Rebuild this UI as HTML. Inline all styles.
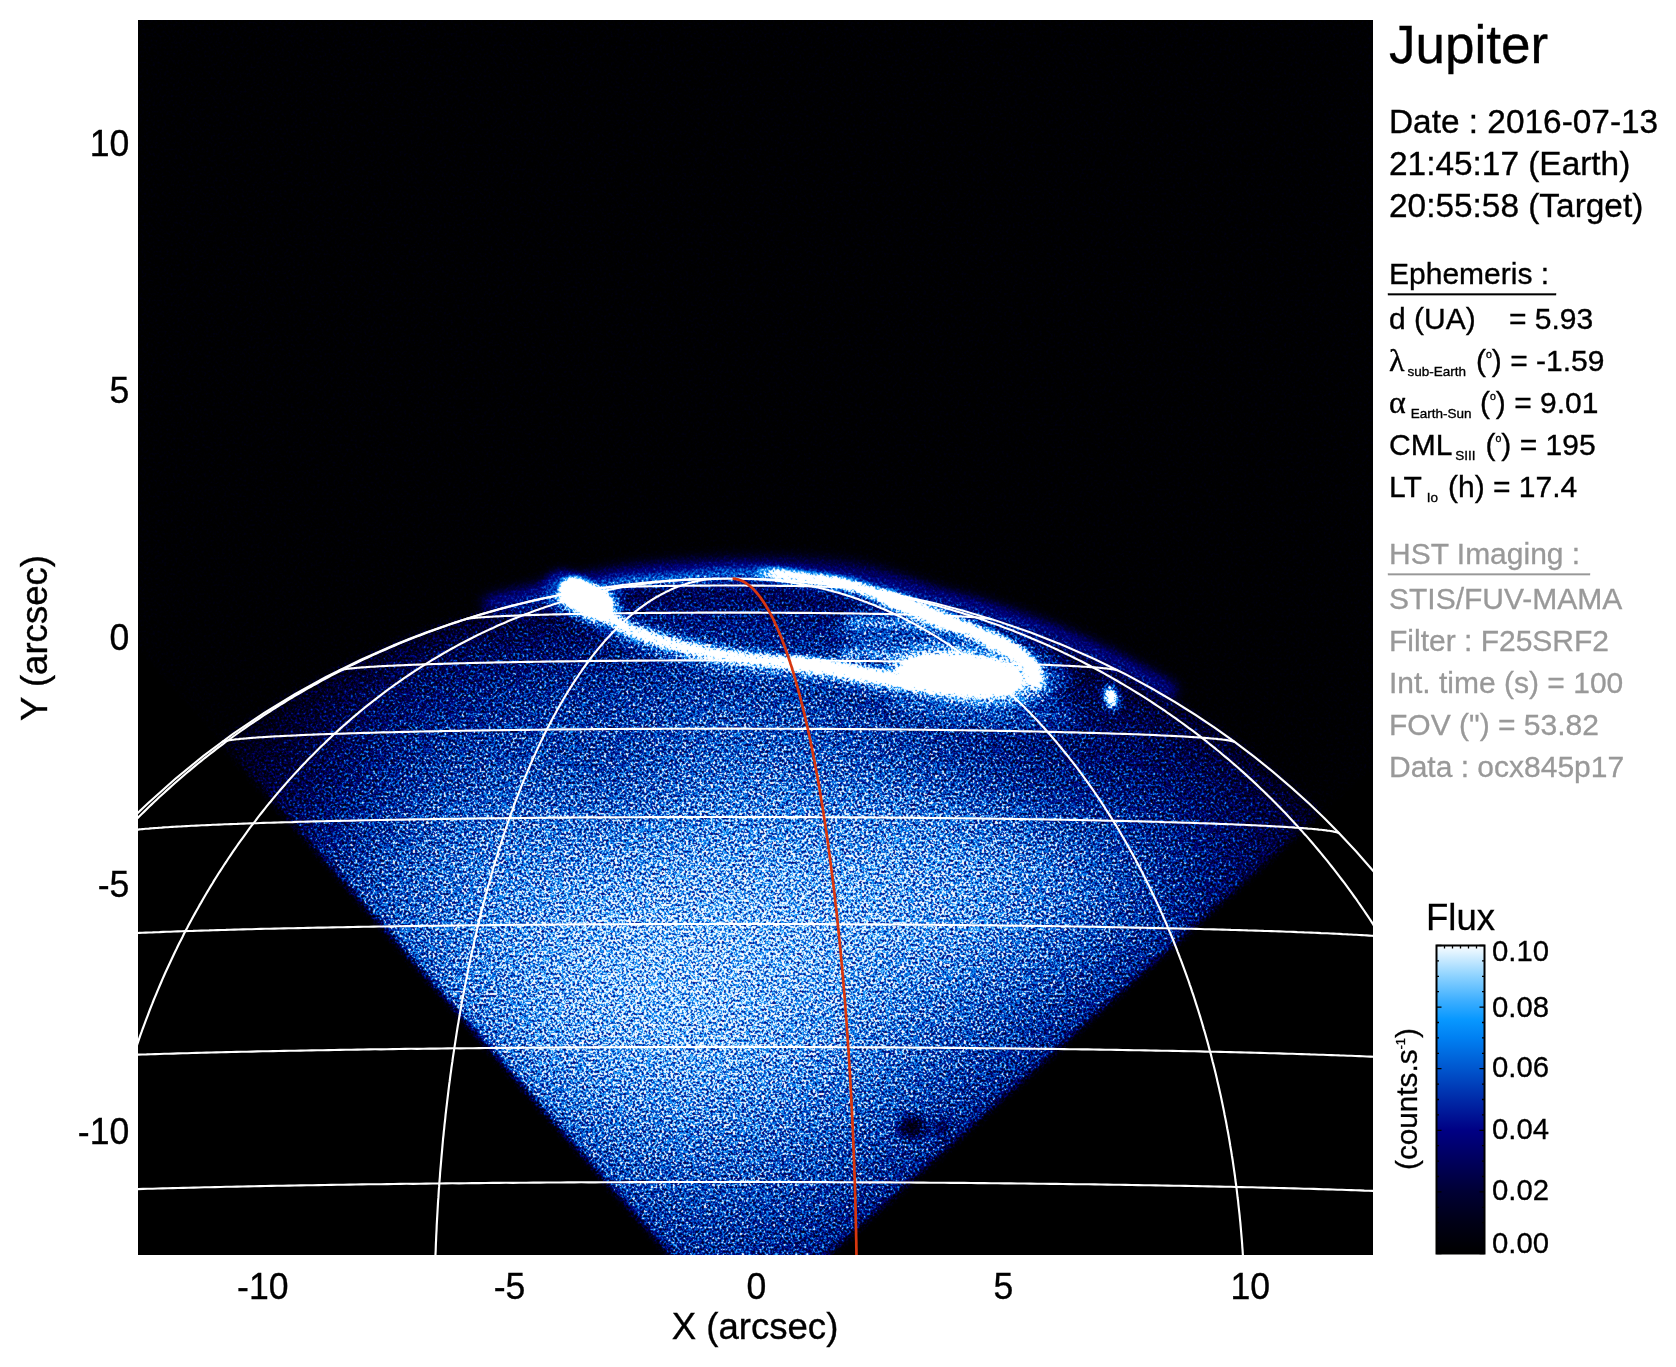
<!DOCTYPE html>
<html><head><meta charset="utf-8"><title>Jupiter HST STIS</title>
<style>
html,body{margin:0;padding:0;background:#fff;}
body{width:1676px;height:1367px;overflow:hidden;font-family:"Liberation Sans",sans-serif;}
svg{display:block;position:absolute;left:0;top:0;will-change:transform;}
text{font-family:"Liberation Sans",sans-serif;}
</style></head><body>
<svg width="1676" height="1367" viewBox="0 0 1676 1367">
<defs>
<clipPath id="plotclip"><rect x="138" y="20" width="1235" height="1235"/></clipPath>
</defs>
<rect x="0" y="0" width="1676" height="1367" fill="#fff"/>
<rect x="138" y="20" width="1235" height="1235" fill="#000"/>

<defs>
<filter id="nz" filterUnits="userSpaceOnUse" x="138" y="20" width="1235" height="1235" color-interpolation-filters="sRGB">
<feTurbulence type="fractalNoise" baseFrequency="0.45" numOctaves="2" seed="7" result="t"/>
<feColorMatrix in="t" type="matrix" values="1.700 0 0 0 -0.350  1.700 0 0 0 -0.350  1.700 0 0 0 -0.350  0 0 0 0 1" result="n"/>
<feComponentTransfer in="n" result="ng"><feFuncR type="gamma" exponent="1.5" amplitude="1" offset="0"/><feFuncG type="gamma" exponent="1.5" amplitude="1" offset="0"/><feFuncB type="gamma" exponent="1.5" amplitude="1" offset="0"/></feComponentTransfer>
<feColorMatrix in="SourceGraphic" type="matrix" values="1 0 0 0 0  1 0 0 0 0  1 0 0 0 0  0 0 0 0 1" result="sr"/>
<feColorMatrix in="SourceGraphic" type="matrix" values="0 1 0 0 0  0 1 0 0 0  0 1 0 0 0  0 0 0 0 1" result="sg"/>
<feComponentTransfer in="sr" result="sq"><feFuncR type="gamma" exponent="0.5" amplitude="1" offset="0"/><feFuncG type="gamma" exponent="0.5" amplitude="1" offset="0"/><feFuncB type="gamma" exponent="0.5" amplitude="1" offset="0"/></feComponentTransfer>
<feComposite in="sr" in2="sq" operator="arithmetic" k1="0" k2="0.5" k3="-0.2909" k4="0.25" result="q"/>
<feComposite in="sq" in2="ng" operator="arithmetic" k1="1" k2="0" k3="0" k4="0" result="p"/>
<feComposite in="q" in2="p" operator="arithmetic" k1="0" k2="2" k3="1.5600" k4="-0.5" result="m1"/>
<feComposite in="sg" in2="n" operator="arithmetic" k1="2" k2="2" k3="0" k4="0" result="m2"/>
<feComposite in="m1" in2="m2" operator="arithmetic" k1="0" k2="1" k3="1" k4="0" result="m"/>
<feComponentTransfer in="m">
<feFuncR type="table" tableValues="0.000 0.000 0.000 0.000 0.000 0.000 0.000 0.000 0.000 0.000 0.000 0.000 0.000 0.000 0.000 0.000 0.000 0.000 0.000 0.000 0.000 0.000 0.000 0.000 0.000 0.000 0.000 0.000 0.000 0.000 0.000 0.000 0.000 0.000 0.000 0.000 0.010 0.021 0.031 0.099 0.167 0.235 0.314 0.392 0.471 0.549 0.639 0.729 0.820 0.910 1.000"/>
<feFuncG type="table" tableValues="0.000 0.000 0.000 0.000 0.000 0.000 0.000 0.000 0.000 0.000 0.000 0.000 0.000 0.000 0.000 0.000 0.000 0.000 0.000 0.000 0.000 0.033 0.066 0.099 0.132 0.165 0.199 0.234 0.268 0.303 0.337 0.370 0.403 0.436 0.469 0.502 0.533 0.565 0.596 0.625 0.654 0.682 0.718 0.753 0.788 0.824 0.859 0.894 0.929 0.965 1.000"/>
<feFuncB type="table" tableValues="0.000 0.017 0.035 0.052 0.069 0.086 0.110 0.133 0.157 0.180 0.204 0.235 0.267 0.298 0.329 0.361 0.392 0.424 0.455 0.486 0.518 0.546 0.574 0.602 0.631 0.659 0.689 0.718 0.748 0.778 0.808 0.836 0.864 0.893 0.921 0.949 0.966 0.983 1.000 1.000 1.000 1.000 1.000 1.000 1.000 1.000 1.000 1.000 1.000 1.000 1.000"/>
</feComponentTransfer>
<feConvolveMatrix order="3" kernelMatrix="0.02 0.06 0.02 0.06 0.68 0.06 0.02 0.06 0.02" preserveAlpha="true" edgeMode="duplicate"/>
</filter>
<filter id="bt" color-interpolation-filters="sRGB" filterUnits="userSpaceOnUse" x="78" y="20" width="1355" height="1295"><feGaussianBlur stdDeviation="11"/></filter>
<filter id="b2" color-interpolation-filters="sRGB" filterUnits="userSpaceOnUse" x="138" y="20" width="1235" height="1235"><feGaussianBlur stdDeviation="2.2"/></filter>
<filter id="be" color-interpolation-filters="sRGB" filterUnits="userSpaceOnUse" x="138" y="20" width="1235" height="1235"><feGaussianBlur stdDeviation="3"/></filter>
<filter id="b3" color-interpolation-filters="sRGB" filterUnits="userSpaceOnUse" x="138" y="20" width="1235" height="1235"><feGaussianBlur stdDeviation="3.5"/></filter>
<filter id="b5" color-interpolation-filters="sRGB" filterUnits="userSpaceOnUse" x="138" y="20" width="1235" height="1235"><feGaussianBlur stdDeviation="5"/></filter>
<filter id="b8" color-interpolation-filters="sRGB" filterUnits="userSpaceOnUse" x="138" y="20" width="1235" height="1235"><feGaussianBlur stdDeviation="9"/></filter>
<clipPath id="diam"><path d="M739.6 1333.9 L-248.3 205.1 L868.3 -796.4 L1856.2 332.3Z"/></clipPath>
<clipPath id="limb"><ellipse cx="728.4" cy="1346.6" rx="823.2" ry="769.95"/></clipPath>
<radialGradient id="ld" gradientUnits="userSpaceOnUse" cx="0" cy="0" r="1" gradientTransform="translate(728.4 1346.6) scale(823.2 769.95)">
<stop offset="0.000" stop-color="rgb(242,0,0)"/>
<stop offset="0.300" stop-color="rgb(234,0,0)"/>
<stop offset="0.500" stop-color="rgb(218,0,0)"/>
<stop offset="0.650" stop-color="rgb(198,0,0)"/>
<stop offset="0.750" stop-color="rgb(179,0,0)"/>
<stop offset="0.820" stop-color="rgb(162,0,0)"/>
<stop offset="0.880" stop-color="rgb(143,0,0)"/>
<stop offset="0.920" stop-color="rgb(126,0,0)"/>
<stop offset="0.950" stop-color="rgb(110,0,0)"/>
<stop offset="0.975" stop-color="rgb(91,0,0)"/>
<stop offset="0.990" stop-color="rgb(74,0,0)"/>
<stop offset="1.000" stop-color="rgb(39,0,0)"/>
</radialGradient>
<radialGradient id="dk" gradientUnits="userSpaceOnUse" cx="0" cy="0" r="1" gradientTransform="translate(680 1010) scale(640 520)">
<stop offset="0" stop-color="#000" stop-opacity="0"/>
<stop offset="0.3" stop-color="#000" stop-opacity="0.03"/>
<stop offset="0.6" stop-color="#000" stop-opacity="0.25"/>
<stop offset="1" stop-color="#000" stop-opacity="0.5"/>
</radialGradient>
</defs>
<g clip-path="url(#plotclip)">
<g filter="url(#nz)">
<rect x="138" y="20" width="1235" height="1235" fill="#000"/>
<g filter="url(#be)">
<g clip-path="url(#diam)">
<rect x="138" y="20" width="1235" height="1235" fill="rgb(2,0,0)"/>
<g clip-path="url(#limb)">
<rect x="138" y="20" width="1235" height="1235" fill="rgb(102,0,0)"/>
<g filter="url(#bt)">
<path d="M114 548h25v25h-25z" fill="rgb(19,0,0)"/>
<path d="M138 548h25v25h-25z" fill="rgb(20,0,0)"/>
<path d="M162 548h25v25h-25z" fill="rgb(20,0,0)"/>
<path d="M186 548h25v25h-25z" fill="rgb(20,0,0)"/>
<path d="M210 548h25v25h-25z" fill="rgb(20,0,0)"/>
<path d="M234 548h25v25h-25z" fill="rgb(20,0,0)"/>
<path d="M258 548h25v25h-25z" fill="rgb(20,0,0)"/>
<path d="M282 548h25v25h-25z" fill="rgb(20,0,0)"/>
<path d="M306 548h25v25h-25z" fill="rgb(20,0,0)"/>
<path d="M330 548h25v25h-25z" fill="rgb(20,0,0)"/>
<path d="M354 548h25v25h-25z" fill="rgb(21,0,0)"/>
<path d="M378 548h25v25h-25z" fill="rgb(21,0,0)"/>
<path d="M402 548h25v25h-25z" fill="rgb(21,0,0)"/>
<path d="M426 548h25v25h-25z" fill="rgb(21,0,0)"/>
<path d="M450 548h25v25h-25z" fill="rgb(21,0,0)"/>
<path d="M474 548h25v25h-25z" fill="rgb(21,0,0)"/>
<path d="M498 548h25v25h-25z" fill="rgb(21,0,0)"/>
<path d="M522 548h25v25h-25z" fill="rgb(21,0,0)"/>
<path d="M546 548h25v25h-25z" fill="rgb(21,0,0)"/>
<path d="M570 548h25v25h-25z" fill="rgb(21,0,0)"/>
<path d="M594 548h25v25h-25z" fill="rgb(21,0,0)"/>
<path d="M618 548h25v25h-25z" fill="rgb(21,0,0)"/>
<path d="M642 548h25v25h-25z" fill="rgb(21,0,0)"/>
<path d="M666 548h25v25h-25z" fill="rgb(21,0,0)"/>
<path d="M690 548h25v25h-25z" fill="rgb(21,0,0)"/>
<path d="M714 548h25v25h-25z" fill="rgb(21,0,0)"/>
<path d="M738 548h25v25h-25z" fill="rgb(21,0,0)"/>
<path d="M762 548h25v25h-25z" fill="rgb(21,0,0)"/>
<path d="M786 548h25v25h-25z" fill="rgb(21,0,0)"/>
<path d="M810 548h25v25h-25z" fill="rgb(21,0,0)"/>
<path d="M834 548h25v25h-25z" fill="rgb(21,0,0)"/>
<path d="M858 548h25v25h-25z" fill="rgb(21,0,0)"/>
<path d="M882 548h25v25h-25z" fill="rgb(21,0,0)"/>
<path d="M906 548h25v25h-25z" fill="rgb(21,0,0)"/>
<path d="M930 548h25v25h-25z" fill="rgb(21,0,0)"/>
<path d="M954 548h25v25h-25z" fill="rgb(21,0,0)"/>
<path d="M978 548h25v25h-25z" fill="rgb(21,0,0)"/>
<path d="M1002 548h25v25h-25z" fill="rgb(21,0,0)"/>
<path d="M1026 548h25v25h-25z" fill="rgb(21,0,0)"/>
<path d="M1050 548h25v25h-25z" fill="rgb(20,0,0)"/>
<path d="M1074 548h25v25h-25z" fill="rgb(20,0,0)"/>
<path d="M1098 548h25v25h-25z" fill="rgb(20,0,0)"/>
<path d="M1122 548h25v25h-25z" fill="rgb(20,0,0)"/>
<path d="M1146 548h25v25h-25z" fill="rgb(20,0,0)"/>
<path d="M1170 548h25v25h-25z" fill="rgb(20,0,0)"/>
<path d="M1194 548h25v25h-25z" fill="rgb(20,0,0)"/>
<path d="M1218 548h25v25h-25z" fill="rgb(20,0,0)"/>
<path d="M1242 548h25v25h-25z" fill="rgb(20,0,0)"/>
<path d="M1266 548h25v25h-25z" fill="rgb(20,0,0)"/>
<path d="M1290 548h25v25h-25z" fill="rgb(20,0,0)"/>
<path d="M1314 548h25v25h-25z" fill="rgb(20,0,0)"/>
<path d="M1338 548h25v25h-25z" fill="rgb(20,0,0)"/>
<path d="M1362 548h25v25h-25z" fill="rgb(20,0,0)"/>
<path d="M1386 548h25v25h-25z" fill="rgb(20,0,0)"/>
<path d="M114 572h25v25h-25z" fill="rgb(19,0,0)"/>
<path d="M138 572h25v25h-25z" fill="rgb(19,0,0)"/>
<path d="M162 572h25v25h-25z" fill="rgb(19,0,0)"/>
<path d="M186 572h25v25h-25z" fill="rgb(19,0,0)"/>
<path d="M210 572h25v25h-25z" fill="rgb(20,0,0)"/>
<path d="M234 572h25v25h-25z" fill="rgb(20,0,0)"/>
<path d="M258 572h25v25h-25z" fill="rgb(20,0,0)"/>
<path d="M282 572h25v25h-25z" fill="rgb(20,0,0)"/>
<path d="M306 572h25v25h-25z" fill="rgb(20,0,0)"/>
<path d="M330 572h25v25h-25z" fill="rgb(20,0,0)"/>
<path d="M354 572h25v25h-25z" fill="rgb(21,0,0)"/>
<path d="M378 572h25v25h-25z" fill="rgb(21,0,0)"/>
<path d="M402 572h25v25h-25z" fill="rgb(21,0,0)"/>
<path d="M426 572h25v25h-25z" fill="rgb(21,0,0)"/>
<path d="M450 572h25v25h-25z" fill="rgb(21,0,0)"/>
<path d="M474 572h25v25h-25z" fill="rgb(21,0,0)"/>
<path d="M498 572h25v25h-25z" fill="rgb(21,0,0)"/>
<path d="M522 572h25v25h-25z" fill="rgb(21,0,0)"/>
<path d="M546 572h25v25h-25z" fill="rgb(21,0,0)"/>
<path d="M570 572h25v25h-25z" fill="rgb(21,0,0)"/>
<path d="M594 572h25v25h-25z" fill="rgb(21,0,0)"/>
<path d="M618 572h25v25h-25z" fill="rgb(21,0,0)"/>
<path d="M642 572h25v25h-25z" fill="rgb(34,0,0)"/>
<path d="M666 572h25v25h-25z" fill="rgb(38,0,0)"/>
<path d="M690 572h25v25h-25z" fill="rgb(40,0,0)"/>
<path d="M714 572h25v25h-25z" fill="rgb(41,0,0)"/>
<path d="M738 572h25v25h-25z" fill="rgb(40,0,0)"/>
<path d="M762 572h25v25h-25z" fill="rgb(38,0,0)"/>
<path d="M786 572h25v25h-25z" fill="rgb(35,0,0)"/>
<path d="M810 572h25v25h-25z" fill="rgb(26,0,0)"/>
<path d="M834 572h25v25h-25z" fill="rgb(21,0,0)"/>
<path d="M858 572h25v25h-25z" fill="rgb(21,0,0)"/>
<path d="M882 572h25v25h-25z" fill="rgb(21,0,0)"/>
<path d="M906 572h25v25h-25z" fill="rgb(21,0,0)"/>
<path d="M930 572h25v25h-25z" fill="rgb(21,0,0)"/>
<path d="M954 572h25v25h-25z" fill="rgb(21,0,0)"/>
<path d="M978 572h25v25h-25z" fill="rgb(21,0,0)"/>
<path d="M1002 572h25v25h-25z" fill="rgb(21,0,0)"/>
<path d="M1026 572h25v25h-25z" fill="rgb(21,0,0)"/>
<path d="M1050 572h25v25h-25z" fill="rgb(21,0,0)"/>
<path d="M1074 572h25v25h-25z" fill="rgb(20,0,0)"/>
<path d="M1098 572h25v25h-25z" fill="rgb(20,0,0)"/>
<path d="M1122 572h25v25h-25z" fill="rgb(20,0,0)"/>
<path d="M1146 572h25v25h-25z" fill="rgb(20,0,0)"/>
<path d="M1170 572h25v25h-25z" fill="rgb(20,0,0)"/>
<path d="M1194 572h25v25h-25z" fill="rgb(20,0,0)"/>
<path d="M1218 572h25v25h-25z" fill="rgb(20,0,0)"/>
<path d="M1242 572h25v25h-25z" fill="rgb(20,0,0)"/>
<path d="M1266 572h25v25h-25z" fill="rgb(20,0,0)"/>
<path d="M1290 572h25v25h-25z" fill="rgb(20,0,0)"/>
<path d="M1314 572h25v25h-25z" fill="rgb(20,0,0)"/>
<path d="M1338 572h25v25h-25z" fill="rgb(20,0,0)"/>
<path d="M1362 572h25v25h-25z" fill="rgb(20,0,0)"/>
<path d="M1386 572h25v25h-25z" fill="rgb(19,0,0)"/>
<path d="M114 596h25v25h-25z" fill="rgb(18,0,0)"/>
<path d="M138 596h25v25h-25z" fill="rgb(18,0,0)"/>
<path d="M162 596h25v25h-25z" fill="rgb(19,0,0)"/>
<path d="M186 596h25v25h-25z" fill="rgb(19,0,0)"/>
<path d="M210 596h25v25h-25z" fill="rgb(19,0,0)"/>
<path d="M234 596h25v25h-25z" fill="rgb(19,0,0)"/>
<path d="M258 596h25v25h-25z" fill="rgb(19,0,0)"/>
<path d="M282 596h25v25h-25z" fill="rgb(20,0,0)"/>
<path d="M306 596h25v25h-25z" fill="rgb(20,0,0)"/>
<path d="M330 596h25v25h-25z" fill="rgb(20,0,0)"/>
<path d="M354 596h25v25h-25z" fill="rgb(20,0,0)"/>
<path d="M378 596h25v25h-25z" fill="rgb(21,0,0)"/>
<path d="M402 596h25v25h-25z" fill="rgb(21,0,0)"/>
<path d="M426 596h25v25h-25z" fill="rgb(21,0,0)"/>
<path d="M450 596h25v25h-25z" fill="rgb(21,0,0)"/>
<path d="M474 596h25v25h-25z" fill="rgb(21,0,0)"/>
<path d="M498 596h25v25h-25z" fill="rgb(32,0,0)"/>
<path d="M522 596h25v25h-25z" fill="rgb(45,0,0)"/>
<path d="M546 596h25v25h-25z" fill="rgb(52,0,0)"/>
<path d="M570 596h25v25h-25z" fill="rgb(57,0,0)"/>
<path d="M594 596h25v25h-25z" fill="rgb(60,0,0)"/>
<path d="M618 596h25v25h-25z" fill="rgb(63,0,0)"/>
<path d="M642 596h25v25h-25z" fill="rgb(65,0,0)"/>
<path d="M666 596h25v25h-25z" fill="rgb(67,0,0)"/>
<path d="M690 596h25v25h-25z" fill="rgb(68,0,0)"/>
<path d="M714 596h25v25h-25z" fill="rgb(68,0,0)"/>
<path d="M738 596h25v25h-25z" fill="rgb(68,0,0)"/>
<path d="M762 596h25v25h-25z" fill="rgb(67,0,0)"/>
<path d="M786 596h25v25h-25z" fill="rgb(65,0,0)"/>
<path d="M810 596h25v25h-25z" fill="rgb(63,0,0)"/>
<path d="M834 596h25v25h-25z" fill="rgb(60,0,0)"/>
<path d="M858 596h25v25h-25z" fill="rgb(56,0,0)"/>
<path d="M882 596h25v25h-25z" fill="rgb(51,0,0)"/>
<path d="M906 596h25v25h-25z" fill="rgb(45,0,0)"/>
<path d="M930 596h25v25h-25z" fill="rgb(35,0,0)"/>
<path d="M954 596h25v25h-25z" fill="rgb(21,0,0)"/>
<path d="M978 596h25v25h-25z" fill="rgb(21,0,0)"/>
<path d="M1002 596h25v25h-25z" fill="rgb(21,0,0)"/>
<path d="M1026 596h25v25h-25z" fill="rgb(21,0,0)"/>
<path d="M1050 596h25v25h-25z" fill="rgb(21,0,0)"/>
<path d="M1074 596h25v25h-25z" fill="rgb(21,0,0)"/>
<path d="M1098 596h25v25h-25z" fill="rgb(20,0,0)"/>
<path d="M1122 596h25v25h-25z" fill="rgb(20,0,0)"/>
<path d="M1146 596h25v25h-25z" fill="rgb(20,0,0)"/>
<path d="M1170 596h25v25h-25z" fill="rgb(20,0,0)"/>
<path d="M1194 596h25v25h-25z" fill="rgb(20,0,0)"/>
<path d="M1218 596h25v25h-25z" fill="rgb(20,0,0)"/>
<path d="M1242 596h25v25h-25z" fill="rgb(20,0,0)"/>
<path d="M1266 596h25v25h-25z" fill="rgb(20,0,0)"/>
<path d="M1290 596h25v25h-25z" fill="rgb(20,0,0)"/>
<path d="M1314 596h25v25h-25z" fill="rgb(20,0,0)"/>
<path d="M1338 596h25v25h-25z" fill="rgb(20,0,0)"/>
<path d="M1362 596h25v25h-25z" fill="rgb(19,0,0)"/>
<path d="M1386 596h25v25h-25z" fill="rgb(19,0,0)"/>
<path d="M114 620h25v25h-25z" fill="rgb(17,0,0)"/>
<path d="M138 620h25v25h-25z" fill="rgb(17,0,0)"/>
<path d="M162 620h25v25h-25z" fill="rgb(17,0,0)"/>
<path d="M186 620h25v25h-25z" fill="rgb(18,0,0)"/>
<path d="M210 620h25v25h-25z" fill="rgb(18,0,0)"/>
<path d="M234 620h25v25h-25z" fill="rgb(18,0,0)"/>
<path d="M258 620h25v25h-25z" fill="rgb(18,0,0)"/>
<path d="M282 620h25v25h-25z" fill="rgb(19,0,0)"/>
<path d="M306 620h25v25h-25z" fill="rgb(19,0,0)"/>
<path d="M330 620h25v25h-25z" fill="rgb(20,0,0)"/>
<path d="M354 620h25v25h-25z" fill="rgb(20,0,0)"/>
<path d="M378 620h25v25h-25z" fill="rgb(21,0,0)"/>
<path d="M402 620h25v25h-25z" fill="rgb(21,0,0)"/>
<path d="M426 620h25v25h-25z" fill="rgb(37,0,0)"/>
<path d="M450 620h25v25h-25z" fill="rgb(50,0,0)"/>
<path d="M474 620h25v25h-25z" fill="rgb(58,0,0)"/>
<path d="M498 620h25v25h-25z" fill="rgb(65,0,0)"/>
<path d="M522 620h25v25h-25z" fill="rgb(70,0,0)"/>
<path d="M546 620h25v25h-25z" fill="rgb(74,0,0)"/>
<path d="M570 620h25v25h-25z" fill="rgb(77,0,0)"/>
<path d="M594 620h25v25h-25z" fill="rgb(80,0,0)"/>
<path d="M618 620h25v25h-25z" fill="rgb(82,0,0)"/>
<path d="M642 620h25v25h-25z" fill="rgb(84,0,0)"/>
<path d="M666 620h25v25h-25z" fill="rgb(85,0,0)"/>
<path d="M690 620h25v25h-25z" fill="rgb(86,0,0)"/>
<path d="M714 620h25v25h-25z" fill="rgb(86,0,0)"/>
<path d="M738 620h25v25h-25z" fill="rgb(86,0,0)"/>
<path d="M762 620h25v25h-25z" fill="rgb(85,0,0)"/>
<path d="M786 620h25v25h-25z" fill="rgb(83,0,0)"/>
<path d="M810 620h25v25h-25z" fill="rgb(81,0,0)"/>
<path d="M834 620h25v25h-25z" fill="rgb(79,0,0)"/>
<path d="M858 620h25v25h-25z" fill="rgb(76,0,0)"/>
<path d="M882 620h25v25h-25z" fill="rgb(72,0,0)"/>
<path d="M906 620h25v25h-25z" fill="rgb(68,0,0)"/>
<path d="M930 620h25v25h-25z" fill="rgb(64,0,0)"/>
<path d="M954 620h25v25h-25z" fill="rgb(58,0,0)"/>
<path d="M978 620h25v25h-25z" fill="rgb(50,0,0)"/>
<path d="M1002 620h25v25h-25z" fill="rgb(39,0,0)"/>
<path d="M1026 620h25v25h-25z" fill="rgb(21,0,0)"/>
<path d="M1050 620h25v25h-25z" fill="rgb(21,0,0)"/>
<path d="M1074 620h25v25h-25z" fill="rgb(21,0,0)"/>
<path d="M1098 620h25v25h-25z" fill="rgb(20,0,0)"/>
<path d="M1122 620h25v25h-25z" fill="rgb(20,0,0)"/>
<path d="M1146 620h25v25h-25z" fill="rgb(20,0,0)"/>
<path d="M1170 620h25v25h-25z" fill="rgb(20,0,0)"/>
<path d="M1194 620h25v25h-25z" fill="rgb(20,0,0)"/>
<path d="M1218 620h25v25h-25z" fill="rgb(20,0,0)"/>
<path d="M1242 620h25v25h-25z" fill="rgb(20,0,0)"/>
<path d="M1266 620h25v25h-25z" fill="rgb(20,0,0)"/>
<path d="M1290 620h25v25h-25z" fill="rgb(20,0,0)"/>
<path d="M1314 620h25v25h-25z" fill="rgb(20,0,0)"/>
<path d="M1338 620h25v25h-25z" fill="rgb(19,0,0)"/>
<path d="M1362 620h25v25h-25z" fill="rgb(19,0,0)"/>
<path d="M1386 620h25v25h-25z" fill="rgb(19,0,0)"/>
<path d="M114 644h25v25h-25z" fill="rgb(16,0,0)"/>
<path d="M138 644h25v25h-25z" fill="rgb(16,0,0)"/>
<path d="M162 644h25v25h-25z" fill="rgb(16,0,0)"/>
<path d="M186 644h25v25h-25z" fill="rgb(16,0,0)"/>
<path d="M210 644h25v25h-25z" fill="rgb(16,0,0)"/>
<path d="M234 644h25v25h-25z" fill="rgb(16,0,0)"/>
<path d="M258 644h25v25h-25z" fill="rgb(17,0,0)"/>
<path d="M282 644h25v25h-25z" fill="rgb(18,0,0)"/>
<path d="M306 644h25v25h-25z" fill="rgb(19,0,0)"/>
<path d="M330 644h25v25h-25z" fill="rgb(19,0,0)"/>
<path d="M354 644h25v25h-25z" fill="rgb(20,0,0)"/>
<path d="M378 644h25v25h-25z" fill="rgb(44,0,0)"/>
<path d="M402 644h25v25h-25z" fill="rgb(56,0,0)"/>
<path d="M426 644h25v25h-25z" fill="rgb(65,0,0)"/>
<path d="M450 644h25v25h-25z" fill="rgb(72,0,0)"/>
<path d="M474 644h25v25h-25z" fill="rgb(78,0,0)"/>
<path d="M498 644h25v25h-25z" fill="rgb(83,0,0)"/>
<path d="M522 644h25v25h-25z" fill="rgb(88,0,0)"/>
<path d="M546 644h25v25h-25z" fill="rgb(92,0,0)"/>
<path d="M570 644h25v25h-25z" fill="rgb(95,0,0)"/>
<path d="M594 644h25v25h-25z" fill="rgb(98,0,0)"/>
<path d="M618 644h25v25h-25z" fill="rgb(100,0,0)"/>
<path d="M642 644h25v25h-25z" fill="rgb(102,0,0)"/>
<path d="M666 644h25v25h-25z" fill="rgb(104,0,0)"/>
<path d="M690 644h25v25h-25z" fill="rgb(105,0,0)"/>
<path d="M714 644h25v25h-25z" fill="rgb(105,0,0)"/>
<path d="M738 644h25v25h-25z" fill="rgb(104,0,0)"/>
<path d="M762 644h25v25h-25z" fill="rgb(103,0,0)"/>
<path d="M786 644h25v25h-25z" fill="rgb(101,0,0)"/>
<path d="M810 644h25v25h-25z" fill="rgb(99,0,0)"/>
<path d="M834 644h25v25h-25z" fill="rgb(96,0,0)"/>
<path d="M858 644h25v25h-25z" fill="rgb(93,0,0)"/>
<path d="M882 644h25v25h-25z" fill="rgb(89,0,0)"/>
<path d="M906 644h25v25h-25z" fill="rgb(85,0,0)"/>
<path d="M930 644h25v25h-25z" fill="rgb(81,0,0)"/>
<path d="M954 644h25v25h-25z" fill="rgb(76,0,0)"/>
<path d="M978 644h25v25h-25z" fill="rgb(71,0,0)"/>
<path d="M1002 644h25v25h-25z" fill="rgb(64,0,0)"/>
<path d="M1026 644h25v25h-25z" fill="rgb(57,0,0)"/>
<path d="M1050 644h25v25h-25z" fill="rgb(47,0,0)"/>
<path d="M1074 644h25v25h-25z" fill="rgb(27,0,0)"/>
<path d="M1098 644h25v25h-25z" fill="rgb(21,0,0)"/>
<path d="M1122 644h25v25h-25z" fill="rgb(20,0,0)"/>
<path d="M1146 644h25v25h-25z" fill="rgb(20,0,0)"/>
<path d="M1170 644h25v25h-25z" fill="rgb(20,0,0)"/>
<path d="M1194 644h25v25h-25z" fill="rgb(20,0,0)"/>
<path d="M1218 644h25v25h-25z" fill="rgb(20,0,0)"/>
<path d="M1242 644h25v25h-25z" fill="rgb(20,0,0)"/>
<path d="M1266 644h25v25h-25z" fill="rgb(20,0,0)"/>
<path d="M1290 644h25v25h-25z" fill="rgb(20,0,0)"/>
<path d="M1314 644h25v25h-25z" fill="rgb(19,0,0)"/>
<path d="M1338 644h25v25h-25z" fill="rgb(19,0,0)"/>
<path d="M1362 644h25v25h-25z" fill="rgb(19,0,0)"/>
<path d="M1386 644h25v25h-25z" fill="rgb(18,0,0)"/>
<path d="M114 668h25v25h-25z" fill="rgb(15,0,0)"/>
<path d="M138 668h25v25h-25z" fill="rgb(15,0,0)"/>
<path d="M162 668h25v25h-25z" fill="rgb(14,0,0)"/>
<path d="M186 668h25v25h-25z" fill="rgb(14,0,0)"/>
<path d="M210 668h25v25h-25z" fill="rgb(14,0,0)"/>
<path d="M234 668h25v25h-25z" fill="rgb(15,0,0)"/>
<path d="M258 668h25v25h-25z" fill="rgb(15,0,0)"/>
<path d="M282 668h25v25h-25z" fill="rgb(16,0,0)"/>
<path d="M306 668h25v25h-25z" fill="rgb(18,0,0)"/>
<path d="M330 668h25v25h-25z" fill="rgb(42,0,0)"/>
<path d="M354 668h25v25h-25z" fill="rgb(55,0,0)"/>
<path d="M378 668h25v25h-25z" fill="rgb(66,0,0)"/>
<path d="M402 668h25v25h-25z" fill="rgb(75,0,0)"/>
<path d="M426 668h25v25h-25z" fill="rgb(82,0,0)"/>
<path d="M450 668h25v25h-25z" fill="rgb(89,0,0)"/>
<path d="M474 668h25v25h-25z" fill="rgb(95,0,0)"/>
<path d="M498 668h25v25h-25z" fill="rgb(100,0,0)"/>
<path d="M522 668h25v25h-25z" fill="rgb(105,0,0)"/>
<path d="M546 668h25v25h-25z" fill="rgb(108,0,0)"/>
<path d="M570 668h25v25h-25z" fill="rgb(112,0,0)"/>
<path d="M594 668h25v25h-25z" fill="rgb(115,0,0)"/>
<path d="M618 668h25v25h-25z" fill="rgb(119,0,0)"/>
<path d="M642 668h25v25h-25z" fill="rgb(122,0,0)"/>
<path d="M666 668h25v25h-25z" fill="rgb(124,0,0)"/>
<path d="M690 668h25v25h-25z" fill="rgb(126,0,0)"/>
<path d="M714 668h25v25h-25z" fill="rgb(126,0,0)"/>
<path d="M738 668h25v25h-25z" fill="rgb(126,0,0)"/>
<path d="M762 668h25v25h-25z" fill="rgb(124,0,0)"/>
<path d="M786 668h25v25h-25z" fill="rgb(121,0,0)"/>
<path d="M810 668h25v25h-25z" fill="rgb(118,0,0)"/>
<path d="M834 668h25v25h-25z" fill="rgb(114,0,0)"/>
<path d="M858 668h25v25h-25z" fill="rgb(110,0,0)"/>
<path d="M882 668h25v25h-25z" fill="rgb(106,0,0)"/>
<path d="M906 668h25v25h-25z" fill="rgb(101,0,0)"/>
<path d="M930 668h25v25h-25z" fill="rgb(96,0,0)"/>
<path d="M954 668h25v25h-25z" fill="rgb(91,0,0)"/>
<path d="M978 668h25v25h-25z" fill="rgb(85,0,0)"/>
<path d="M1002 668h25v25h-25z" fill="rgb(80,0,0)"/>
<path d="M1026 668h25v25h-25z" fill="rgb(74,0,0)"/>
<path d="M1050 668h25v25h-25z" fill="rgb(67,0,0)"/>
<path d="M1074 668h25v25h-25z" fill="rgb(59,0,0)"/>
<path d="M1098 668h25v25h-25z" fill="rgb(48,0,0)"/>
<path d="M1122 668h25v25h-25z" fill="rgb(28,0,0)"/>
<path d="M1146 668h25v25h-25z" fill="rgb(20,0,0)"/>
<path d="M1170 668h25v25h-25z" fill="rgb(20,0,0)"/>
<path d="M1194 668h25v25h-25z" fill="rgb(20,0,0)"/>
<path d="M1218 668h25v25h-25z" fill="rgb(20,0,0)"/>
<path d="M1242 668h25v25h-25z" fill="rgb(20,0,0)"/>
<path d="M1266 668h25v25h-25z" fill="rgb(20,0,0)"/>
<path d="M1290 668h25v25h-25z" fill="rgb(19,0,0)"/>
<path d="M1314 668h25v25h-25z" fill="rgb(19,0,0)"/>
<path d="M1338 668h25v25h-25z" fill="rgb(19,0,0)"/>
<path d="M1362 668h25v25h-25z" fill="rgb(18,0,0)"/>
<path d="M1386 668h25v25h-25z" fill="rgb(17,0,0)"/>
<path d="M114 692h25v25h-25z" fill="rgb(15,0,0)"/>
<path d="M138 692h25v25h-25z" fill="rgb(14,0,0)"/>
<path d="M162 692h25v25h-25z" fill="rgb(13,0,0)"/>
<path d="M186 692h25v25h-25z" fill="rgb(12,0,0)"/>
<path d="M210 692h25v25h-25z" fill="rgb(12,0,0)"/>
<path d="M234 692h25v25h-25z" fill="rgb(13,0,0)"/>
<path d="M258 692h25v25h-25z" fill="rgb(14,0,0)"/>
<path d="M282 692h25v25h-25z" fill="rgb(31,0,0)"/>
<path d="M306 692h25v25h-25z" fill="rgb(45,0,0)"/>
<path d="M330 692h25v25h-25z" fill="rgb(57,0,0)"/>
<path d="M354 692h25v25h-25z" fill="rgb(69,0,0)"/>
<path d="M378 692h25v25h-25z" fill="rgb(79,0,0)"/>
<path d="M402 692h25v25h-25z" fill="rgb(88,0,0)"/>
<path d="M426 692h25v25h-25z" fill="rgb(96,0,0)"/>
<path d="M450 692h25v25h-25z" fill="rgb(103,0,0)"/>
<path d="M474 692h25v25h-25z" fill="rgb(109,0,0)"/>
<path d="M498 692h25v25h-25z" fill="rgb(114,0,0)"/>
<path d="M522 692h25v25h-25z" fill="rgb(118,0,0)"/>
<path d="M546 692h25v25h-25z" fill="rgb(122,0,0)"/>
<path d="M570 692h25v25h-25z" fill="rgb(125,0,0)"/>
<path d="M594 692h25v25h-25z" fill="rgb(129,0,0)"/>
<path d="M618 692h25v25h-25z" fill="rgb(133,0,0)"/>
<path d="M642 692h25v25h-25z" fill="rgb(137,0,0)"/>
<path d="M666 692h25v25h-25z" fill="rgb(141,0,0)"/>
<path d="M690 692h25v25h-25z" fill="rgb(144,0,0)"/>
<path d="M714 692h25v25h-25z" fill="rgb(145,0,0)"/>
<path d="M738 692h25v25h-25z" fill="rgb(145,0,0)"/>
<path d="M762 692h25v25h-25z" fill="rgb(143,0,0)"/>
<path d="M786 692h25v25h-25z" fill="rgb(139,0,0)"/>
<path d="M810 692h25v25h-25z" fill="rgb(135,0,0)"/>
<path d="M834 692h25v25h-25z" fill="rgb(131,0,0)"/>
<path d="M858 692h25v25h-25z" fill="rgb(126,0,0)"/>
<path d="M882 692h25v25h-25z" fill="rgb(120,0,0)"/>
<path d="M906 692h25v25h-25z" fill="rgb(115,0,0)"/>
<path d="M930 692h25v25h-25z" fill="rgb(109,0,0)"/>
<path d="M954 692h25v25h-25z" fill="rgb(103,0,0)"/>
<path d="M978 692h25v25h-25z" fill="rgb(97,0,0)"/>
<path d="M1002 692h25v25h-25z" fill="rgb(90,0,0)"/>
<path d="M1026 692h25v25h-25z" fill="rgb(85,0,0)"/>
<path d="M1050 692h25v25h-25z" fill="rgb(79,0,0)"/>
<path d="M1074 692h25v25h-25z" fill="rgb(72,0,0)"/>
<path d="M1098 692h25v25h-25z" fill="rgb(65,0,0)"/>
<path d="M1122 692h25v25h-25z" fill="rgb(57,0,0)"/>
<path d="M1146 692h25v25h-25z" fill="rgb(45,0,0)"/>
<path d="M1170 692h25v25h-25z" fill="rgb(20,0,0)"/>
<path d="M1194 692h25v25h-25z" fill="rgb(20,0,0)"/>
<path d="M1218 692h25v25h-25z" fill="rgb(20,0,0)"/>
<path d="M1242 692h25v25h-25z" fill="rgb(20,0,0)"/>
<path d="M1266 692h25v25h-25z" fill="rgb(19,0,0)"/>
<path d="M1290 692h25v25h-25z" fill="rgb(19,0,0)"/>
<path d="M1314 692h25v25h-25z" fill="rgb(19,0,0)"/>
<path d="M1338 692h25v25h-25z" fill="rgb(18,0,0)"/>
<path d="M1362 692h25v25h-25z" fill="rgb(17,0,0)"/>
<path d="M1386 692h25v25h-25z" fill="rgb(17,0,0)"/>
<path d="M114 716h25v25h-25z" fill="rgb(14,0,0)"/>
<path d="M138 716h25v25h-25z" fill="rgb(13,0,0)"/>
<path d="M162 716h25v25h-25z" fill="rgb(12,0,0)"/>
<path d="M186 716h25v25h-25z" fill="rgb(11,0,0)"/>
<path d="M210 716h25v25h-25z" fill="rgb(11,0,0)"/>
<path d="M234 716h25v25h-25z" fill="rgb(18,0,0)"/>
<path d="M258 716h25v25h-25z" fill="rgb(32,0,0)"/>
<path d="M282 716h25v25h-25z" fill="rgb(43,0,0)"/>
<path d="M306 716h25v25h-25z" fill="rgb(55,0,0)"/>
<path d="M330 716h25v25h-25z" fill="rgb(67,0,0)"/>
<path d="M354 716h25v25h-25z" fill="rgb(79,0,0)"/>
<path d="M378 716h25v25h-25z" fill="rgb(90,0,0)"/>
<path d="M402 716h25v25h-25z" fill="rgb(100,0,0)"/>
<path d="M426 716h25v25h-25z" fill="rgb(108,0,0)"/>
<path d="M450 716h25v25h-25z" fill="rgb(115,0,0)"/>
<path d="M474 716h25v25h-25z" fill="rgb(121,0,0)"/>
<path d="M498 716h25v25h-25z" fill="rgb(125,0,0)"/>
<path d="M522 716h25v25h-25z" fill="rgb(128,0,0)"/>
<path d="M546 716h25v25h-25z" fill="rgb(129,0,0)"/>
<path d="M570 716h25v25h-25z" fill="rgb(131,0,0)"/>
<path d="M594 716h25v25h-25z" fill="rgb(134,0,0)"/>
<path d="M618 716h25v25h-25z" fill="rgb(138,0,0)"/>
<path d="M642 716h25v25h-25z" fill="rgb(143,0,0)"/>
<path d="M666 716h25v25h-25z" fill="rgb(148,0,0)"/>
<path d="M690 716h25v25h-25z" fill="rgb(152,0,0)"/>
<path d="M714 716h25v25h-25z" fill="rgb(154,0,0)"/>
<path d="M738 716h25v25h-25z" fill="rgb(154,0,0)"/>
<path d="M762 716h25v25h-25z" fill="rgb(153,0,0)"/>
<path d="M786 716h25v25h-25z" fill="rgb(150,0,0)"/>
<path d="M810 716h25v25h-25z" fill="rgb(146,0,0)"/>
<path d="M834 716h25v25h-25z" fill="rgb(142,0,0)"/>
<path d="M858 716h25v25h-25z" fill="rgb(137,0,0)"/>
<path d="M882 716h25v25h-25z" fill="rgb(131,0,0)"/>
<path d="M906 716h25v25h-25z" fill="rgb(125,0,0)"/>
<path d="M930 716h25v25h-25z" fill="rgb(118,0,0)"/>
<path d="M954 716h25v25h-25z" fill="rgb(111,0,0)"/>
<path d="M978 716h25v25h-25z" fill="rgb(104,0,0)"/>
<path d="M1002 716h25v25h-25z" fill="rgb(97,0,0)"/>
<path d="M1026 716h25v25h-25z" fill="rgb(91,0,0)"/>
<path d="M1050 716h25v25h-25z" fill="rgb(85,0,0)"/>
<path d="M1074 716h25v25h-25z" fill="rgb(80,0,0)"/>
<path d="M1098 716h25v25h-25z" fill="rgb(75,0,0)"/>
<path d="M1122 716h25v25h-25z" fill="rgb(69,0,0)"/>
<path d="M1146 716h25v25h-25z" fill="rgb(62,0,0)"/>
<path d="M1170 716h25v25h-25z" fill="rgb(53,0,0)"/>
<path d="M1194 716h25v25h-25z" fill="rgb(37,0,0)"/>
<path d="M1218 716h25v25h-25z" fill="rgb(20,0,0)"/>
<path d="M1242 716h25v25h-25z" fill="rgb(19,0,0)"/>
<path d="M1266 716h25v25h-25z" fill="rgb(19,0,0)"/>
<path d="M1290 716h25v25h-25z" fill="rgb(19,0,0)"/>
<path d="M1314 716h25v25h-25z" fill="rgb(18,0,0)"/>
<path d="M1338 716h25v25h-25z" fill="rgb(17,0,0)"/>
<path d="M1362 716h25v25h-25z" fill="rgb(16,0,0)"/>
<path d="M1386 716h25v25h-25z" fill="rgb(15,0,0)"/>
<path d="M114 740h25v25h-25z" fill="rgb(14,0,0)"/>
<path d="M138 740h25v25h-25z" fill="rgb(13,0,0)"/>
<path d="M162 740h25v25h-25z" fill="rgb(12,0,0)"/>
<path d="M186 740h25v25h-25z" fill="rgb(11,0,0)"/>
<path d="M210 740h25v25h-25z" fill="rgb(21,0,0)"/>
<path d="M234 740h25v25h-25z" fill="rgb(30,0,0)"/>
<path d="M258 740h25v25h-25z" fill="rgb(39,0,0)"/>
<path d="M282 740h25v25h-25z" fill="rgb(50,0,0)"/>
<path d="M306 740h25v25h-25z" fill="rgb(62,0,0)"/>
<path d="M330 740h25v25h-25z" fill="rgb(75,0,0)"/>
<path d="M354 740h25v25h-25z" fill="rgb(88,0,0)"/>
<path d="M378 740h25v25h-25z" fill="rgb(100,0,0)"/>
<path d="M402 740h25v25h-25z" fill="rgb(110,0,0)"/>
<path d="M426 740h25v25h-25z" fill="rgb(119,0,0)"/>
<path d="M450 740h25v25h-25z" fill="rgb(126,0,0)"/>
<path d="M474 740h25v25h-25z" fill="rgb(131,0,0)"/>
<path d="M498 740h25v25h-25z" fill="rgb(135,0,0)"/>
<path d="M522 740h25v25h-25z" fill="rgb(136,0,0)"/>
<path d="M546 740h25v25h-25z" fill="rgb(135,0,0)"/>
<path d="M570 740h25v25h-25z" fill="rgb(135,0,0)"/>
<path d="M594 740h25v25h-25z" fill="rgb(136,0,0)"/>
<path d="M618 740h25v25h-25z" fill="rgb(140,0,0)"/>
<path d="M642 740h25v25h-25z" fill="rgb(146,0,0)"/>
<path d="M666 740h25v25h-25z" fill="rgb(152,0,0)"/>
<path d="M690 740h25v25h-25z" fill="rgb(158,0,0)"/>
<path d="M714 740h25v25h-25z" fill="rgb(161,0,0)"/>
<path d="M738 740h25v25h-25z" fill="rgb(161,0,0)"/>
<path d="M762 740h25v25h-25z" fill="rgb(160,0,0)"/>
<path d="M786 740h25v25h-25z" fill="rgb(158,0,0)"/>
<path d="M810 740h25v25h-25z" fill="rgb(155,0,0)"/>
<path d="M834 740h25v25h-25z" fill="rgb(151,0,0)"/>
<path d="M858 740h25v25h-25z" fill="rgb(147,0,0)"/>
<path d="M882 740h25v25h-25z" fill="rgb(142,0,0)"/>
<path d="M906 740h25v25h-25z" fill="rgb(135,0,0)"/>
<path d="M930 740h25v25h-25z" fill="rgb(128,0,0)"/>
<path d="M954 740h25v25h-25z" fill="rgb(120,0,0)"/>
<path d="M978 740h25v25h-25z" fill="rgb(111,0,0)"/>
<path d="M1002 740h25v25h-25z" fill="rgb(103,0,0)"/>
<path d="M1026 740h25v25h-25z" fill="rgb(96,0,0)"/>
<path d="M1050 740h25v25h-25z" fill="rgb(91,0,0)"/>
<path d="M1074 740h25v25h-25z" fill="rgb(86,0,0)"/>
<path d="M1098 740h25v25h-25z" fill="rgb(82,0,0)"/>
<path d="M1122 740h25v25h-25z" fill="rgb(78,0,0)"/>
<path d="M1146 740h25v25h-25z" fill="rgb(73,0,0)"/>
<path d="M1170 740h25v25h-25z" fill="rgb(66,0,0)"/>
<path d="M1194 740h25v25h-25z" fill="rgb(57,0,0)"/>
<path d="M1218 740h25v25h-25z" fill="rgb(44,0,0)"/>
<path d="M1242 740h25v25h-25z" fill="rgb(19,0,0)"/>
<path d="M1266 740h25v25h-25z" fill="rgb(19,0,0)"/>
<path d="M1290 740h25v25h-25z" fill="rgb(18,0,0)"/>
<path d="M1314 740h25v25h-25z" fill="rgb(17,0,0)"/>
<path d="M1338 740h25v25h-25z" fill="rgb(16,0,0)"/>
<path d="M1362 740h25v25h-25z" fill="rgb(15,0,0)"/>
<path d="M1386 740h25v25h-25z" fill="rgb(14,0,0)"/>
<path d="M114 764h25v25h-25z" fill="rgb(14,0,0)"/>
<path d="M138 764h25v25h-25z" fill="rgb(13,0,0)"/>
<path d="M162 764h25v25h-25z" fill="rgb(12,0,0)"/>
<path d="M186 764h25v25h-25z" fill="rgb(26,0,0)"/>
<path d="M210 764h25v25h-25z" fill="rgb(32,0,0)"/>
<path d="M234 764h25v25h-25z" fill="rgb(37,0,0)"/>
<path d="M258 764h25v25h-25z" fill="rgb(46,0,0)"/>
<path d="M282 764h25v25h-25z" fill="rgb(57,0,0)"/>
<path d="M306 764h25v25h-25z" fill="rgb(70,0,0)"/>
<path d="M330 764h25v25h-25z" fill="rgb(84,0,0)"/>
<path d="M354 764h25v25h-25z" fill="rgb(98,0,0)"/>
<path d="M378 764h25v25h-25z" fill="rgb(110,0,0)"/>
<path d="M402 764h25v25h-25z" fill="rgb(121,0,0)"/>
<path d="M426 764h25v25h-25z" fill="rgb(130,0,0)"/>
<path d="M450 764h25v25h-25z" fill="rgb(138,0,0)"/>
<path d="M474 764h25v25h-25z" fill="rgb(143,0,0)"/>
<path d="M498 764h25v25h-25z" fill="rgb(146,0,0)"/>
<path d="M522 764h25v25h-25z" fill="rgb(147,0,0)"/>
<path d="M546 764h25v25h-25z" fill="rgb(146,0,0)"/>
<path d="M570 764h25v25h-25z" fill="rgb(145,0,0)"/>
<path d="M594 764h25v25h-25z" fill="rgb(145,0,0)"/>
<path d="M618 764h25v25h-25z" fill="rgb(149,0,0)"/>
<path d="M642 764h25v25h-25z" fill="rgb(156,0,0)"/>
<path d="M666 764h25v25h-25z" fill="rgb(163,0,0)"/>
<path d="M690 764h25v25h-25z" fill="rgb(169,0,0)"/>
<path d="M714 764h25v25h-25z" fill="rgb(173,0,0)"/>
<path d="M738 764h25v25h-25z" fill="rgb(174,0,0)"/>
<path d="M762 764h25v25h-25z" fill="rgb(173,0,0)"/>
<path d="M786 764h25v25h-25z" fill="rgb(171,0,0)"/>
<path d="M810 764h25v25h-25z" fill="rgb(169,0,0)"/>
<path d="M834 764h25v25h-25z" fill="rgb(166,0,0)"/>
<path d="M858 764h25v25h-25z" fill="rgb(161,0,0)"/>
<path d="M882 764h25v25h-25z" fill="rgb(156,0,0)"/>
<path d="M906 764h25v25h-25z" fill="rgb(150,0,0)"/>
<path d="M930 764h25v25h-25z" fill="rgb(142,0,0)"/>
<path d="M954 764h25v25h-25z" fill="rgb(134,0,0)"/>
<path d="M978 764h25v25h-25z" fill="rgb(124,0,0)"/>
<path d="M1002 764h25v25h-25z" fill="rgb(116,0,0)"/>
<path d="M1026 764h25v25h-25z" fill="rgb(108,0,0)"/>
<path d="M1050 764h25v25h-25z" fill="rgb(101,0,0)"/>
<path d="M1074 764h25v25h-25z" fill="rgb(96,0,0)"/>
<path d="M1098 764h25v25h-25z" fill="rgb(92,0,0)"/>
<path d="M1122 764h25v25h-25z" fill="rgb(88,0,0)"/>
<path d="M1146 764h25v25h-25z" fill="rgb(83,0,0)"/>
<path d="M1170 764h25v25h-25z" fill="rgb(77,0,0)"/>
<path d="M1194 764h25v25h-25z" fill="rgb(69,0,0)"/>
<path d="M1218 764h25v25h-25z" fill="rgb(60,0,0)"/>
<path d="M1242 764h25v25h-25z" fill="rgb(47,0,0)"/>
<path d="M1266 764h25v25h-25z" fill="rgb(18,0,0)"/>
<path d="M1290 764h25v25h-25z" fill="rgb(17,0,0)"/>
<path d="M1314 764h25v25h-25z" fill="rgb(16,0,0)"/>
<path d="M1338 764h25v25h-25z" fill="rgb(15,0,0)"/>
<path d="M1362 764h25v25h-25z" fill="rgb(14,0,0)"/>
<path d="M1386 764h25v25h-25z" fill="rgb(14,0,0)"/>
<path d="M114 788h25v25h-25z" fill="rgb(15,0,0)"/>
<path d="M138 788h25v25h-25z" fill="rgb(14,0,0)"/>
<path d="M162 788h25v25h-25z" fill="rgb(32,0,0)"/>
<path d="M186 788h25v25h-25z" fill="rgb(38,0,0)"/>
<path d="M210 788h25v25h-25z" fill="rgb(42,0,0)"/>
<path d="M234 788h25v25h-25z" fill="rgb(47,0,0)"/>
<path d="M258 788h25v25h-25z" fill="rgb(54,0,0)"/>
<path d="M282 788h25v25h-25z" fill="rgb(66,0,0)"/>
<path d="M306 788h25v25h-25z" fill="rgb(80,0,0)"/>
<path d="M330 788h25v25h-25z" fill="rgb(94,0,0)"/>
<path d="M354 788h25v25h-25z" fill="rgb(108,0,0)"/>
<path d="M378 788h25v25h-25z" fill="rgb(121,0,0)"/>
<path d="M402 788h25v25h-25z" fill="rgb(132,0,0)"/>
<path d="M426 788h25v25h-25z" fill="rgb(142,0,0)"/>
<path d="M450 788h25v25h-25z" fill="rgb(150,0,0)"/>
<path d="M474 788h25v25h-25z" fill="rgb(157,0,0)"/>
<path d="M498 788h25v25h-25z" fill="rgb(160,0,0)"/>
<path d="M522 788h25v25h-25z" fill="rgb(162,0,0)"/>
<path d="M546 788h25v25h-25z" fill="rgb(162,0,0)"/>
<path d="M570 788h25v25h-25z" fill="rgb(161,0,0)"/>
<path d="M594 788h25v25h-25z" fill="rgb(161,0,0)"/>
<path d="M618 788h25v25h-25z" fill="rgb(164,0,0)"/>
<path d="M642 788h25v25h-25z" fill="rgb(169,0,0)"/>
<path d="M666 788h25v25h-25z" fill="rgb(175,0,0)"/>
<path d="M690 788h25v25h-25z" fill="rgb(180,0,0)"/>
<path d="M714 788h25v25h-25z" fill="rgb(184,0,0)"/>
<path d="M738 788h25v25h-25z" fill="rgb(185,0,0)"/>
<path d="M762 788h25v25h-25z" fill="rgb(185,0,0)"/>
<path d="M786 788h25v25h-25z" fill="rgb(184,0,0)"/>
<path d="M810 788h25v25h-25z" fill="rgb(183,0,0)"/>
<path d="M834 788h25v25h-25z" fill="rgb(181,0,0)"/>
<path d="M858 788h25v25h-25z" fill="rgb(179,0,0)"/>
<path d="M882 788h25v25h-25z" fill="rgb(175,0,0)"/>
<path d="M906 788h25v25h-25z" fill="rgb(170,0,0)"/>
<path d="M930 788h25v25h-25z" fill="rgb(163,0,0)"/>
<path d="M954 788h25v25h-25z" fill="rgb(154,0,0)"/>
<path d="M978 788h25v25h-25z" fill="rgb(145,0,0)"/>
<path d="M1002 788h25v25h-25z" fill="rgb(136,0,0)"/>
<path d="M1026 788h25v25h-25z" fill="rgb(127,0,0)"/>
<path d="M1050 788h25v25h-25z" fill="rgb(120,0,0)"/>
<path d="M1074 788h25v25h-25z" fill="rgb(113,0,0)"/>
<path d="M1098 788h25v25h-25z" fill="rgb(107,0,0)"/>
<path d="M1122 788h25v25h-25z" fill="rgb(101,0,0)"/>
<path d="M1146 788h25v25h-25z" fill="rgb(94,0,0)"/>
<path d="M1170 788h25v25h-25z" fill="rgb(87,0,0)"/>
<path d="M1194 788h25v25h-25z" fill="rgb(79,0,0)"/>
<path d="M1218 788h25v25h-25z" fill="rgb(70,0,0)"/>
<path d="M1242 788h25v25h-25z" fill="rgb(59,0,0)"/>
<path d="M1266 788h25v25h-25z" fill="rgb(46,0,0)"/>
<path d="M1290 788h25v25h-25z" fill="rgb(26,0,0)"/>
<path d="M1314 788h25v25h-25z" fill="rgb(15,0,0)"/>
<path d="M1338 788h25v25h-25z" fill="rgb(14,0,0)"/>
<path d="M1362 788h25v25h-25z" fill="rgb(14,0,0)"/>
<path d="M1386 788h25v25h-25z" fill="rgb(14,0,0)"/>
<path d="M114 812h25v25h-25z" fill="rgb(16,0,0)"/>
<path d="M138 812h25v25h-25z" fill="rgb(38,0,0)"/>
<path d="M162 812h25v25h-25z" fill="rgb(45,0,0)"/>
<path d="M186 812h25v25h-25z" fill="rgb(49,0,0)"/>
<path d="M210 812h25v25h-25z" fill="rgb(54,0,0)"/>
<path d="M234 812h25v25h-25z" fill="rgb(59,0,0)"/>
<path d="M258 812h25v25h-25z" fill="rgb(66,0,0)"/>
<path d="M282 812h25v25h-25z" fill="rgb(75,0,0)"/>
<path d="M306 812h25v25h-25z" fill="rgb(90,0,0)"/>
<path d="M330 812h25v25h-25z" fill="rgb(104,0,0)"/>
<path d="M354 812h25v25h-25z" fill="rgb(119,0,0)"/>
<path d="M378 812h25v25h-25z" fill="rgb(132,0,0)"/>
<path d="M402 812h25v25h-25z" fill="rgb(144,0,0)"/>
<path d="M426 812h25v25h-25z" fill="rgb(154,0,0)"/>
<path d="M450 812h25v25h-25z" fill="rgb(163,0,0)"/>
<path d="M474 812h25v25h-25z" fill="rgb(170,0,0)"/>
<path d="M498 812h25v25h-25z" fill="rgb(175,0,0)"/>
<path d="M522 812h25v25h-25z" fill="rgb(176,0,0)"/>
<path d="M546 812h25v25h-25z" fill="rgb(176,0,0)"/>
<path d="M570 812h25v25h-25z" fill="rgb(176,0,0)"/>
<path d="M594 812h25v25h-25z" fill="rgb(177,0,0)"/>
<path d="M618 812h25v25h-25z" fill="rgb(180,0,0)"/>
<path d="M642 812h25v25h-25z" fill="rgb(184,0,0)"/>
<path d="M666 812h25v25h-25z" fill="rgb(189,0,0)"/>
<path d="M690 812h25v25h-25z" fill="rgb(192,0,0)"/>
<path d="M714 812h25v25h-25z" fill="rgb(195,0,0)"/>
<path d="M738 812h25v25h-25z" fill="rgb(196,0,0)"/>
<path d="M762 812h25v25h-25z" fill="rgb(195,0,0)"/>
<path d="M786 812h25v25h-25z" fill="rgb(195,0,0)"/>
<path d="M810 812h25v25h-25z" fill="rgb(194,0,0)"/>
<path d="M834 812h25v25h-25z" fill="rgb(193,0,0)"/>
<path d="M858 812h25v25h-25z" fill="rgb(192,0,0)"/>
<path d="M882 812h25v25h-25z" fill="rgb(190,0,0)"/>
<path d="M906 812h25v25h-25z" fill="rgb(187,0,0)"/>
<path d="M930 812h25v25h-25z" fill="rgb(184,0,0)"/>
<path d="M954 812h25v25h-25z" fill="rgb(178,0,0)"/>
<path d="M978 812h25v25h-25z" fill="rgb(170,0,0)"/>
<path d="M1002 812h25v25h-25z" fill="rgb(160,0,0)"/>
<path d="M1026 812h25v25h-25z" fill="rgb(151,0,0)"/>
<path d="M1050 812h25v25h-25z" fill="rgb(142,0,0)"/>
<path d="M1074 812h25v25h-25z" fill="rgb(132,0,0)"/>
<path d="M1098 812h25v25h-25z" fill="rgb(124,0,0)"/>
<path d="M1122 812h25v25h-25z" fill="rgb(115,0,0)"/>
<path d="M1146 812h25v25h-25z" fill="rgb(106,0,0)"/>
<path d="M1170 812h25v25h-25z" fill="rgb(97,0,0)"/>
<path d="M1194 812h25v25h-25z" fill="rgb(87,0,0)"/>
<path d="M1218 812h25v25h-25z" fill="rgb(77,0,0)"/>
<path d="M1242 812h25v25h-25z" fill="rgb(66,0,0)"/>
<path d="M1266 812h25v25h-25z" fill="rgb(54,0,0)"/>
<path d="M1290 812h25v25h-25z" fill="rgb(40,0,0)"/>
<path d="M1314 812h25v25h-25z" fill="rgb(24,0,0)"/>
<path d="M1338 812h25v25h-25z" fill="rgb(14,0,0)"/>
<path d="M1362 812h25v25h-25z" fill="rgb(14,0,0)"/>
<path d="M1386 812h25v25h-25z" fill="rgb(14,0,0)"/>
<path d="M114 836h25v25h-25z" fill="rgb(42,0,0)"/>
<path d="M138 836h25v25h-25z" fill="rgb(51,0,0)"/>
<path d="M162 836h25v25h-25z" fill="rgb(57,0,0)"/>
<path d="M186 836h25v25h-25z" fill="rgb(62,0,0)"/>
<path d="M210 836h25v25h-25z" fill="rgb(66,0,0)"/>
<path d="M234 836h25v25h-25z" fill="rgb(72,0,0)"/>
<path d="M258 836h25v25h-25z" fill="rgb(79,0,0)"/>
<path d="M282 836h25v25h-25z" fill="rgb(87,0,0)"/>
<path d="M306 836h25v25h-25z" fill="rgb(99,0,0)"/>
<path d="M330 836h25v25h-25z" fill="rgb(114,0,0)"/>
<path d="M354 836h25v25h-25z" fill="rgb(129,0,0)"/>
<path d="M378 836h25v25h-25z" fill="rgb(142,0,0)"/>
<path d="M402 836h25v25h-25z" fill="rgb(155,0,0)"/>
<path d="M426 836h25v25h-25z" fill="rgb(166,0,0)"/>
<path d="M450 836h25v25h-25z" fill="rgb(173,0,0)"/>
<path d="M474 836h25v25h-25z" fill="rgb(179,0,0)"/>
<path d="M498 836h25v25h-25z" fill="rgb(183,0,0)"/>
<path d="M522 836h25v25h-25z" fill="rgb(186,0,0)"/>
<path d="M546 836h25v25h-25z" fill="rgb(188,0,0)"/>
<path d="M570 836h25v25h-25z" fill="rgb(190,0,0)"/>
<path d="M594 836h25v25h-25z" fill="rgb(192,0,0)"/>
<path d="M618 836h25v25h-25z" fill="rgb(195,0,0)"/>
<path d="M642 836h25v25h-25z" fill="rgb(199,0,0)"/>
<path d="M666 836h25v25h-25z" fill="rgb(202,0,0)"/>
<path d="M690 836h25v25h-25z" fill="rgb(204,0,0)"/>
<path d="M714 836h25v25h-25z" fill="rgb(206,0,0)"/>
<path d="M738 836h25v25h-25z" fill="rgb(206,0,0)"/>
<path d="M762 836h25v25h-25z" fill="rgb(206,0,0)"/>
<path d="M786 836h25v25h-25z" fill="rgb(205,0,0)"/>
<path d="M810 836h25v25h-25z" fill="rgb(205,0,0)"/>
<path d="M834 836h25v25h-25z" fill="rgb(204,0,0)"/>
<path d="M858 836h25v25h-25z" fill="rgb(203,0,0)"/>
<path d="M882 836h25v25h-25z" fill="rgb(202,0,0)"/>
<path d="M906 836h25v25h-25z" fill="rgb(200,0,0)"/>
<path d="M930 836h25v25h-25z" fill="rgb(197,0,0)"/>
<path d="M954 836h25v25h-25z" fill="rgb(193,0,0)"/>
<path d="M978 836h25v25h-25z" fill="rgb(188,0,0)"/>
<path d="M1002 836h25v25h-25z" fill="rgb(182,0,0)"/>
<path d="M1026 836h25v25h-25z" fill="rgb(171,0,0)"/>
<path d="M1050 836h25v25h-25z" fill="rgb(160,0,0)"/>
<path d="M1074 836h25v25h-25z" fill="rgb(149,0,0)"/>
<path d="M1098 836h25v25h-25z" fill="rgb(138,0,0)"/>
<path d="M1122 836h25v25h-25z" fill="rgb(126,0,0)"/>
<path d="M1146 836h25v25h-25z" fill="rgb(115,0,0)"/>
<path d="M1170 836h25v25h-25z" fill="rgb(104,0,0)"/>
<path d="M1194 836h25v25h-25z" fill="rgb(92,0,0)"/>
<path d="M1218 836h25v25h-25z" fill="rgb(81,0,0)"/>
<path d="M1242 836h25v25h-25z" fill="rgb(69,0,0)"/>
<path d="M1266 836h25v25h-25z" fill="rgb(57,0,0)"/>
<path d="M1290 836h25v25h-25z" fill="rgb(49,0,0)"/>
<path d="M1314 836h25v25h-25z" fill="rgb(39,0,0)"/>
<path d="M1338 836h25v25h-25z" fill="rgb(23,0,0)"/>
<path d="M1362 836h25v25h-25z" fill="rgb(14,0,0)"/>
<path d="M1386 836h25v25h-25z" fill="rgb(14,0,0)"/>
<path d="M114 860h25v25h-25z" fill="rgb(54,0,0)"/>
<path d="M138 860h25v25h-25z" fill="rgb(62,0,0)"/>
<path d="M162 860h25v25h-25z" fill="rgb(68,0,0)"/>
<path d="M186 860h25v25h-25z" fill="rgb(73,0,0)"/>
<path d="M210 860h25v25h-25z" fill="rgb(79,0,0)"/>
<path d="M234 860h25v25h-25z" fill="rgb(85,0,0)"/>
<path d="M258 860h25v25h-25z" fill="rgb(92,0,0)"/>
<path d="M282 860h25v25h-25z" fill="rgb(100,0,0)"/>
<path d="M306 860h25v25h-25z" fill="rgb(109,0,0)"/>
<path d="M330 860h25v25h-25z" fill="rgb(121,0,0)"/>
<path d="M354 860h25v25h-25z" fill="rgb(137,0,0)"/>
<path d="M378 860h25v25h-25z" fill="rgb(151,0,0)"/>
<path d="M402 860h25v25h-25z" fill="rgb(162,0,0)"/>
<path d="M426 860h25v25h-25z" fill="rgb(171,0,0)"/>
<path d="M450 860h25v25h-25z" fill="rgb(178,0,0)"/>
<path d="M474 860h25v25h-25z" fill="rgb(185,0,0)"/>
<path d="M498 860h25v25h-25z" fill="rgb(191,0,0)"/>
<path d="M522 860h25v25h-25z" fill="rgb(195,0,0)"/>
<path d="M546 860h25v25h-25z" fill="rgb(199,0,0)"/>
<path d="M570 860h25v25h-25z" fill="rgb(203,0,0)"/>
<path d="M594 860h25v25h-25z" fill="rgb(206,0,0)"/>
<path d="M618 860h25v25h-25z" fill="rgb(208,0,0)"/>
<path d="M642 860h25v25h-25z" fill="rgb(211,0,0)"/>
<path d="M666 860h25v25h-25z" fill="rgb(213,0,0)"/>
<path d="M690 860h25v25h-25z" fill="rgb(215,0,0)"/>
<path d="M714 860h25v25h-25z" fill="rgb(215,0,0)"/>
<path d="M738 860h25v25h-25z" fill="rgb(215,0,0)"/>
<path d="M762 860h25v25h-25z" fill="rgb(215,0,0)"/>
<path d="M786 860h25v25h-25z" fill="rgb(214,0,0)"/>
<path d="M810 860h25v25h-25z" fill="rgb(213,0,0)"/>
<path d="M834 860h25v25h-25z" fill="rgb(213,0,0)"/>
<path d="M858 860h25v25h-25z" fill="rgb(212,0,0)"/>
<path d="M882 860h25v25h-25z" fill="rgb(211,0,0)"/>
<path d="M906 860h25v25h-25z" fill="rgb(209,0,0)"/>
<path d="M930 860h25v25h-25z" fill="rgb(206,0,0)"/>
<path d="M954 860h25v25h-25z" fill="rgb(202,0,0)"/>
<path d="M978 860h25v25h-25z" fill="rgb(197,0,0)"/>
<path d="M1002 860h25v25h-25z" fill="rgb(191,0,0)"/>
<path d="M1026 860h25v25h-25z" fill="rgb(183,0,0)"/>
<path d="M1050 860h25v25h-25z" fill="rgb(173,0,0)"/>
<path d="M1074 860h25v25h-25z" fill="rgb(160,0,0)"/>
<path d="M1098 860h25v25h-25z" fill="rgb(147,0,0)"/>
<path d="M1122 860h25v25h-25z" fill="rgb(133,0,0)"/>
<path d="M1146 860h25v25h-25z" fill="rgb(120,0,0)"/>
<path d="M1170 860h25v25h-25z" fill="rgb(107,0,0)"/>
<path d="M1194 860h25v25h-25z" fill="rgb(94,0,0)"/>
<path d="M1218 860h25v25h-25z" fill="rgb(82,0,0)"/>
<path d="M1242 860h25v25h-25z" fill="rgb(69,0,0)"/>
<path d="M1266 860h25v25h-25z" fill="rgb(62,0,0)"/>
<path d="M1290 860h25v25h-25z" fill="rgb(56,0,0)"/>
<path d="M1314 860h25v25h-25z" fill="rgb(48,0,0)"/>
<path d="M1338 860h25v25h-25z" fill="rgb(38,0,0)"/>
<path d="M1362 860h25v25h-25z" fill="rgb(15,0,0)"/>
<path d="M1386 860h25v25h-25z" fill="rgb(14,0,0)"/>
<path d="M114 884h25v25h-25z" fill="rgb(64,0,0)"/>
<path d="M138 884h25v25h-25z" fill="rgb(71,0,0)"/>
<path d="M162 884h25v25h-25z" fill="rgb(78,0,0)"/>
<path d="M186 884h25v25h-25z" fill="rgb(83,0,0)"/>
<path d="M210 884h25v25h-25z" fill="rgb(89,0,0)"/>
<path d="M234 884h25v25h-25z" fill="rgb(96,0,0)"/>
<path d="M258 884h25v25h-25z" fill="rgb(103,0,0)"/>
<path d="M282 884h25v25h-25z" fill="rgb(111,0,0)"/>
<path d="M306 884h25v25h-25z" fill="rgb(119,0,0)"/>
<path d="M330 884h25v25h-25z" fill="rgb(128,0,0)"/>
<path d="M354 884h25v25h-25z" fill="rgb(142,0,0)"/>
<path d="M378 884h25v25h-25z" fill="rgb(154,0,0)"/>
<path d="M402 884h25v25h-25z" fill="rgb(164,0,0)"/>
<path d="M426 884h25v25h-25z" fill="rgb(174,0,0)"/>
<path d="M450 884h25v25h-25z" fill="rgb(182,0,0)"/>
<path d="M474 884h25v25h-25z" fill="rgb(190,0,0)"/>
<path d="M498 884h25v25h-25z" fill="rgb(197,0,0)"/>
<path d="M522 884h25v25h-25z" fill="rgb(202,0,0)"/>
<path d="M546 884h25v25h-25z" fill="rgb(207,0,0)"/>
<path d="M570 884h25v25h-25z" fill="rgb(212,0,0)"/>
<path d="M594 884h25v25h-25z" fill="rgb(215,0,0)"/>
<path d="M618 884h25v25h-25z" fill="rgb(218,0,0)"/>
<path d="M642 884h25v25h-25z" fill="rgb(221,0,0)"/>
<path d="M666 884h25v25h-25z" fill="rgb(223,0,0)"/>
<path d="M690 884h25v25h-25z" fill="rgb(223,0,0)"/>
<path d="M714 884h25v25h-25z" fill="rgb(223,0,0)"/>
<path d="M738 884h25v25h-25z" fill="rgb(223,0,0)"/>
<path d="M762 884h25v25h-25z" fill="rgb(222,0,0)"/>
<path d="M786 884h25v25h-25z" fill="rgb(221,0,0)"/>
<path d="M810 884h25v25h-25z" fill="rgb(219,0,0)"/>
<path d="M834 884h25v25h-25z" fill="rgb(218,0,0)"/>
<path d="M858 884h25v25h-25z" fill="rgb(217,0,0)"/>
<path d="M882 884h25v25h-25z" fill="rgb(215,0,0)"/>
<path d="M906 884h25v25h-25z" fill="rgb(213,0,0)"/>
<path d="M930 884h25v25h-25z" fill="rgb(210,0,0)"/>
<path d="M954 884h25v25h-25z" fill="rgb(205,0,0)"/>
<path d="M978 884h25v25h-25z" fill="rgb(200,0,0)"/>
<path d="M1002 884h25v25h-25z" fill="rgb(192,0,0)"/>
<path d="M1026 884h25v25h-25z" fill="rgb(184,0,0)"/>
<path d="M1050 884h25v25h-25z" fill="rgb(174,0,0)"/>
<path d="M1074 884h25v25h-25z" fill="rgb(164,0,0)"/>
<path d="M1098 884h25v25h-25z" fill="rgb(151,0,0)"/>
<path d="M1122 884h25v25h-25z" fill="rgb(136,0,0)"/>
<path d="M1146 884h25v25h-25z" fill="rgb(121,0,0)"/>
<path d="M1170 884h25v25h-25z" fill="rgb(107,0,0)"/>
<path d="M1194 884h25v25h-25z" fill="rgb(93,0,0)"/>
<path d="M1218 884h25v25h-25z" fill="rgb(79,0,0)"/>
<path d="M1242 884h25v25h-25z" fill="rgb(73,0,0)"/>
<path d="M1266 884h25v25h-25z" fill="rgb(67,0,0)"/>
<path d="M1290 884h25v25h-25z" fill="rgb(61,0,0)"/>
<path d="M1314 884h25v25h-25z" fill="rgb(54,0,0)"/>
<path d="M1338 884h25v25h-25z" fill="rgb(47,0,0)"/>
<path d="M1362 884h25v25h-25z" fill="rgb(36,0,0)"/>
<path d="M1386 884h25v25h-25z" fill="rgb(14,0,0)"/>
<path d="M114 908h25v25h-25z" fill="rgb(72,0,0)"/>
<path d="M138 908h25v25h-25z" fill="rgb(79,0,0)"/>
<path d="M162 908h25v25h-25z" fill="rgb(86,0,0)"/>
<path d="M186 908h25v25h-25z" fill="rgb(92,0,0)"/>
<path d="M210 908h25v25h-25z" fill="rgb(98,0,0)"/>
<path d="M234 908h25v25h-25z" fill="rgb(105,0,0)"/>
<path d="M258 908h25v25h-25z" fill="rgb(112,0,0)"/>
<path d="M282 908h25v25h-25z" fill="rgb(120,0,0)"/>
<path d="M306 908h25v25h-25z" fill="rgb(128,0,0)"/>
<path d="M330 908h25v25h-25z" fill="rgb(135,0,0)"/>
<path d="M354 908h25v25h-25z" fill="rgb(141,0,0)"/>
<path d="M378 908h25v25h-25z" fill="rgb(152,0,0)"/>
<path d="M402 908h25v25h-25z" fill="rgb(164,0,0)"/>
<path d="M426 908h25v25h-25z" fill="rgb(175,0,0)"/>
<path d="M450 908h25v25h-25z" fill="rgb(185,0,0)"/>
<path d="M474 908h25v25h-25z" fill="rgb(193,0,0)"/>
<path d="M498 908h25v25h-25z" fill="rgb(201,0,0)"/>
<path d="M522 908h25v25h-25z" fill="rgb(208,0,0)"/>
<path d="M546 908h25v25h-25z" fill="rgb(213,0,0)"/>
<path d="M570 908h25v25h-25z" fill="rgb(218,0,0)"/>
<path d="M594 908h25v25h-25z" fill="rgb(222,0,0)"/>
<path d="M618 908h25v25h-25z" fill="rgb(225,0,0)"/>
<path d="M642 908h25v25h-25z" fill="rgb(228,0,0)"/>
<path d="M666 908h25v25h-25z" fill="rgb(229,0,0)"/>
<path d="M690 908h25v25h-25z" fill="rgb(230,0,0)"/>
<path d="M714 908h25v25h-25z" fill="rgb(229,0,0)"/>
<path d="M738 908h25v25h-25z" fill="rgb(228,0,0)"/>
<path d="M762 908h25v25h-25z" fill="rgb(226,0,0)"/>
<path d="M786 908h25v25h-25z" fill="rgb(224,0,0)"/>
<path d="M810 908h25v25h-25z" fill="rgb(222,0,0)"/>
<path d="M834 908h25v25h-25z" fill="rgb(220,0,0)"/>
<path d="M858 908h25v25h-25z" fill="rgb(218,0,0)"/>
<path d="M882 908h25v25h-25z" fill="rgb(215,0,0)"/>
<path d="M906 908h25v25h-25z" fill="rgb(212,0,0)"/>
<path d="M930 908h25v25h-25z" fill="rgb(208,0,0)"/>
<path d="M954 908h25v25h-25z" fill="rgb(203,0,0)"/>
<path d="M978 908h25v25h-25z" fill="rgb(196,0,0)"/>
<path d="M1002 908h25v25h-25z" fill="rgb(189,0,0)"/>
<path d="M1026 908h25v25h-25z" fill="rgb(179,0,0)"/>
<path d="M1050 908h25v25h-25z" fill="rgb(169,0,0)"/>
<path d="M1074 908h25v25h-25z" fill="rgb(159,0,0)"/>
<path d="M1098 908h25v25h-25z" fill="rgb(147,0,0)"/>
<path d="M1122 908h25v25h-25z" fill="rgb(134,0,0)"/>
<path d="M1146 908h25v25h-25z" fill="rgb(118,0,0)"/>
<path d="M1170 908h25v25h-25z" fill="rgb(103,0,0)"/>
<path d="M1194 908h25v25h-25z" fill="rgb(89,0,0)"/>
<path d="M1218 908h25v25h-25z" fill="rgb(83,0,0)"/>
<path d="M1242 908h25v25h-25z" fill="rgb(77,0,0)"/>
<path d="M1266 908h25v25h-25z" fill="rgb(71,0,0)"/>
<path d="M1290 908h25v25h-25z" fill="rgb(66,0,0)"/>
<path d="M1314 908h25v25h-25z" fill="rgb(60,0,0)"/>
<path d="M1338 908h25v25h-25z" fill="rgb(53,0,0)"/>
<path d="M1362 908h25v25h-25z" fill="rgb(45,0,0)"/>
<path d="M1386 908h25v25h-25z" fill="rgb(32,0,0)"/>
<path d="M114 932h25v25h-25z" fill="rgb(78,0,0)"/>
<path d="M138 932h25v25h-25z" fill="rgb(85,0,0)"/>
<path d="M162 932h25v25h-25z" fill="rgb(92,0,0)"/>
<path d="M186 932h25v25h-25z" fill="rgb(99,0,0)"/>
<path d="M210 932h25v25h-25z" fill="rgb(105,0,0)"/>
<path d="M234 932h25v25h-25z" fill="rgb(112,0,0)"/>
<path d="M258 932h25v25h-25z" fill="rgb(119,0,0)"/>
<path d="M282 932h25v25h-25z" fill="rgb(127,0,0)"/>
<path d="M306 932h25v25h-25z" fill="rgb(133,0,0)"/>
<path d="M330 932h25v25h-25z" fill="rgb(138,0,0)"/>
<path d="M354 932h25v25h-25z" fill="rgb(143,0,0)"/>
<path d="M378 932h25v25h-25z" fill="rgb(149,0,0)"/>
<path d="M402 932h25v25h-25z" fill="rgb(162,0,0)"/>
<path d="M426 932h25v25h-25z" fill="rgb(174,0,0)"/>
<path d="M450 932h25v25h-25z" fill="rgb(185,0,0)"/>
<path d="M474 932h25v25h-25z" fill="rgb(195,0,0)"/>
<path d="M498 932h25v25h-25z" fill="rgb(203,0,0)"/>
<path d="M522 932h25v25h-25z" fill="rgb(211,0,0)"/>
<path d="M546 932h25v25h-25z" fill="rgb(217,0,0)"/>
<path d="M570 932h25v25h-25z" fill="rgb(222,0,0)"/>
<path d="M594 932h25v25h-25z" fill="rgb(227,0,0)"/>
<path d="M618 932h25v25h-25z" fill="rgb(230,0,0)"/>
<path d="M642 932h25v25h-25z" fill="rgb(232,0,0)"/>
<path d="M666 932h25v25h-25z" fill="rgb(234,0,0)"/>
<path d="M690 932h25v25h-25z" fill="rgb(234,0,0)"/>
<path d="M714 932h25v25h-25z" fill="rgb(233,0,0)"/>
<path d="M738 932h25v25h-25z" fill="rgb(231,0,0)"/>
<path d="M762 932h25v25h-25z" fill="rgb(228,0,0)"/>
<path d="M786 932h25v25h-25z" fill="rgb(225,0,0)"/>
<path d="M810 932h25v25h-25z" fill="rgb(222,0,0)"/>
<path d="M834 932h25v25h-25z" fill="rgb(219,0,0)"/>
<path d="M858 932h25v25h-25z" fill="rgb(215,0,0)"/>
<path d="M882 932h25v25h-25z" fill="rgb(211,0,0)"/>
<path d="M906 932h25v25h-25z" fill="rgb(207,0,0)"/>
<path d="M930 932h25v25h-25z" fill="rgb(202,0,0)"/>
<path d="M954 932h25v25h-25z" fill="rgb(196,0,0)"/>
<path d="M978 932h25v25h-25z" fill="rgb(188,0,0)"/>
<path d="M1002 932h25v25h-25z" fill="rgb(180,0,0)"/>
<path d="M1026 932h25v25h-25z" fill="rgb(171,0,0)"/>
<path d="M1050 932h25v25h-25z" fill="rgb(160,0,0)"/>
<path d="M1074 932h25v25h-25z" fill="rgb(149,0,0)"/>
<path d="M1098 932h25v25h-25z" fill="rgb(137,0,0)"/>
<path d="M1122 932h25v25h-25z" fill="rgb(125,0,0)"/>
<path d="M1146 932h25v25h-25z" fill="rgb(111,0,0)"/>
<path d="M1170 932h25v25h-25z" fill="rgb(97,0,0)"/>
<path d="M1194 932h25v25h-25z" fill="rgb(91,0,0)"/>
<path d="M1218 932h25v25h-25z" fill="rgb(86,0,0)"/>
<path d="M1242 932h25v25h-25z" fill="rgb(80,0,0)"/>
<path d="M1266 932h25v25h-25z" fill="rgb(75,0,0)"/>
<path d="M1290 932h25v25h-25z" fill="rgb(70,0,0)"/>
<path d="M1314 932h25v25h-25z" fill="rgb(64,0,0)"/>
<path d="M1338 932h25v25h-25z" fill="rgb(58,0,0)"/>
<path d="M1362 932h25v25h-25z" fill="rgb(51,0,0)"/>
<path d="M1386 932h25v25h-25z" fill="rgb(42,0,0)"/>
<path d="M114 956h25v25h-25z" fill="rgb(84,0,0)"/>
<path d="M138 956h25v25h-25z" fill="rgb(91,0,0)"/>
<path d="M162 956h25v25h-25z" fill="rgb(97,0,0)"/>
<path d="M186 956h25v25h-25z" fill="rgb(104,0,0)"/>
<path d="M210 956h25v25h-25z" fill="rgb(111,0,0)"/>
<path d="M234 956h25v25h-25z" fill="rgb(117,0,0)"/>
<path d="M258 956h25v25h-25z" fill="rgb(125,0,0)"/>
<path d="M282 956h25v25h-25z" fill="rgb(130,0,0)"/>
<path d="M306 956h25v25h-25z" fill="rgb(135,0,0)"/>
<path d="M330 956h25v25h-25z" fill="rgb(139,0,0)"/>
<path d="M354 956h25v25h-25z" fill="rgb(145,0,0)"/>
<path d="M378 956h25v25h-25z" fill="rgb(150,0,0)"/>
<path d="M402 956h25v25h-25z" fill="rgb(156,0,0)"/>
<path d="M426 956h25v25h-25z" fill="rgb(170,0,0)"/>
<path d="M450 956h25v25h-25z" fill="rgb(183,0,0)"/>
<path d="M474 956h25v25h-25z" fill="rgb(194,0,0)"/>
<path d="M498 956h25v25h-25z" fill="rgb(203,0,0)"/>
<path d="M522 956h25v25h-25z" fill="rgb(212,0,0)"/>
<path d="M546 956h25v25h-25z" fill="rgb(219,0,0)"/>
<path d="M570 956h25v25h-25z" fill="rgb(224,0,0)"/>
<path d="M594 956h25v25h-25z" fill="rgb(229,0,0)"/>
<path d="M618 956h25v25h-25z" fill="rgb(232,0,0)"/>
<path d="M642 956h25v25h-25z" fill="rgb(235,0,0)"/>
<path d="M666 956h25v25h-25z" fill="rgb(236,0,0)"/>
<path d="M690 956h25v25h-25z" fill="rgb(235,0,0)"/>
<path d="M714 956h25v25h-25z" fill="rgb(234,0,0)"/>
<path d="M738 956h25v25h-25z" fill="rgb(231,0,0)"/>
<path d="M762 956h25v25h-25z" fill="rgb(228,0,0)"/>
<path d="M786 956h25v25h-25z" fill="rgb(224,0,0)"/>
<path d="M810 956h25v25h-25z" fill="rgb(220,0,0)"/>
<path d="M834 956h25v25h-25z" fill="rgb(215,0,0)"/>
<path d="M858 956h25v25h-25z" fill="rgb(210,0,0)"/>
<path d="M882 956h25v25h-25z" fill="rgb(204,0,0)"/>
<path d="M906 956h25v25h-25z" fill="rgb(199,0,0)"/>
<path d="M930 956h25v25h-25z" fill="rgb(192,0,0)"/>
<path d="M954 956h25v25h-25z" fill="rgb(185,0,0)"/>
<path d="M978 956h25v25h-25z" fill="rgb(177,0,0)"/>
<path d="M1002 956h25v25h-25z" fill="rgb(169,0,0)"/>
<path d="M1026 956h25v25h-25z" fill="rgb(159,0,0)"/>
<path d="M1050 956h25v25h-25z" fill="rgb(149,0,0)"/>
<path d="M1074 956h25v25h-25z" fill="rgb(137,0,0)"/>
<path d="M1098 956h25v25h-25z" fill="rgb(125,0,0)"/>
<path d="M1122 956h25v25h-25z" fill="rgb(112,0,0)"/>
<path d="M1146 956h25v25h-25z" fill="rgb(102,0,0)"/>
<path d="M1170 956h25v25h-25z" fill="rgb(98,0,0)"/>
<path d="M1194 956h25v25h-25z" fill="rgb(93,0,0)"/>
<path d="M1218 956h25v25h-25z" fill="rgb(88,0,0)"/>
<path d="M1242 956h25v25h-25z" fill="rgb(83,0,0)"/>
<path d="M1266 956h25v25h-25z" fill="rgb(78,0,0)"/>
<path d="M1290 956h25v25h-25z" fill="rgb(73,0,0)"/>
<path d="M1314 956h25v25h-25z" fill="rgb(68,0,0)"/>
<path d="M1338 956h25v25h-25z" fill="rgb(62,0,0)"/>
<path d="M1362 956h25v25h-25z" fill="rgb(56,0,0)"/>
<path d="M1386 956h25v25h-25z" fill="rgb(48,0,0)"/>
<path d="M114 980h25v25h-25z" fill="rgb(88,0,0)"/>
<path d="M138 980h25v25h-25z" fill="rgb(95,0,0)"/>
<path d="M162 980h25v25h-25z" fill="rgb(101,0,0)"/>
<path d="M186 980h25v25h-25z" fill="rgb(108,0,0)"/>
<path d="M210 980h25v25h-25z" fill="rgb(115,0,0)"/>
<path d="M234 980h25v25h-25z" fill="rgb(122,0,0)"/>
<path d="M258 980h25v25h-25z" fill="rgb(127,0,0)"/>
<path d="M282 980h25v25h-25z" fill="rgb(131,0,0)"/>
<path d="M306 980h25v25h-25z" fill="rgb(135,0,0)"/>
<path d="M330 980h25v25h-25z" fill="rgb(140,0,0)"/>
<path d="M354 980h25v25h-25z" fill="rgb(145,0,0)"/>
<path d="M378 980h25v25h-25z" fill="rgb(151,0,0)"/>
<path d="M402 980h25v25h-25z" fill="rgb(157,0,0)"/>
<path d="M426 980h25v25h-25z" fill="rgb(163,0,0)"/>
<path d="M450 980h25v25h-25z" fill="rgb(178,0,0)"/>
<path d="M474 980h25v25h-25z" fill="rgb(191,0,0)"/>
<path d="M498 980h25v25h-25z" fill="rgb(201,0,0)"/>
<path d="M522 980h25v25h-25z" fill="rgb(210,0,0)"/>
<path d="M546 980h25v25h-25z" fill="rgb(218,0,0)"/>
<path d="M570 980h25v25h-25z" fill="rgb(224,0,0)"/>
<path d="M594 980h25v25h-25z" fill="rgb(229,0,0)"/>
<path d="M618 980h25v25h-25z" fill="rgb(232,0,0)"/>
<path d="M642 980h25v25h-25z" fill="rgb(235,0,0)"/>
<path d="M666 980h25v25h-25z" fill="rgb(236,0,0)"/>
<path d="M690 980h25v25h-25z" fill="rgb(235,0,0)"/>
<path d="M714 980h25v25h-25z" fill="rgb(233,0,0)"/>
<path d="M738 980h25v25h-25z" fill="rgb(230,0,0)"/>
<path d="M762 980h25v25h-25z" fill="rgb(226,0,0)"/>
<path d="M786 980h25v25h-25z" fill="rgb(221,0,0)"/>
<path d="M810 980h25v25h-25z" fill="rgb(215,0,0)"/>
<path d="M834 980h25v25h-25z" fill="rgb(209,0,0)"/>
<path d="M858 980h25v25h-25z" fill="rgb(203,0,0)"/>
<path d="M882 980h25v25h-25z" fill="rgb(196,0,0)"/>
<path d="M906 980h25v25h-25z" fill="rgb(189,0,0)"/>
<path d="M930 980h25v25h-25z" fill="rgb(182,0,0)"/>
<path d="M954 980h25v25h-25z" fill="rgb(174,0,0)"/>
<path d="M978 980h25v25h-25z" fill="rgb(165,0,0)"/>
<path d="M1002 980h25v25h-25z" fill="rgb(156,0,0)"/>
<path d="M1026 980h25v25h-25z" fill="rgb(146,0,0)"/>
<path d="M1050 980h25v25h-25z" fill="rgb(135,0,0)"/>
<path d="M1074 980h25v25h-25z" fill="rgb(123,0,0)"/>
<path d="M1098 980h25v25h-25z" fill="rgb(110,0,0)"/>
<path d="M1122 980h25v25h-25z" fill="rgb(102,0,0)"/>
<path d="M1146 980h25v25h-25z" fill="rgb(99,0,0)"/>
<path d="M1170 980h25v25h-25z" fill="rgb(97,0,0)"/>
<path d="M1194 980h25v25h-25z" fill="rgb(94,0,0)"/>
<path d="M1218 980h25v25h-25z" fill="rgb(89,0,0)"/>
<path d="M1242 980h25v25h-25z" fill="rgb(85,0,0)"/>
<path d="M1266 980h25v25h-25z" fill="rgb(80,0,0)"/>
<path d="M1290 980h25v25h-25z" fill="rgb(76,0,0)"/>
<path d="M1314 980h25v25h-25z" fill="rgb(71,0,0)"/>
<path d="M1338 980h25v25h-25z" fill="rgb(66,0,0)"/>
<path d="M1362 980h25v25h-25z" fill="rgb(60,0,0)"/>
<path d="M1386 980h25v25h-25z" fill="rgb(53,0,0)"/>
<path d="M114 1004h25v25h-25z" fill="rgb(92,0,0)"/>
<path d="M138 1004h25v25h-25z" fill="rgb(99,0,0)"/>
<path d="M162 1004h25v25h-25z" fill="rgb(105,0,0)"/>
<path d="M186 1004h25v25h-25z" fill="rgb(111,0,0)"/>
<path d="M210 1004h25v25h-25z" fill="rgb(118,0,0)"/>
<path d="M234 1004h25v25h-25z" fill="rgb(124,0,0)"/>
<path d="M258 1004h25v25h-25z" fill="rgb(127,0,0)"/>
<path d="M282 1004h25v25h-25z" fill="rgb(131,0,0)"/>
<path d="M306 1004h25v25h-25z" fill="rgb(135,0,0)"/>
<path d="M330 1004h25v25h-25z" fill="rgb(140,0,0)"/>
<path d="M354 1004h25v25h-25z" fill="rgb(145,0,0)"/>
<path d="M378 1004h25v25h-25z" fill="rgb(150,0,0)"/>
<path d="M402 1004h25v25h-25z" fill="rgb(156,0,0)"/>
<path d="M426 1004h25v25h-25z" fill="rgb(161,0,0)"/>
<path d="M450 1004h25v25h-25z" fill="rgb(170,0,0)"/>
<path d="M474 1004h25v25h-25z" fill="rgb(184,0,0)"/>
<path d="M498 1004h25v25h-25z" fill="rgb(196,0,0)"/>
<path d="M522 1004h25v25h-25z" fill="rgb(206,0,0)"/>
<path d="M546 1004h25v25h-25z" fill="rgb(214,0,0)"/>
<path d="M570 1004h25v25h-25z" fill="rgb(221,0,0)"/>
<path d="M594 1004h25v25h-25z" fill="rgb(226,0,0)"/>
<path d="M618 1004h25v25h-25z" fill="rgb(229,0,0)"/>
<path d="M642 1004h25v25h-25z" fill="rgb(232,0,0)"/>
<path d="M666 1004h25v25h-25z" fill="rgb(233,0,0)"/>
<path d="M690 1004h25v25h-25z" fill="rgb(232,0,0)"/>
<path d="M714 1004h25v25h-25z" fill="rgb(230,0,0)"/>
<path d="M738 1004h25v25h-25z" fill="rgb(226,0,0)"/>
<path d="M762 1004h25v25h-25z" fill="rgb(221,0,0)"/>
<path d="M786 1004h25v25h-25z" fill="rgb(215,0,0)"/>
<path d="M810 1004h25v25h-25z" fill="rgb(209,0,0)"/>
<path d="M834 1004h25v25h-25z" fill="rgb(202,0,0)"/>
<path d="M858 1004h25v25h-25z" fill="rgb(195,0,0)"/>
<path d="M882 1004h25v25h-25z" fill="rgb(187,0,0)"/>
<path d="M906 1004h25v25h-25z" fill="rgb(179,0,0)"/>
<path d="M930 1004h25v25h-25z" fill="rgb(171,0,0)"/>
<path d="M954 1004h25v25h-25z" fill="rgb(162,0,0)"/>
<path d="M978 1004h25v25h-25z" fill="rgb(153,0,0)"/>
<path d="M1002 1004h25v25h-25z" fill="rgb(143,0,0)"/>
<path d="M1026 1004h25v25h-25z" fill="rgb(133,0,0)"/>
<path d="M1050 1004h25v25h-25z" fill="rgb(121,0,0)"/>
<path d="M1074 1004h25v25h-25z" fill="rgb(108,0,0)"/>
<path d="M1098 1004h25v25h-25z" fill="rgb(102,0,0)"/>
<path d="M1122 1004h25v25h-25z" fill="rgb(99,0,0)"/>
<path d="M1146 1004h25v25h-25z" fill="rgb(97,0,0)"/>
<path d="M1170 1004h25v25h-25z" fill="rgb(95,0,0)"/>
<path d="M1194 1004h25v25h-25z" fill="rgb(94,0,0)"/>
<path d="M1218 1004h25v25h-25z" fill="rgb(91,0,0)"/>
<path d="M1242 1004h25v25h-25z" fill="rgb(87,0,0)"/>
<path d="M1266 1004h25v25h-25z" fill="rgb(83,0,0)"/>
<path d="M1290 1004h25v25h-25z" fill="rgb(78,0,0)"/>
<path d="M1314 1004h25v25h-25z" fill="rgb(74,0,0)"/>
<path d="M1338 1004h25v25h-25z" fill="rgb(69,0,0)"/>
<path d="M1362 1004h25v25h-25z" fill="rgb(64,0,0)"/>
<path d="M1386 1004h25v25h-25z" fill="rgb(57,0,0)"/>
<path d="M114 1028h25v25h-25z" fill="rgb(95,0,0)"/>
<path d="M138 1028h25v25h-25z" fill="rgb(101,0,0)"/>
<path d="M162 1028h25v25h-25z" fill="rgb(108,0,0)"/>
<path d="M186 1028h25v25h-25z" fill="rgb(114,0,0)"/>
<path d="M210 1028h25v25h-25z" fill="rgb(120,0,0)"/>
<path d="M234 1028h25v25h-25z" fill="rgb(123,0,0)"/>
<path d="M258 1028h25v25h-25z" fill="rgb(126,0,0)"/>
<path d="M282 1028h25v25h-25z" fill="rgb(130,0,0)"/>
<path d="M306 1028h25v25h-25z" fill="rgb(134,0,0)"/>
<path d="M330 1028h25v25h-25z" fill="rgb(138,0,0)"/>
<path d="M354 1028h25v25h-25z" fill="rgb(143,0,0)"/>
<path d="M378 1028h25v25h-25z" fill="rgb(148,0,0)"/>
<path d="M402 1028h25v25h-25z" fill="rgb(153,0,0)"/>
<path d="M426 1028h25v25h-25z" fill="rgb(159,0,0)"/>
<path d="M450 1028h25v25h-25z" fill="rgb(164,0,0)"/>
<path d="M474 1028h25v25h-25z" fill="rgb(173,0,0)"/>
<path d="M498 1028h25v25h-25z" fill="rgb(187,0,0)"/>
<path d="M522 1028h25v25h-25z" fill="rgb(198,0,0)"/>
<path d="M546 1028h25v25h-25z" fill="rgb(207,0,0)"/>
<path d="M570 1028h25v25h-25z" fill="rgb(214,0,0)"/>
<path d="M594 1028h25v25h-25z" fill="rgb(219,0,0)"/>
<path d="M618 1028h25v25h-25z" fill="rgb(223,0,0)"/>
<path d="M642 1028h25v25h-25z" fill="rgb(225,0,0)"/>
<path d="M666 1028h25v25h-25z" fill="rgb(226,0,0)"/>
<path d="M690 1028h25v25h-25z" fill="rgb(225,0,0)"/>
<path d="M714 1028h25v25h-25z" fill="rgb(223,0,0)"/>
<path d="M738 1028h25v25h-25z" fill="rgb(219,0,0)"/>
<path d="M762 1028h25v25h-25z" fill="rgb(214,0,0)"/>
<path d="M786 1028h25v25h-25z" fill="rgb(208,0,0)"/>
<path d="M810 1028h25v25h-25z" fill="rgb(201,0,0)"/>
<path d="M834 1028h25v25h-25z" fill="rgb(194,0,0)"/>
<path d="M858 1028h25v25h-25z" fill="rgb(186,0,0)"/>
<path d="M882 1028h25v25h-25z" fill="rgb(178,0,0)"/>
<path d="M906 1028h25v25h-25z" fill="rgb(169,0,0)"/>
<path d="M930 1028h25v25h-25z" fill="rgb(160,0,0)"/>
<path d="M954 1028h25v25h-25z" fill="rgb(151,0,0)"/>
<path d="M978 1028h25v25h-25z" fill="rgb(141,0,0)"/>
<path d="M1002 1028h25v25h-25z" fill="rgb(130,0,0)"/>
<path d="M1026 1028h25v25h-25z" fill="rgb(119,0,0)"/>
<path d="M1050 1028h25v25h-25z" fill="rgb(106,0,0)"/>
<path d="M1074 1028h25v25h-25z" fill="rgb(101,0,0)"/>
<path d="M1098 1028h25v25h-25z" fill="rgb(99,0,0)"/>
<path d="M1122 1028h25v25h-25z" fill="rgb(97,0,0)"/>
<path d="M1146 1028h25v25h-25z" fill="rgb(95,0,0)"/>
<path d="M1170 1028h25v25h-25z" fill="rgb(94,0,0)"/>
<path d="M1194 1028h25v25h-25z" fill="rgb(92,0,0)"/>
<path d="M1218 1028h25v25h-25z" fill="rgb(91,0,0)"/>
<path d="M1242 1028h25v25h-25z" fill="rgb(88,0,0)"/>
<path d="M1266 1028h25v25h-25z" fill="rgb(85,0,0)"/>
<path d="M1290 1028h25v25h-25z" fill="rgb(81,0,0)"/>
<path d="M1314 1028h25v25h-25z" fill="rgb(76,0,0)"/>
<path d="M1338 1028h25v25h-25z" fill="rgb(72,0,0)"/>
<path d="M1362 1028h25v25h-25z" fill="rgb(67,0,0)"/>
<path d="M1386 1028h25v25h-25z" fill="rgb(61,0,0)"/>
<path d="M114 1052h25v25h-25z" fill="rgb(98,0,0)"/>
<path d="M138 1052h25v25h-25z" fill="rgb(104,0,0)"/>
<path d="M162 1052h25v25h-25z" fill="rgb(110,0,0)"/>
<path d="M186 1052h25v25h-25z" fill="rgb(116,0,0)"/>
<path d="M210 1052h25v25h-25z" fill="rgb(119,0,0)"/>
<path d="M234 1052h25v25h-25z" fill="rgb(122,0,0)"/>
<path d="M258 1052h25v25h-25z" fill="rgb(125,0,0)"/>
<path d="M282 1052h25v25h-25z" fill="rgb(128,0,0)"/>
<path d="M306 1052h25v25h-25z" fill="rgb(132,0,0)"/>
<path d="M330 1052h25v25h-25z" fill="rgb(136,0,0)"/>
<path d="M354 1052h25v25h-25z" fill="rgb(140,0,0)"/>
<path d="M378 1052h25v25h-25z" fill="rgb(145,0,0)"/>
<path d="M402 1052h25v25h-25z" fill="rgb(150,0,0)"/>
<path d="M426 1052h25v25h-25z" fill="rgb(155,0,0)"/>
<path d="M450 1052h25v25h-25z" fill="rgb(160,0,0)"/>
<path d="M474 1052h25v25h-25z" fill="rgb(165,0,0)"/>
<path d="M498 1052h25v25h-25z" fill="rgb(174,0,0)"/>
<path d="M522 1052h25v25h-25z" fill="rgb(187,0,0)"/>
<path d="M546 1052h25v25h-25z" fill="rgb(197,0,0)"/>
<path d="M570 1052h25v25h-25z" fill="rgb(204,0,0)"/>
<path d="M594 1052h25v25h-25z" fill="rgb(210,0,0)"/>
<path d="M618 1052h25v25h-25z" fill="rgb(214,0,0)"/>
<path d="M642 1052h25v25h-25z" fill="rgb(216,0,0)"/>
<path d="M666 1052h25v25h-25z" fill="rgb(217,0,0)"/>
<path d="M690 1052h25v25h-25z" fill="rgb(216,0,0)"/>
<path d="M714 1052h25v25h-25z" fill="rgb(214,0,0)"/>
<path d="M738 1052h25v25h-25z" fill="rgb(210,0,0)"/>
<path d="M762 1052h25v25h-25z" fill="rgb(205,0,0)"/>
<path d="M786 1052h25v25h-25z" fill="rgb(199,0,0)"/>
<path d="M810 1052h25v25h-25z" fill="rgb(192,0,0)"/>
<path d="M834 1052h25v25h-25z" fill="rgb(184,0,0)"/>
<path d="M858 1052h25v25h-25z" fill="rgb(176,0,0)"/>
<path d="M882 1052h25v25h-25z" fill="rgb(168,0,0)"/>
<path d="M906 1052h25v25h-25z" fill="rgb(159,0,0)"/>
<path d="M930 1052h25v25h-25z" fill="rgb(149,0,0)"/>
<path d="M954 1052h25v25h-25z" fill="rgb(139,0,0)"/>
<path d="M978 1052h25v25h-25z" fill="rgb(129,0,0)"/>
<path d="M1002 1052h25v25h-25z" fill="rgb(117,0,0)"/>
<path d="M1026 1052h25v25h-25z" fill="rgb(105,0,0)"/>
<path d="M1050 1052h25v25h-25z" fill="rgb(101,0,0)"/>
<path d="M1074 1052h25v25h-25z" fill="rgb(99,0,0)"/>
<path d="M1098 1052h25v25h-25z" fill="rgb(97,0,0)"/>
<path d="M1122 1052h25v25h-25z" fill="rgb(95,0,0)"/>
<path d="M1146 1052h25v25h-25z" fill="rgb(94,0,0)"/>
<path d="M1170 1052h25v25h-25z" fill="rgb(92,0,0)"/>
<path d="M1194 1052h25v25h-25z" fill="rgb(92,0,0)"/>
<path d="M1218 1052h25v25h-25z" fill="rgb(91,0,0)"/>
<path d="M1242 1052h25v25h-25z" fill="rgb(90,0,0)"/>
<path d="M1266 1052h25v25h-25z" fill="rgb(86,0,0)"/>
<path d="M1290 1052h25v25h-25z" fill="rgb(83,0,0)"/>
<path d="M1314 1052h25v25h-25z" fill="rgb(79,0,0)"/>
<path d="M1338 1052h25v25h-25z" fill="rgb(74,0,0)"/>
<path d="M1362 1052h25v25h-25z" fill="rgb(69,0,0)"/>
<path d="M1386 1052h25v25h-25z" fill="rgb(64,0,0)"/>
<path d="M114 1076h25v25h-25z" fill="rgb(100,0,0)"/>
<path d="M138 1076h25v25h-25z" fill="rgb(106,0,0)"/>
<path d="M162 1076h25v25h-25z" fill="rgb(112,0,0)"/>
<path d="M186 1076h25v25h-25z" fill="rgb(116,0,0)"/>
<path d="M210 1076h25v25h-25z" fill="rgb(118,0,0)"/>
<path d="M234 1076h25v25h-25z" fill="rgb(120,0,0)"/>
<path d="M258 1076h25v25h-25z" fill="rgb(123,0,0)"/>
<path d="M282 1076h25v25h-25z" fill="rgb(126,0,0)"/>
<path d="M306 1076h25v25h-25z" fill="rgb(129,0,0)"/>
<path d="M330 1076h25v25h-25z" fill="rgb(133,0,0)"/>
<path d="M354 1076h25v25h-25z" fill="rgb(137,0,0)"/>
<path d="M378 1076h25v25h-25z" fill="rgb(141,0,0)"/>
<path d="M402 1076h25v25h-25z" fill="rgb(145,0,0)"/>
<path d="M426 1076h25v25h-25z" fill="rgb(150,0,0)"/>
<path d="M450 1076h25v25h-25z" fill="rgb(154,0,0)"/>
<path d="M474 1076h25v25h-25z" fill="rgb(159,0,0)"/>
<path d="M498 1076h25v25h-25z" fill="rgb(163,0,0)"/>
<path d="M522 1076h25v25h-25z" fill="rgb(173,0,0)"/>
<path d="M546 1076h25v25h-25z" fill="rgb(184,0,0)"/>
<path d="M570 1076h25v25h-25z" fill="rgb(192,0,0)"/>
<path d="M594 1076h25v25h-25z" fill="rgb(198,0,0)"/>
<path d="M618 1076h25v25h-25z" fill="rgb(202,0,0)"/>
<path d="M642 1076h25v25h-25z" fill="rgb(205,0,0)"/>
<path d="M666 1076h25v25h-25z" fill="rgb(206,0,0)"/>
<path d="M690 1076h25v25h-25z" fill="rgb(205,0,0)"/>
<path d="M714 1076h25v25h-25z" fill="rgb(203,0,0)"/>
<path d="M738 1076h25v25h-25z" fill="rgb(200,0,0)"/>
<path d="M762 1076h25v25h-25z" fill="rgb(195,0,0)"/>
<path d="M786 1076h25v25h-25z" fill="rgb(189,0,0)"/>
<path d="M810 1076h25v25h-25z" fill="rgb(182,0,0)"/>
<path d="M834 1076h25v25h-25z" fill="rgb(174,0,0)"/>
<path d="M858 1076h25v25h-25z" fill="rgb(166,0,0)"/>
<path d="M882 1076h25v25h-25z" fill="rgb(157,0,0)"/>
<path d="M906 1076h25v25h-25z" fill="rgb(148,0,0)"/>
<path d="M930 1076h25v25h-25z" fill="rgb(138,0,0)"/>
<path d="M954 1076h25v25h-25z" fill="rgb(128,0,0)"/>
<path d="M978 1076h25v25h-25z" fill="rgb(116,0,0)"/>
<path d="M1002 1076h25v25h-25z" fill="rgb(103,0,0)"/>
<path d="M1026 1076h25v25h-25z" fill="rgb(101,0,0)"/>
<path d="M1050 1076h25v25h-25z" fill="rgb(98,0,0)"/>
<path d="M1074 1076h25v25h-25z" fill="rgb(97,0,0)"/>
<path d="M1098 1076h25v25h-25z" fill="rgb(95,0,0)"/>
<path d="M1122 1076h25v25h-25z" fill="rgb(94,0,0)"/>
<path d="M1146 1076h25v25h-25z" fill="rgb(93,0,0)"/>
<path d="M1170 1076h25v25h-25z" fill="rgb(92,0,0)"/>
<path d="M1194 1076h25v25h-25z" fill="rgb(91,0,0)"/>
<path d="M1218 1076h25v25h-25z" fill="rgb(90,0,0)"/>
<path d="M1242 1076h25v25h-25z" fill="rgb(90,0,0)"/>
<path d="M1266 1076h25v25h-25z" fill="rgb(88,0,0)"/>
<path d="M1290 1076h25v25h-25z" fill="rgb(85,0,0)"/>
<path d="M1314 1076h25v25h-25z" fill="rgb(81,0,0)"/>
<path d="M1338 1076h25v25h-25z" fill="rgb(76,0,0)"/>
<path d="M1362 1076h25v25h-25z" fill="rgb(72,0,0)"/>
<path d="M1386 1076h25v25h-25z" fill="rgb(66,0,0)"/>
<path d="M114 1100h25v25h-25z" fill="rgb(102,0,0)"/>
<path d="M138 1100h25v25h-25z" fill="rgb(107,0,0)"/>
<path d="M162 1100h25v25h-25z" fill="rgb(113,0,0)"/>
<path d="M186 1100h25v25h-25z" fill="rgb(115,0,0)"/>
<path d="M210 1100h25v25h-25z" fill="rgb(117,0,0)"/>
<path d="M234 1100h25v25h-25z" fill="rgb(119,0,0)"/>
<path d="M258 1100h25v25h-25z" fill="rgb(121,0,0)"/>
<path d="M282 1100h25v25h-25z" fill="rgb(124,0,0)"/>
<path d="M306 1100h25v25h-25z" fill="rgb(126,0,0)"/>
<path d="M330 1100h25v25h-25z" fill="rgb(129,0,0)"/>
<path d="M354 1100h25v25h-25z" fill="rgb(133,0,0)"/>
<path d="M378 1100h25v25h-25z" fill="rgb(137,0,0)"/>
<path d="M402 1100h25v25h-25z" fill="rgb(140,0,0)"/>
<path d="M426 1100h25v25h-25z" fill="rgb(144,0,0)"/>
<path d="M450 1100h25v25h-25z" fill="rgb(148,0,0)"/>
<path d="M474 1100h25v25h-25z" fill="rgb(152,0,0)"/>
<path d="M498 1100h25v25h-25z" fill="rgb(156,0,0)"/>
<path d="M522 1100h25v25h-25z" fill="rgb(159,0,0)"/>
<path d="M546 1100h25v25h-25z" fill="rgb(168,0,0)"/>
<path d="M570 1100h25v25h-25z" fill="rgb(178,0,0)"/>
<path d="M594 1100h25v25h-25z" fill="rgb(185,0,0)"/>
<path d="M618 1100h25v25h-25z" fill="rgb(189,0,0)"/>
<path d="M642 1100h25v25h-25z" fill="rgb(192,0,0)"/>
<path d="M666 1100h25v25h-25z" fill="rgb(193,0,0)"/>
<path d="M690 1100h25v25h-25z" fill="rgb(193,0,0)"/>
<path d="M714 1100h25v25h-25z" fill="rgb(191,0,0)"/>
<path d="M738 1100h25v25h-25z" fill="rgb(188,0,0)"/>
<path d="M762 1100h25v25h-25z" fill="rgb(183,0,0)"/>
<path d="M786 1100h25v25h-25z" fill="rgb(177,0,0)"/>
<path d="M810 1100h25v25h-25z" fill="rgb(171,0,0)"/>
<path d="M834 1100h25v25h-25z" fill="rgb(163,0,0)"/>
<path d="M858 1100h25v25h-25z" fill="rgb(155,0,0)"/>
<path d="M882 1100h25v25h-25z" fill="rgb(146,0,0)"/>
<path d="M906 1100h25v25h-25z" fill="rgb(137,0,0)"/>
<path d="M930 1100h25v25h-25z" fill="rgb(126,0,0)"/>
<path d="M954 1100h25v25h-25z" fill="rgb(115,0,0)"/>
<path d="M978 1100h25v25h-25z" fill="rgb(103,0,0)"/>
<path d="M1002 1100h25v25h-25z" fill="rgb(101,0,0)"/>
<path d="M1026 1100h25v25h-25z" fill="rgb(98,0,0)"/>
<path d="M1050 1100h25v25h-25z" fill="rgb(97,0,0)"/>
<path d="M1074 1100h25v25h-25z" fill="rgb(95,0,0)"/>
<path d="M1098 1100h25v25h-25z" fill="rgb(94,0,0)"/>
<path d="M1122 1100h25v25h-25z" fill="rgb(93,0,0)"/>
<path d="M1146 1100h25v25h-25z" fill="rgb(92,0,0)"/>
<path d="M1170 1100h25v25h-25z" fill="rgb(91,0,0)"/>
<path d="M1194 1100h25v25h-25z" fill="rgb(91,0,0)"/>
<path d="M1218 1100h25v25h-25z" fill="rgb(90,0,0)"/>
<path d="M1242 1100h25v25h-25z" fill="rgb(90,0,0)"/>
<path d="M1266 1100h25v25h-25z" fill="rgb(90,0,0)"/>
<path d="M1290 1100h25v25h-25z" fill="rgb(86,0,0)"/>
<path d="M1314 1100h25v25h-25z" fill="rgb(82,0,0)"/>
<path d="M1338 1100h25v25h-25z" fill="rgb(78,0,0)"/>
<path d="M1362 1100h25v25h-25z" fill="rgb(74,0,0)"/>
<path d="M1386 1100h25v25h-25z" fill="rgb(69,0,0)"/>
<path d="M114 1124h25v25h-25z" fill="rgb(103,0,0)"/>
<path d="M138 1124h25v25h-25z" fill="rgb(109,0,0)"/>
<path d="M162 1124h25v25h-25z" fill="rgb(113,0,0)"/>
<path d="M186 1124h25v25h-25z" fill="rgb(114,0,0)"/>
<path d="M210 1124h25v25h-25z" fill="rgb(115,0,0)"/>
<path d="M234 1124h25v25h-25z" fill="rgb(117,0,0)"/>
<path d="M258 1124h25v25h-25z" fill="rgb(119,0,0)"/>
<path d="M282 1124h25v25h-25z" fill="rgb(121,0,0)"/>
<path d="M306 1124h25v25h-25z" fill="rgb(123,0,0)"/>
<path d="M330 1124h25v25h-25z" fill="rgb(126,0,0)"/>
<path d="M354 1124h25v25h-25z" fill="rgb(129,0,0)"/>
<path d="M378 1124h25v25h-25z" fill="rgb(132,0,0)"/>
<path d="M402 1124h25v25h-25z" fill="rgb(135,0,0)"/>
<path d="M426 1124h25v25h-25z" fill="rgb(138,0,0)"/>
<path d="M450 1124h25v25h-25z" fill="rgb(142,0,0)"/>
<path d="M474 1124h25v25h-25z" fill="rgb(145,0,0)"/>
<path d="M498 1124h25v25h-25z" fill="rgb(148,0,0)"/>
<path d="M522 1124h25v25h-25z" fill="rgb(151,0,0)"/>
<path d="M546 1124h25v25h-25z" fill="rgb(153,0,0)"/>
<path d="M570 1124h25v25h-25z" fill="rgb(162,0,0)"/>
<path d="M594 1124h25v25h-25z" fill="rgb(170,0,0)"/>
<path d="M618 1124h25v25h-25z" fill="rgb(175,0,0)"/>
<path d="M642 1124h25v25h-25z" fill="rgb(178,0,0)"/>
<path d="M666 1124h25v25h-25z" fill="rgb(180,0,0)"/>
<path d="M690 1124h25v25h-25z" fill="rgb(180,0,0)"/>
<path d="M714 1124h25v25h-25z" fill="rgb(178,0,0)"/>
<path d="M738 1124h25v25h-25z" fill="rgb(175,0,0)"/>
<path d="M762 1124h25v25h-25z" fill="rgb(171,0,0)"/>
<path d="M786 1124h25v25h-25z" fill="rgb(166,0,0)"/>
<path d="M810 1124h25v25h-25z" fill="rgb(159,0,0)"/>
<path d="M834 1124h25v25h-25z" fill="rgb(152,0,0)"/>
<path d="M858 1124h25v25h-25z" fill="rgb(144,0,0)"/>
<path d="M882 1124h25v25h-25z" fill="rgb(135,0,0)"/>
<path d="M906 1124h25v25h-25z" fill="rgb(125,0,0)"/>
<path d="M930 1124h25v25h-25z" fill="rgb(113,0,0)"/>
<path d="M954 1124h25v25h-25z" fill="rgb(103,0,0)"/>
<path d="M978 1124h25v25h-25z" fill="rgb(101,0,0)"/>
<path d="M1002 1124h25v25h-25z" fill="rgb(98,0,0)"/>
<path d="M1026 1124h25v25h-25z" fill="rgb(97,0,0)"/>
<path d="M1050 1124h25v25h-25z" fill="rgb(95,0,0)"/>
<path d="M1074 1124h25v25h-25z" fill="rgb(94,0,0)"/>
<path d="M1098 1124h25v25h-25z" fill="rgb(93,0,0)"/>
<path d="M1122 1124h25v25h-25z" fill="rgb(92,0,0)"/>
<path d="M1146 1124h25v25h-25z" fill="rgb(91,0,0)"/>
<path d="M1170 1124h25v25h-25z" fill="rgb(91,0,0)"/>
<path d="M1194 1124h25v25h-25z" fill="rgb(90,0,0)"/>
<path d="M1218 1124h25v25h-25z" fill="rgb(90,0,0)"/>
<path d="M1242 1124h25v25h-25z" fill="rgb(90,0,0)"/>
<path d="M1266 1124h25v25h-25z" fill="rgb(90,0,0)"/>
<path d="M1290 1124h25v25h-25z" fill="rgb(88,0,0)"/>
<path d="M1314 1124h25v25h-25z" fill="rgb(84,0,0)"/>
<path d="M1338 1124h25v25h-25z" fill="rgb(80,0,0)"/>
<path d="M1362 1124h25v25h-25z" fill="rgb(76,0,0)"/>
<path d="M1386 1124h25v25h-25z" fill="rgb(71,0,0)"/>
<path d="M114 1148h25v25h-25z" fill="rgb(105,0,0)"/>
<path d="M138 1148h25v25h-25z" fill="rgb(110,0,0)"/>
<path d="M162 1148h25v25h-25z" fill="rgb(112,0,0)"/>
<path d="M186 1148h25v25h-25z" fill="rgb(113,0,0)"/>
<path d="M210 1148h25v25h-25z" fill="rgb(114,0,0)"/>
<path d="M234 1148h25v25h-25z" fill="rgb(115,0,0)"/>
<path d="M258 1148h25v25h-25z" fill="rgb(117,0,0)"/>
<path d="M282 1148h25v25h-25z" fill="rgb(119,0,0)"/>
<path d="M306 1148h25v25h-25z" fill="rgb(121,0,0)"/>
<path d="M330 1148h25v25h-25z" fill="rgb(123,0,0)"/>
<path d="M354 1148h25v25h-25z" fill="rgb(125,0,0)"/>
<path d="M378 1148h25v25h-25z" fill="rgb(127,0,0)"/>
<path d="M402 1148h25v25h-25z" fill="rgb(130,0,0)"/>
<path d="M426 1148h25v25h-25z" fill="rgb(133,0,0)"/>
<path d="M450 1148h25v25h-25z" fill="rgb(135,0,0)"/>
<path d="M474 1148h25v25h-25z" fill="rgb(138,0,0)"/>
<path d="M498 1148h25v25h-25z" fill="rgb(140,0,0)"/>
<path d="M522 1148h25v25h-25z" fill="rgb(142,0,0)"/>
<path d="M546 1148h25v25h-25z" fill="rgb(144,0,0)"/>
<path d="M570 1148h25v25h-25z" fill="rgb(146,0,0)"/>
<path d="M594 1148h25v25h-25z" fill="rgb(155,0,0)"/>
<path d="M618 1148h25v25h-25z" fill="rgb(161,0,0)"/>
<path d="M642 1148h25v25h-25z" fill="rgb(165,0,0)"/>
<path d="M666 1148h25v25h-25z" fill="rgb(166,0,0)"/>
<path d="M690 1148h25v25h-25z" fill="rgb(167,0,0)"/>
<path d="M714 1148h25v25h-25z" fill="rgb(165,0,0)"/>
<path d="M738 1148h25v25h-25z" fill="rgb(163,0,0)"/>
<path d="M762 1148h25v25h-25z" fill="rgb(159,0,0)"/>
<path d="M786 1148h25v25h-25z" fill="rgb(154,0,0)"/>
<path d="M810 1148h25v25h-25z" fill="rgb(148,0,0)"/>
<path d="M834 1148h25v25h-25z" fill="rgb(140,0,0)"/>
<path d="M858 1148h25v25h-25z" fill="rgb(132,0,0)"/>
<path d="M882 1148h25v25h-25z" fill="rgb(122,0,0)"/>
<path d="M906 1148h25v25h-25z" fill="rgb(111,0,0)"/>
<path d="M930 1148h25v25h-25z" fill="rgb(102,0,0)"/>
<path d="M954 1148h25v25h-25z" fill="rgb(100,0,0)"/>
<path d="M978 1148h25v25h-25z" fill="rgb(98,0,0)"/>
<path d="M1002 1148h25v25h-25z" fill="rgb(97,0,0)"/>
<path d="M1026 1148h25v25h-25z" fill="rgb(95,0,0)"/>
<path d="M1050 1148h25v25h-25z" fill="rgb(94,0,0)"/>
<path d="M1074 1148h25v25h-25z" fill="rgb(93,0,0)"/>
<path d="M1098 1148h25v25h-25z" fill="rgb(92,0,0)"/>
<path d="M1122 1148h25v25h-25z" fill="rgb(91,0,0)"/>
<path d="M1146 1148h25v25h-25z" fill="rgb(91,0,0)"/>
<path d="M1170 1148h25v25h-25z" fill="rgb(90,0,0)"/>
<path d="M1194 1148h25v25h-25z" fill="rgb(90,0,0)"/>
<path d="M1218 1148h25v25h-25z" fill="rgb(90,0,0)"/>
<path d="M1242 1148h25v25h-25z" fill="rgb(90,0,0)"/>
<path d="M1266 1148h25v25h-25z" fill="rgb(90,0,0)"/>
<path d="M1290 1148h25v25h-25z" fill="rgb(89,0,0)"/>
<path d="M1314 1148h25v25h-25z" fill="rgb(85,0,0)"/>
<path d="M1338 1148h25v25h-25z" fill="rgb(81,0,0)"/>
<path d="M1362 1148h25v25h-25z" fill="rgb(77,0,0)"/>
<path d="M1386 1148h25v25h-25z" fill="rgb(72,0,0)"/>
<path d="M114 1172h25v25h-25z" fill="rgb(106,0,0)"/>
<path d="M138 1172h25v25h-25z" fill="rgb(111,0,0)"/>
<path d="M162 1172h25v25h-25z" fill="rgb(111,0,0)"/>
<path d="M186 1172h25v25h-25z" fill="rgb(112,0,0)"/>
<path d="M210 1172h25v25h-25z" fill="rgb(113,0,0)"/>
<path d="M234 1172h25v25h-25z" fill="rgb(114,0,0)"/>
<path d="M258 1172h25v25h-25z" fill="rgb(115,0,0)"/>
<path d="M282 1172h25v25h-25z" fill="rgb(116,0,0)"/>
<path d="M306 1172h25v25h-25z" fill="rgb(118,0,0)"/>
<path d="M330 1172h25v25h-25z" fill="rgb(120,0,0)"/>
<path d="M354 1172h25v25h-25z" fill="rgb(121,0,0)"/>
<path d="M378 1172h25v25h-25z" fill="rgb(123,0,0)"/>
<path d="M402 1172h25v25h-25z" fill="rgb(125,0,0)"/>
<path d="M426 1172h25v25h-25z" fill="rgb(127,0,0)"/>
<path d="M450 1172h25v25h-25z" fill="rgb(129,0,0)"/>
<path d="M474 1172h25v25h-25z" fill="rgb(131,0,0)"/>
<path d="M498 1172h25v25h-25z" fill="rgb(133,0,0)"/>
<path d="M522 1172h25v25h-25z" fill="rgb(135,0,0)"/>
<path d="M546 1172h25v25h-25z" fill="rgb(136,0,0)"/>
<path d="M570 1172h25v25h-25z" fill="rgb(137,0,0)"/>
<path d="M594 1172h25v25h-25z" fill="rgb(139,0,0)"/>
<path d="M618 1172h25v25h-25z" fill="rgb(146,0,0)"/>
<path d="M642 1172h25v25h-25z" fill="rgb(151,0,0)"/>
<path d="M666 1172h25v25h-25z" fill="rgb(153,0,0)"/>
<path d="M690 1172h25v25h-25z" fill="rgb(154,0,0)"/>
<path d="M714 1172h25v25h-25z" fill="rgb(153,0,0)"/>
<path d="M738 1172h25v25h-25z" fill="rgb(151,0,0)"/>
<path d="M762 1172h25v25h-25z" fill="rgb(147,0,0)"/>
<path d="M786 1172h25v25h-25z" fill="rgb(142,0,0)"/>
<path d="M810 1172h25v25h-25z" fill="rgb(136,0,0)"/>
<path d="M834 1172h25v25h-25z" fill="rgb(128,0,0)"/>
<path d="M858 1172h25v25h-25z" fill="rgb(119,0,0)"/>
<path d="M882 1172h25v25h-25z" fill="rgb(108,0,0)"/>
<path d="M906 1172h25v25h-25z" fill="rgb(101,0,0)"/>
<path d="M930 1172h25v25h-25z" fill="rgb(99,0,0)"/>
<path d="M954 1172h25v25h-25z" fill="rgb(98,0,0)"/>
<path d="M978 1172h25v25h-25z" fill="rgb(96,0,0)"/>
<path d="M1002 1172h25v25h-25z" fill="rgb(95,0,0)"/>
<path d="M1026 1172h25v25h-25z" fill="rgb(94,0,0)"/>
<path d="M1050 1172h25v25h-25z" fill="rgb(93,0,0)"/>
<path d="M1074 1172h25v25h-25z" fill="rgb(92,0,0)"/>
<path d="M1098 1172h25v25h-25z" fill="rgb(91,0,0)"/>
<path d="M1122 1172h25v25h-25z" fill="rgb(91,0,0)"/>
<path d="M1146 1172h25v25h-25z" fill="rgb(90,0,0)"/>
<path d="M1170 1172h25v25h-25z" fill="rgb(90,0,0)"/>
<path d="M1194 1172h25v25h-25z" fill="rgb(90,0,0)"/>
<path d="M1218 1172h25v25h-25z" fill="rgb(90,0,0)"/>
<path d="M1242 1172h25v25h-25z" fill="rgb(90,0,0)"/>
<path d="M1266 1172h25v25h-25z" fill="rgb(89,0,0)"/>
<path d="M1290 1172h25v25h-25z" fill="rgb(89,0,0)"/>
<path d="M1314 1172h25v25h-25z" fill="rgb(87,0,0)"/>
<path d="M1338 1172h25v25h-25z" fill="rgb(83,0,0)"/>
<path d="M1362 1172h25v25h-25z" fill="rgb(79,0,0)"/>
<path d="M1386 1172h25v25h-25z" fill="rgb(74,0,0)"/>
<path d="M114 1196h25v25h-25z" fill="rgb(107,0,0)"/>
<path d="M138 1196h25v25h-25z" fill="rgb(110,0,0)"/>
<path d="M162 1196h25v25h-25z" fill="rgb(111,0,0)"/>
<path d="M186 1196h25v25h-25z" fill="rgb(111,0,0)"/>
<path d="M210 1196h25v25h-25z" fill="rgb(112,0,0)"/>
<path d="M234 1196h25v25h-25z" fill="rgb(113,0,0)"/>
<path d="M258 1196h25v25h-25z" fill="rgb(113,0,0)"/>
<path d="M282 1196h25v25h-25z" fill="rgb(114,0,0)"/>
<path d="M306 1196h25v25h-25z" fill="rgb(116,0,0)"/>
<path d="M330 1196h25v25h-25z" fill="rgb(117,0,0)"/>
<path d="M354 1196h25v25h-25z" fill="rgb(118,0,0)"/>
<path d="M378 1196h25v25h-25z" fill="rgb(120,0,0)"/>
<path d="M402 1196h25v25h-25z" fill="rgb(121,0,0)"/>
<path d="M426 1196h25v25h-25z" fill="rgb(123,0,0)"/>
<path d="M450 1196h25v25h-25z" fill="rgb(124,0,0)"/>
<path d="M474 1196h25v25h-25z" fill="rgb(126,0,0)"/>
<path d="M498 1196h25v25h-25z" fill="rgb(127,0,0)"/>
<path d="M522 1196h25v25h-25z" fill="rgb(128,0,0)"/>
<path d="M546 1196h25v25h-25z" fill="rgb(129,0,0)"/>
<path d="M570 1196h25v25h-25z" fill="rgb(130,0,0)"/>
<path d="M594 1196h25v25h-25z" fill="rgb(130,0,0)"/>
<path d="M618 1196h25v25h-25z" fill="rgb(132,0,0)"/>
<path d="M642 1196h25v25h-25z" fill="rgb(138,0,0)"/>
<path d="M666 1196h25v25h-25z" fill="rgb(141,0,0)"/>
<path d="M690 1196h25v25h-25z" fill="rgb(142,0,0)"/>
<path d="M714 1196h25v25h-25z" fill="rgb(141,0,0)"/>
<path d="M738 1196h25v25h-25z" fill="rgb(139,0,0)"/>
<path d="M762 1196h25v25h-25z" fill="rgb(135,0,0)"/>
<path d="M786 1196h25v25h-25z" fill="rgb(130,0,0)"/>
<path d="M810 1196h25v25h-25z" fill="rgb(124,0,0)"/>
<path d="M834 1196h25v25h-25z" fill="rgb(115,0,0)"/>
<path d="M858 1196h25v25h-25z" fill="rgb(105,0,0)"/>
<path d="M882 1196h25v25h-25z" fill="rgb(100,0,0)"/>
<path d="M906 1196h25v25h-25z" fill="rgb(98,0,0)"/>
<path d="M930 1196h25v25h-25z" fill="rgb(97,0,0)"/>
<path d="M954 1196h25v25h-25z" fill="rgb(96,0,0)"/>
<path d="M978 1196h25v25h-25z" fill="rgb(95,0,0)"/>
<path d="M1002 1196h25v25h-25z" fill="rgb(94,0,0)"/>
<path d="M1026 1196h25v25h-25z" fill="rgb(93,0,0)"/>
<path d="M1050 1196h25v25h-25z" fill="rgb(92,0,0)"/>
<path d="M1074 1196h25v25h-25z" fill="rgb(91,0,0)"/>
<path d="M1098 1196h25v25h-25z" fill="rgb(91,0,0)"/>
<path d="M1122 1196h25v25h-25z" fill="rgb(90,0,0)"/>
<path d="M1146 1196h25v25h-25z" fill="rgb(90,0,0)"/>
<path d="M1170 1196h25v25h-25z" fill="rgb(90,0,0)"/>
<path d="M1194 1196h25v25h-25z" fill="rgb(90,0,0)"/>
<path d="M1218 1196h25v25h-25z" fill="rgb(90,0,0)"/>
<path d="M1242 1196h25v25h-25z" fill="rgb(89,0,0)"/>
<path d="M1266 1196h25v25h-25z" fill="rgb(89,0,0)"/>
<path d="M1290 1196h25v25h-25z" fill="rgb(89,0,0)"/>
<path d="M1314 1196h25v25h-25z" fill="rgb(88,0,0)"/>
<path d="M1338 1196h25v25h-25z" fill="rgb(84,0,0)"/>
<path d="M1362 1196h25v25h-25z" fill="rgb(80,0,0)"/>
<path d="M1386 1196h25v25h-25z" fill="rgb(75,0,0)"/>
<path d="M114 1220h25v25h-25z" fill="rgb(107,0,0)"/>
<path d="M138 1220h25v25h-25z" fill="rgb(110,0,0)"/>
<path d="M162 1220h25v25h-25z" fill="rgb(110,0,0)"/>
<path d="M186 1220h25v25h-25z" fill="rgb(110,0,0)"/>
<path d="M210 1220h25v25h-25z" fill="rgb(111,0,0)"/>
<path d="M234 1220h25v25h-25z" fill="rgb(111,0,0)"/>
<path d="M258 1220h25v25h-25z" fill="rgb(112,0,0)"/>
<path d="M282 1220h25v25h-25z" fill="rgb(113,0,0)"/>
<path d="M306 1220h25v25h-25z" fill="rgb(114,0,0)"/>
<path d="M330 1220h25v25h-25z" fill="rgb(115,0,0)"/>
<path d="M354 1220h25v25h-25z" fill="rgb(116,0,0)"/>
<path d="M378 1220h25v25h-25z" fill="rgb(117,0,0)"/>
<path d="M402 1220h25v25h-25z" fill="rgb(118,0,0)"/>
<path d="M426 1220h25v25h-25z" fill="rgb(119,0,0)"/>
<path d="M450 1220h25v25h-25z" fill="rgb(120,0,0)"/>
<path d="M474 1220h25v25h-25z" fill="rgb(121,0,0)"/>
<path d="M498 1220h25v25h-25z" fill="rgb(122,0,0)"/>
<path d="M522 1220h25v25h-25z" fill="rgb(122,0,0)"/>
<path d="M546 1220h25v25h-25z" fill="rgb(123,0,0)"/>
<path d="M570 1220h25v25h-25z" fill="rgb(123,0,0)"/>
<path d="M594 1220h25v25h-25z" fill="rgb(123,0,0)"/>
<path d="M618 1220h25v25h-25z" fill="rgb(123,0,0)"/>
<path d="M642 1220h25v25h-25z" fill="rgb(124,0,0)"/>
<path d="M666 1220h25v25h-25z" fill="rgb(129,0,0)"/>
<path d="M690 1220h25v25h-25z" fill="rgb(131,0,0)"/>
<path d="M714 1220h25v25h-25z" fill="rgb(130,0,0)"/>
<path d="M738 1220h25v25h-25z" fill="rgb(128,0,0)"/>
<path d="M762 1220h25v25h-25z" fill="rgb(124,0,0)"/>
<path d="M786 1220h25v25h-25z" fill="rgb(119,0,0)"/>
<path d="M810 1220h25v25h-25z" fill="rgb(111,0,0)"/>
<path d="M834 1220h25v25h-25z" fill="rgb(102,0,0)"/>
<path d="M858 1220h25v25h-25z" fill="rgb(98,0,0)"/>
<path d="M882 1220h25v25h-25z" fill="rgb(97,0,0)"/>
<path d="M906 1220h25v25h-25z" fill="rgb(96,0,0)"/>
<path d="M930 1220h25v25h-25z" fill="rgb(95,0,0)"/>
<path d="M954 1220h25v25h-25z" fill="rgb(94,0,0)"/>
<path d="M978 1220h25v25h-25z" fill="rgb(93,0,0)"/>
<path d="M1002 1220h25v25h-25z" fill="rgb(92,0,0)"/>
<path d="M1026 1220h25v25h-25z" fill="rgb(92,0,0)"/>
<path d="M1050 1220h25v25h-25z" fill="rgb(91,0,0)"/>
<path d="M1074 1220h25v25h-25z" fill="rgb(91,0,0)"/>
<path d="M1098 1220h25v25h-25z" fill="rgb(90,0,0)"/>
<path d="M1122 1220h25v25h-25z" fill="rgb(90,0,0)"/>
<path d="M1146 1220h25v25h-25z" fill="rgb(90,0,0)"/>
<path d="M1170 1220h25v25h-25z" fill="rgb(90,0,0)"/>
<path d="M1194 1220h25v25h-25z" fill="rgb(90,0,0)"/>
<path d="M1218 1220h25v25h-25z" fill="rgb(89,0,0)"/>
<path d="M1242 1220h25v25h-25z" fill="rgb(89,0,0)"/>
<path d="M1266 1220h25v25h-25z" fill="rgb(89,0,0)"/>
<path d="M1290 1220h25v25h-25z" fill="rgb(89,0,0)"/>
<path d="M1314 1220h25v25h-25z" fill="rgb(88,0,0)"/>
<path d="M1338 1220h25v25h-25z" fill="rgb(85,0,0)"/>
<path d="M1362 1220h25v25h-25z" fill="rgb(81,0,0)"/>
<path d="M1386 1220h25v25h-25z" fill="rgb(76,0,0)"/>
<path d="M114 1244h25v25h-25z" fill="rgb(108,0,0)"/>
<path d="M138 1244h25v25h-25z" fill="rgb(109,0,0)"/>
<path d="M162 1244h25v25h-25z" fill="rgb(109,0,0)"/>
<path d="M186 1244h25v25h-25z" fill="rgb(110,0,0)"/>
<path d="M210 1244h25v25h-25z" fill="rgb(110,0,0)"/>
<path d="M234 1244h25v25h-25z" fill="rgb(111,0,0)"/>
<path d="M258 1244h25v25h-25z" fill="rgb(111,0,0)"/>
<path d="M282 1244h25v25h-25z" fill="rgb(112,0,0)"/>
<path d="M306 1244h25v25h-25z" fill="rgb(112,0,0)"/>
<path d="M330 1244h25v25h-25z" fill="rgb(113,0,0)"/>
<path d="M354 1244h25v25h-25z" fill="rgb(113,0,0)"/>
<path d="M378 1244h25v25h-25z" fill="rgb(114,0,0)"/>
<path d="M402 1244h25v25h-25z" fill="rgb(115,0,0)"/>
<path d="M426 1244h25v25h-25z" fill="rgb(116,0,0)"/>
<path d="M450 1244h25v25h-25z" fill="rgb(116,0,0)"/>
<path d="M474 1244h25v25h-25z" fill="rgb(117,0,0)"/>
<path d="M498 1244h25v25h-25z" fill="rgb(117,0,0)"/>
<path d="M522 1244h25v25h-25z" fill="rgb(118,0,0)"/>
<path d="M546 1244h25v25h-25z" fill="rgb(118,0,0)"/>
<path d="M570 1244h25v25h-25z" fill="rgb(118,0,0)"/>
<path d="M594 1244h25v25h-25z" fill="rgb(117,0,0)"/>
<path d="M618 1244h25v25h-25z" fill="rgb(117,0,0)"/>
<path d="M642 1244h25v25h-25z" fill="rgb(115,0,0)"/>
<path d="M666 1244h25v25h-25z" fill="rgb(117,0,0)"/>
<path d="M690 1244h25v25h-25z" fill="rgb(119,0,0)"/>
<path d="M714 1244h25v25h-25z" fill="rgb(119,0,0)"/>
<path d="M738 1244h25v25h-25z" fill="rgb(117,0,0)"/>
<path d="M762 1244h25v25h-25z" fill="rgb(113,0,0)"/>
<path d="M786 1244h25v25h-25z" fill="rgb(106,0,0)"/>
<path d="M810 1244h25v25h-25z" fill="rgb(98,0,0)"/>
<path d="M834 1244h25v25h-25z" fill="rgb(96,0,0)"/>
<path d="M858 1244h25v25h-25z" fill="rgb(95,0,0)"/>
<path d="M882 1244h25v25h-25z" fill="rgb(94,0,0)"/>
<path d="M906 1244h25v25h-25z" fill="rgb(94,0,0)"/>
<path d="M930 1244h25v25h-25z" fill="rgb(93,0,0)"/>
<path d="M954 1244h25v25h-25z" fill="rgb(93,0,0)"/>
<path d="M978 1244h25v25h-25z" fill="rgb(92,0,0)"/>
<path d="M1002 1244h25v25h-25z" fill="rgb(91,0,0)"/>
<path d="M1026 1244h25v25h-25z" fill="rgb(91,0,0)"/>
<path d="M1050 1244h25v25h-25z" fill="rgb(91,0,0)"/>
<path d="M1074 1244h25v25h-25z" fill="rgb(90,0,0)"/>
<path d="M1098 1244h25v25h-25z" fill="rgb(90,0,0)"/>
<path d="M1122 1244h25v25h-25z" fill="rgb(90,0,0)"/>
<path d="M1146 1244h25v25h-25z" fill="rgb(90,0,0)"/>
<path d="M1170 1244h25v25h-25z" fill="rgb(90,0,0)"/>
<path d="M1194 1244h25v25h-25z" fill="rgb(89,0,0)"/>
<path d="M1218 1244h25v25h-25z" fill="rgb(89,0,0)"/>
<path d="M1242 1244h25v25h-25z" fill="rgb(89,0,0)"/>
<path d="M1266 1244h25v25h-25z" fill="rgb(89,0,0)"/>
<path d="M1290 1244h25v25h-25z" fill="rgb(89,0,0)"/>
<path d="M1314 1244h25v25h-25z" fill="rgb(89,0,0)"/>
<path d="M1338 1244h25v25h-25z" fill="rgb(85,0,0)"/>
<path d="M1362 1244h25v25h-25z" fill="rgb(81,0,0)"/>
<path d="M1386 1244h25v25h-25z" fill="rgb(77,0,0)"/>
<path d="M114 1268h25v25h-25z" fill="rgb(108,0,0)"/>
<path d="M138 1268h25v25h-25z" fill="rgb(109,0,0)"/>
<path d="M162 1268h25v25h-25z" fill="rgb(109,0,0)"/>
<path d="M186 1268h25v25h-25z" fill="rgb(109,0,0)"/>
<path d="M210 1268h25v25h-25z" fill="rgb(110,0,0)"/>
<path d="M234 1268h25v25h-25z" fill="rgb(110,0,0)"/>
<path d="M258 1268h25v25h-25z" fill="rgb(110,0,0)"/>
<path d="M282 1268h25v25h-25z" fill="rgb(110,0,0)"/>
<path d="M306 1268h25v25h-25z" fill="rgb(111,0,0)"/>
<path d="M330 1268h25v25h-25z" fill="rgb(111,0,0)"/>
<path d="M354 1268h25v25h-25z" fill="rgb(112,0,0)"/>
<path d="M378 1268h25v25h-25z" fill="rgb(112,0,0)"/>
<path d="M402 1268h25v25h-25z" fill="rgb(113,0,0)"/>
<path d="M426 1268h25v25h-25z" fill="rgb(113,0,0)"/>
<path d="M450 1268h25v25h-25z" fill="rgb(113,0,0)"/>
<path d="M474 1268h25v25h-25z" fill="rgb(114,0,0)"/>
<path d="M498 1268h25v25h-25z" fill="rgb(114,0,0)"/>
<path d="M522 1268h25v25h-25z" fill="rgb(114,0,0)"/>
<path d="M546 1268h25v25h-25z" fill="rgb(114,0,0)"/>
<path d="M570 1268h25v25h-25z" fill="rgb(113,0,0)"/>
<path d="M594 1268h25v25h-25z" fill="rgb(112,0,0)"/>
<path d="M618 1268h25v25h-25z" fill="rgb(111,0,0)"/>
<path d="M642 1268h25v25h-25z" fill="rgb(110,0,0)"/>
<path d="M666 1268h25v25h-25z" fill="rgb(107,0,0)"/>
<path d="M690 1268h25v25h-25z" fill="rgb(108,0,0)"/>
<path d="M714 1268h25v25h-25z" fill="rgb(108,0,0)"/>
<path d="M738 1268h25v25h-25z" fill="rgb(106,0,0)"/>
<path d="M762 1268h25v25h-25z" fill="rgb(101,0,0)"/>
<path d="M786 1268h25v25h-25z" fill="rgb(93,0,0)"/>
<path d="M810 1268h25v25h-25z" fill="rgb(93,0,0)"/>
<path d="M834 1268h25v25h-25z" fill="rgb(93,0,0)"/>
<path d="M858 1268h25v25h-25z" fill="rgb(93,0,0)"/>
<path d="M882 1268h25v25h-25z" fill="rgb(93,0,0)"/>
<path d="M906 1268h25v25h-25z" fill="rgb(92,0,0)"/>
<path d="M930 1268h25v25h-25z" fill="rgb(92,0,0)"/>
<path d="M954 1268h25v25h-25z" fill="rgb(91,0,0)"/>
<path d="M978 1268h25v25h-25z" fill="rgb(91,0,0)"/>
<path d="M1002 1268h25v25h-25z" fill="rgb(91,0,0)"/>
<path d="M1026 1268h25v25h-25z" fill="rgb(90,0,0)"/>
<path d="M1050 1268h25v25h-25z" fill="rgb(90,0,0)"/>
<path d="M1074 1268h25v25h-25z" fill="rgb(90,0,0)"/>
<path d="M1098 1268h25v25h-25z" fill="rgb(90,0,0)"/>
<path d="M1122 1268h25v25h-25z" fill="rgb(90,0,0)"/>
<path d="M1146 1268h25v25h-25z" fill="rgb(90,0,0)"/>
<path d="M1170 1268h25v25h-25z" fill="rgb(89,0,0)"/>
<path d="M1194 1268h25v25h-25z" fill="rgb(89,0,0)"/>
<path d="M1218 1268h25v25h-25z" fill="rgb(89,0,0)"/>
<path d="M1242 1268h25v25h-25z" fill="rgb(89,0,0)"/>
<path d="M1266 1268h25v25h-25z" fill="rgb(89,0,0)"/>
<path d="M1290 1268h25v25h-25z" fill="rgb(89,0,0)"/>
<path d="M1314 1268h25v25h-25z" fill="rgb(89,0,0)"/>
<path d="M1338 1268h25v25h-25z" fill="rgb(86,0,0)"/>
<path d="M1362 1268h25v25h-25z" fill="rgb(82,0,0)"/>
<path d="M1386 1268h25v25h-25z" fill="rgb(78,0,0)"/>
</g>
<g filter="url(#b3)"><ellipse cx="912" cy="1127" rx="13" ry="11" fill="#000" fill-opacity="0.85"/><ellipse cx="942" cy="1129" rx="8" ry="9" fill="#000" fill-opacity="0.5"/></g>
</g>
<g style="mix-blend-mode:screen">
<g filter="url(#b5)" fill="none" stroke-linecap="round" stroke-linejoin="round"><path d="M600.0 587.0C604.2 586.1 613.8 583.2 625.0 581.8C636.2 580.4 653.0 579.8 667.0 578.6C681.0 577.4 697.3 575.5 708.8 574.5C720.3 573.5 725.5 572.5 736.0 572.3C746.5 572.1 758.6 572.3 771.5 573.4C784.4 574.5 800.1 576.7 813.2 578.6C826.3 580.5 838.3 581.9 850.0 584.9C861.7 587.9 871.0 591.7 883.5 596.4C896.0 601.1 911.4 607.4 925.3 613.0C939.2 618.6 953.1 623.9 967.0 629.8C980.9 635.7 998.3 642.7 1008.8 648.6C1019.2 654.5 1025.2 660.1 1029.7 665.3C1034.2 670.5 1036.8 675.2 1036.0 680.0C1035.2 684.8 1032.7 691.2 1025.0 694.0C1017.3 696.8 1000.0 698.3 990.0 697.0C980.0 695.7 975.8 688.2 965.0 686.0C954.2 683.8 938.6 685.4 925.0 684.0C911.4 682.6 898.7 680.4 883.5 677.8C868.3 675.2 849.2 670.8 834.0 668.4C818.8 666.0 806.2 664.8 792.3 663.2C778.4 661.6 764.5 660.7 750.6 659.0C736.7 657.3 722.7 655.6 708.8 652.8C694.9 650.0 680.9 646.5 667.0 642.3C653.1 638.1 636.8 633.8 625.3 627.7C613.8 621.7 606.4 611.5 598.0 606.0C589.6 600.5 577.2 598.0 575.0 595.0C572.8 592.0 583.3 589.2 585.0 588.0Z" stroke="rgb(0,25,0)" stroke-width="30"/><path d="M520.0 606.0C526.7 603.3 542.5 595.2 560.0 590.0C577.5 584.8 601.7 578.7 625.0 575.0C648.3 571.3 674.2 569.5 700.0 568.0C725.8 566.5 755.0 565.5 780.0 566.0C805.0 566.5 830.0 568.0 850.0 571.0C870.0 574.0 881.7 577.5 900.0 584.0C918.3 590.5 940.0 600.7 960.0 610.0C980.0 619.3 1003.3 629.2 1020.0 640.0C1036.7 650.8 1053.3 669.2 1060.0 675.0" stroke="rgb(0,19,0)" stroke-width="22"/><ellipse cx="810" cy="630" rx="205" ry="34" transform="rotate(9 810 630)" fill="rgb(0,7,0)"/><path d="M490.0 603.4C493.3 602.5 503.3 599.7 510.0 598.0C516.7 596.3 523.3 594.7 530.0 593.2C536.7 591.7 543.3 590.2 550.0 588.8C556.7 587.4 563.3 586.1 570.0 584.9C576.7 583.7 583.3 582.5 590.0 581.5C596.7 580.5 603.3 579.5 610.0 578.6C616.7 577.7 623.3 576.9 630.0 576.1C636.7 575.4 643.3 574.7 650.0 574.1C656.7 573.5 663.3 573.0 670.0 572.6C676.7 572.2 683.3 571.8 690.0 571.5C696.7 571.2 703.3 570.9 710.0 570.8C716.7 570.7 723.3 570.7 730.0 570.7C736.7 570.7 743.3 570.8 750.0 570.9C756.7 571.0 763.3 571.3 770.0 571.6C776.7 571.9 783.3 572.3 790.0 572.8C796.7 573.3 803.3 573.8 810.0 574.4C816.7 575.0 823.3 575.7 830.0 576.5C836.7 577.3 843.3 578.1 850.0 579.0C856.7 579.9 863.3 580.9 870.0 582.0C876.7 583.1 883.3 584.2 890.0 585.5C896.7 586.8 903.3 588.1 910.0 589.5C916.7 590.9 923.3 592.3 930.0 593.9C936.7 595.5 943.3 597.2 950.0 598.9C956.7 600.6 963.3 602.4 970.0 604.3C976.7 606.2 983.3 608.2 990.0 610.3C996.7 612.4 1003.3 614.5 1010.0 616.8C1016.7 619.0 1023.3 621.4 1030.0 623.8C1036.7 626.2 1043.3 628.8 1050.0 631.4C1056.7 634.0 1063.3 636.8 1070.0 639.6C1076.7 642.4 1083.3 645.3 1090.0 648.3C1096.7 651.3 1103.3 654.5 1110.0 657.7C1116.7 660.9 1123.3 664.2 1130.0 667.7C1136.7 671.2 1143.3 674.7 1150.0 678.4C1156.7 682.1 1166.7 687.9 1170.0 689.8" stroke="rgb(0,34,0)" stroke-width="17" stroke-linecap="round"/><ellipse cx="925" cy="645" rx="90" ry="24" transform="rotate(14 925 645)" fill="rgb(0,24,0)"/><ellipse cx="1015" cy="682" rx="50" ry="24" fill="rgb(0,21,0)"/><ellipse cx="985" cy="708" rx="95" ry="20" transform="rotate(5 985 708)" fill="rgb(0,14,0)"/></g>
<g filter="url(#b3)" fill="none" stroke-linecap="round" stroke-linejoin="round"><path d="M598.0 606.0C602.5 609.6 613.8 621.7 625.3 627.7C636.8 633.8 653.1 638.1 667.0 642.3C680.9 646.5 694.9 650.0 708.8 652.8C722.7 655.6 736.7 657.3 750.6 659.0C764.5 660.7 778.4 661.6 792.3 663.2C806.2 664.8 818.8 666.0 834.0 668.4C849.2 670.8 868.3 675.2 883.5 677.8C898.7 680.4 911.4 682.6 925.0 684.0C938.6 685.4 958.3 685.7 965.0 686.0" stroke="rgb(0,25,0)" stroke-width="11"/><path d="M760.0 573.0C761.9 573.1 762.6 572.5 771.5 573.4C780.4 574.3 800.1 576.7 813.2 578.6C826.3 580.5 838.3 581.9 850.0 584.9C861.7 587.9 871.0 591.7 883.5 596.4C896.0 601.1 911.4 607.4 925.3 613.0C939.2 618.6 953.1 623.9 967.0 629.8C980.9 635.7 998.3 642.7 1008.8 648.6C1019.2 654.5 1025.2 660.1 1029.7 665.3C1034.2 670.5 1035.0 677.5 1036.0 680.0" stroke="rgb(0,25,0)" stroke-width="12"/><path d="M600.0 587.0C604.2 586.1 613.8 583.2 625.0 581.8C636.2 580.4 653.0 579.8 667.0 578.6C681.0 577.4 697.3 575.5 708.8 574.5C720.3 573.5 725.5 572.5 736.0 572.3C746.5 572.1 765.6 573.2 771.5 573.4" stroke="rgb(0,47,0)" stroke-width="9"/><path d="M562 590L602 607" stroke="rgb(0,42,0)" stroke-width="40"/><ellipse cx="968" cy="674" rx="80" ry="30" transform="rotate(8 968 674)" fill="rgb(0,47,0)"/><path d="M852.0 621.4C859.0 621.8 878.3 622.5 894.0 623.5C909.7 624.5 930.8 625.0 946.0 627.7C961.2 630.5 978.5 638.0 985.0 640.0" stroke="rgb(0,27,0)" stroke-width="9"/><path d="M842.0 653.0C847.2 653.2 862.7 653.3 873.0 654.0C883.3 654.7 894.5 655.3 904.0 657.0C913.5 658.7 925.7 662.8 930.0 664.0" stroke="rgb(0,25,0)" stroke-width="9"/><ellipse cx="1111" cy="697" rx="6" ry="14" transform="rotate(-12 1111 697)" fill="rgb(0,34,0)"/></g>
<g filter="url(#b2)" fill="none" stroke-linecap="round" stroke-linejoin="round"><path d="M598.0 606.0C602.5 609.6 613.8 621.7 625.3 627.7C636.8 633.8 653.1 638.1 667.0 642.3C680.9 646.5 694.9 650.0 708.8 652.8C722.7 655.6 736.7 657.3 750.6 659.0C764.5 660.7 778.4 661.6 792.3 663.2C806.2 664.8 818.8 666.0 834.0 668.4C849.2 670.8 868.3 675.2 883.5 677.8C898.7 680.4 911.4 682.6 925.0 684.0C938.6 685.4 958.3 685.7 965.0 686.0" stroke="rgb(0,191,0)" stroke-width="5"/><path d="M792.3 663.2C799.2 664.1 818.8 666.0 834.0 668.4C849.2 670.8 868.3 675.2 883.5 677.8C898.7 680.4 911.4 682.6 925.0 684.0C938.6 685.4 958.3 685.7 965.0 686.0" stroke="rgb(0,204,0)" stroke-width="8"/><path d="M760.0 573.0C761.9 573.1 762.6 572.5 771.5 573.4C780.4 574.3 800.1 576.7 813.2 578.6C826.3 580.5 838.3 581.9 850.0 584.9C861.7 587.9 871.0 591.7 883.5 596.4C896.0 601.1 911.4 607.4 925.3 613.0C939.2 618.6 953.1 623.9 967.0 629.8C980.9 635.7 998.3 642.7 1008.8 648.6C1019.2 654.5 1025.2 660.1 1029.7 665.3C1034.2 670.5 1035.0 677.5 1036.0 680.0" stroke="rgb(0,191,0)" stroke-width="6"/><path d="M883.5 596.4C890.5 599.2 911.4 607.4 925.3 613.0C939.2 618.6 953.1 623.9 967.0 629.8C980.9 635.7 998.3 642.7 1008.8 648.6C1019.2 654.5 1025.2 660.1 1029.7 665.3C1034.2 670.5 1035.0 677.5 1036.0 680.0" stroke="rgb(0,204,0)" stroke-width="10"/><path d="M600.0 587.0C604.2 586.1 613.8 583.2 625.0 581.8C636.2 580.4 653.0 579.8 667.0 578.6C681.0 577.4 697.3 575.5 708.8 574.5C720.3 573.5 725.5 572.5 736.0 572.3C746.5 572.1 765.6 573.2 771.5 573.4" stroke="rgb(0,59,0)" stroke-width="4"/><path d="M852.0 621.4C859.0 621.8 878.3 622.5 894.0 623.5C909.7 624.5 930.8 625.0 946.0 627.7C961.2 630.5 978.5 638.0 985.0 640.0" stroke="rgb(0,76,0)" stroke-width="3.5"/><path d="M842.0 653.0C847.2 653.2 862.7 653.3 873.0 654.0C883.3 654.7 894.5 655.3 904.0 657.0C913.5 658.7 925.7 662.8 930.0 664.0" stroke="rgb(0,68,0)" stroke-width="3.5"/><path d="M574 592L598 605" stroke="rgb(0,255,0)" stroke-width="24"/><ellipse cx="962" cy="675" rx="60" ry="16.5" transform="rotate(6 962 675)" fill="rgb(0,255,0)"/><ellipse cx="1111" cy="697" rx="3.2" ry="9.5" transform="rotate(-12 1111 697)" fill="rgb(0,178,0)"/></g>
</g>
</g>
</g>
</g>
</g>

<g clip-path="url(#plotclip)" fill="none" stroke="#fff" stroke-width="2.15" stroke-linecap="butt" stroke-linejoin="round">
<ellipse cx="728.4" cy="1346.6" rx="821.2" ry="767.94"/>
<path d="M79.7 1191.0L83.9 1190.9L88.2 1190.7L92.5 1190.6L96.9 1190.4L101.3 1190.3L105.7 1190.1L110.2 1190.0L114.8 1189.8L119.4 1189.7L124.0 1189.5L128.7 1189.4L133.4 1189.2L138.2 1189.1L143.0 1188.9L147.9 1188.8L152.8 1188.7L157.8 1188.5L162.8 1188.4L167.8 1188.3L172.9 1188.1L178.0 1188.0L183.2 1187.9L188.4 1187.7L193.7 1187.6L199.0 1187.5L204.3 1187.3L209.7 1187.2L215.1 1187.1L220.6 1187.0L226.0 1186.8L231.6 1186.7L237.1 1186.6L242.7 1186.5L248.4 1186.4L254.1 1186.2L259.8 1186.1L265.5 1186.0L271.3 1185.9L277.1 1185.8L283.0 1185.7L288.9 1185.6L294.8 1185.5L300.8 1185.4L306.8 1185.3L312.8 1185.2L318.8 1185.1L324.9 1185.0L331.0 1184.9L337.2 1184.8L343.3 1184.7L349.5 1184.6L355.8 1184.5L362.0 1184.4L368.3 1184.3L374.6 1184.2L381.0 1184.2L387.4 1184.1L393.8 1184.0L400.2 1183.9L406.6 1183.8L413.1 1183.8L419.6 1183.7L426.1 1183.6L432.6 1183.5L439.2 1183.5L445.8 1183.4L452.4 1183.3L459.0 1183.3L465.7 1183.2L472.3 1183.1L479.0 1183.1L485.7 1183.0L492.5 1182.9L499.2 1182.9L506.0 1182.8L512.7 1182.8L519.5 1182.7L526.3 1182.7L533.2 1182.6L540.0 1182.6L546.9 1182.5L553.7 1182.5L560.6 1182.5L567.5 1182.4L574.4 1182.4L581.3 1182.3L588.3 1182.3L595.2 1182.3L602.2 1182.2L609.1 1182.2L616.1 1182.2L623.1 1182.2L630.1 1182.1L637.0 1182.1L644.0 1182.1L651.1 1182.1L658.1 1182.1L665.1 1182.0L672.1 1182.0L679.1 1182.0L686.2 1182.0L693.2 1182.0L700.2 1182.0L707.3 1182.0L714.3 1182.0L721.4 1182.0L728.4 1182.0L735.4 1182.0L742.5 1182.0L749.5 1182.0L756.6 1182.0L763.6 1182.0L770.6 1182.0L777.7 1182.0L784.7 1182.0L791.7 1182.0L798.7 1182.1L805.7 1182.1L812.8 1182.1L819.8 1182.1L826.7 1182.1L833.7 1182.2L840.7 1182.2L847.7 1182.2L854.6 1182.2L861.6 1182.3L868.5 1182.3L875.5 1182.3L882.4 1182.4L889.3 1182.4L896.2 1182.5L903.1 1182.5L909.9 1182.5L916.8 1182.6L923.6 1182.6L930.5 1182.7L937.3 1182.7L944.1 1182.8L950.8 1182.8L957.6 1182.9L964.3 1182.9L971.1 1183.0L977.8 1183.1L984.5 1183.1L991.1 1183.2L997.8 1183.3L1004.4 1183.3L1011.0 1183.4L1017.6 1183.5L1024.2 1183.5L1030.7 1183.6L1037.2 1183.7L1043.7 1183.8L1050.2 1183.8L1056.6 1183.9L1063.0 1184.0L1069.4 1184.1L1075.8 1184.2L1082.2 1184.2L1088.5 1184.3L1094.8 1184.4L1101.0 1184.5L1107.3 1184.6L1113.5 1184.7L1119.6 1184.8L1125.8 1184.9L1131.9 1185.0L1138.0 1185.1L1144.0 1185.2L1150.0 1185.3L1156.0 1185.4L1162.0 1185.5L1167.9 1185.6L1173.8 1185.7L1179.7 1185.8L1185.5 1185.9L1191.3 1186.0L1197.0 1186.1L1202.7 1186.2L1208.4 1186.4L1214.1 1186.5L1219.7 1186.6L1225.2 1186.7L1230.8 1186.8L1236.2 1187.0L1241.7 1187.1L1247.1 1187.2L1252.5 1187.3L1257.8 1187.5L1263.1 1187.6L1268.4 1187.7L1273.6 1187.9L1278.8 1188.0L1283.9 1188.1L1289.0 1188.3L1294.0 1188.4L1299.0 1188.5L1304.0 1188.7L1308.9 1188.8L1313.8 1188.9L1318.6 1189.1L1323.4 1189.2L1328.1 1189.4L1332.8 1189.5L1337.4 1189.7L1342.0 1189.8L1346.6 1190.0L1351.1 1190.1L1355.5 1190.3L1359.9 1190.4L1364.3 1190.6L1368.6 1190.7L1372.9 1190.9L1377.1 1191.0L1381.3 1191.2L1385.4 1191.4L1389.4 1191.5L1393.5 1191.7L1397.4 1191.8L1401.3 1192.0L1405.2 1192.2L1409.0 1192.3L1412.8 1192.5L1416.5 1192.7L1420.1 1192.8L1423.7 1193.0L1427.3 1193.2L1430.8 1193.3"/>
<path d="M79.4 1056.9L83.0 1056.8L86.6 1056.6L90.2 1056.5L94.0 1056.3L97.7 1056.1L101.5 1056.0L105.4 1055.8L109.3 1055.7L113.2 1055.5L117.2 1055.4L121.3 1055.2L125.4 1055.1L129.5 1055.0L133.7 1054.8L137.9 1054.7L142.2 1054.5L146.5 1054.4L150.8 1054.2L155.2 1054.1L159.7 1054.0L164.2 1053.8L168.7 1053.7L173.3 1053.6L177.9 1053.4L182.6 1053.3L187.3 1053.2L192.0 1053.0L196.8 1052.9L201.6 1052.8L206.5 1052.6L211.4 1052.5L216.3 1052.4L221.3 1052.3L226.3 1052.1L231.4 1052.0L236.5 1051.9L241.6 1051.8L246.8 1051.7L252.0 1051.6L257.3 1051.4L262.5 1051.3L267.8 1051.2L273.2 1051.1L278.6 1051.0L284.0 1050.9L289.5 1050.8L294.9 1050.7L300.5 1050.6L306.0 1050.5L311.6 1050.4L317.2 1050.3L322.9 1050.2L328.5 1050.1L334.3 1050.0L340.0 1049.9L345.8 1049.8L351.6 1049.7L357.4 1049.6L363.2 1049.5L369.1 1049.4L375.0 1049.3L381.0 1049.3L386.9 1049.2L392.9 1049.1L398.9 1049.0L405.0 1048.9L411.0 1048.8L417.1 1048.8L423.2 1048.7L429.4 1048.6L435.5 1048.6L441.7 1048.5L447.9 1048.4L454.2 1048.3L460.4 1048.3L466.7 1048.2L472.9 1048.2L479.3 1048.1L485.6 1048.0L491.9 1048.0L498.3 1047.9L504.7 1047.9L511.1 1047.8L517.5 1047.8L523.9 1047.7L530.3 1047.7L536.8 1047.6L543.3 1047.6L549.8 1047.5L556.3 1047.5L562.8 1047.4L569.3 1047.4L575.8 1047.4L582.4 1047.3L588.9 1047.3L595.5 1047.3L602.1 1047.2L608.7 1047.2L615.3 1047.2L621.9 1047.1L628.5 1047.1L635.1 1047.1L641.8 1047.1L648.4 1047.1L655.1 1047.0L661.7 1047.0L668.4 1047.0L675.0 1047.0L681.7 1047.0L688.3 1047.0L695.0 1047.0L701.7 1046.9L708.4 1046.9L715.0 1046.9L721.7 1046.9L728.4 1046.9L735.1 1046.9L741.8 1046.9L748.4 1046.9L755.1 1046.9L761.8 1047.0L768.5 1047.0L775.1 1047.0L781.8 1047.0L788.4 1047.0L795.1 1047.0L801.7 1047.0L808.4 1047.1L815.0 1047.1L821.7 1047.1L828.3 1047.1L834.9 1047.1L841.5 1047.2L848.1 1047.2L854.7 1047.2L861.3 1047.3L867.9 1047.3L874.4 1047.3L881.0 1047.4L887.5 1047.4L894.0 1047.4L900.5 1047.5L907.0 1047.5L913.5 1047.6L920.0 1047.6L926.5 1047.7L932.9 1047.7L939.3 1047.8L945.7 1047.8L952.1 1047.9L958.5 1047.9L964.9 1048.0L971.2 1048.0L977.5 1048.1L983.9 1048.2L990.1 1048.2L996.4 1048.3L1002.6 1048.3L1008.9 1048.4L1015.1 1048.5L1021.3 1048.6L1027.4 1048.6L1033.6 1048.7L1039.7 1048.8L1045.8 1048.8L1051.8 1048.9L1057.9 1049.0L1063.9 1049.1L1069.9 1049.2L1075.8 1049.3L1081.8 1049.3L1087.7 1049.4L1093.6 1049.5L1099.4 1049.6L1105.2 1049.7L1111.0 1049.8L1116.8 1049.9L1122.5 1050.0L1128.3 1050.1L1133.9 1050.2L1139.6 1050.3L1145.2 1050.4L1150.8 1050.5L1156.3 1050.6L1161.9 1050.7L1167.3 1050.8L1172.8 1050.9L1178.2 1051.0L1183.6 1051.1L1189.0 1051.2L1194.3 1051.3L1199.5 1051.4L1204.8 1051.6L1210.0 1051.7L1215.2 1051.8L1220.3 1051.9L1225.4 1052.0L1230.5 1052.1L1235.5 1052.3L1240.5 1052.4L1245.4 1052.5L1250.3 1052.6L1255.2 1052.8L1260.0 1052.9L1264.8 1053.0L1269.5 1053.2L1274.2 1053.3L1278.9 1053.4L1283.5 1053.6L1288.1 1053.7L1292.6 1053.8L1297.1 1054.0L1301.6 1054.1L1306.0 1054.2L1310.3 1054.4L1314.6 1054.5L1318.9 1054.7L1323.1 1054.8L1327.3 1055.0L1331.4 1055.1L1335.5 1055.2L1339.6 1055.4L1343.6 1055.5L1347.5 1055.7L1351.4 1055.8L1355.3 1056.0L1359.1 1056.1L1362.8 1056.3L1366.6 1056.5L1370.2 1056.6L1373.8 1056.8L1377.4 1056.9L1380.9 1057.1L1384.4 1057.2L1387.8 1057.4L1391.1 1057.6L1394.5 1057.7L1397.7 1057.9L1400.9 1058.0L1404.1 1058.2L1407.2 1058.4L1410.3 1058.5L1413.3 1058.7L1416.2 1058.9L1419.1 1059.0L1422.0 1059.2L1424.8 1059.4L1427.5 1059.5L1430.2 1059.7L1432.8 1059.9"/>
<path d="M78.3 936.2L80.5 936.1L82.8 935.9L85.2 935.8L87.6 935.6L90.1 935.4L92.6 935.3L95.1 935.1L97.7 935.0L100.4 934.8L103.1 934.7L105.8 934.5L108.6 934.4L111.4 934.2L114.3 934.1L117.3 933.9L120.2 933.8L123.3 933.6L126.3 933.5L129.5 933.3L132.6 933.2L135.8 933.1L139.1 932.9L142.4 932.8L145.7 932.6L149.1 932.5L152.5 932.4L156.0 932.2L159.5 932.1L163.1 931.9L166.7 931.8L170.4 931.7L174.0 931.5L177.8 931.4L181.6 931.3L185.4 931.1L189.2 931.0L193.1 930.9L197.1 930.7L201.1 930.6L205.1 930.5L209.1 930.4L213.2 930.2L217.4 930.1L221.5 930.0L225.8 929.9L230.0 929.7L234.3 929.6L238.6 929.5L243.0 929.4L247.4 929.3L251.9 929.2L256.3 929.0L260.8 928.9L265.4 928.8L270.0 928.7L274.6 928.6L279.3 928.5L283.9 928.4L288.7 928.3L293.4 928.2L298.2 928.1L303.0 928.0L307.9 927.9L312.8 927.7L317.7 927.6L322.6 927.6L327.6 927.5L332.6 927.4L337.7 927.3L342.7 927.2L347.8 927.1L353.0 927.0L358.1 926.9L363.3 926.8L368.5 926.7L373.8 926.6L379.0 926.5L384.3 926.5L389.6 926.4L395.0 926.3L400.4 926.2L405.8 926.1L411.2 926.1L416.6 926.0L422.1 925.9L427.6 925.8L433.1 925.8L438.6 925.7L444.2 925.6L449.8 925.6L455.4 925.5L461.0 925.4L466.6 925.4L472.3 925.3L478.0 925.2L483.7 925.2L489.4 925.1L495.2 925.1L500.9 925.0L506.7 924.9L512.5 924.9L518.3 924.8L524.1 924.8L529.9 924.7L535.8 924.7L541.7 924.7L547.6 924.6L553.4 924.6L559.4 924.5L565.3 924.5L571.2 924.4L577.2 924.4L583.1 924.4L589.1 924.3L595.1 924.3L601.1 924.3L607.1 924.2L613.1 924.2L619.1 924.2L625.1 924.2L631.2 924.1L637.2 924.1L643.2 924.1L649.3 924.1L655.4 924.1L661.4 924.0L667.5 924.0L673.6 924.0L679.7 924.0L685.7 924.0L691.8 924.0L697.9 924.0L704.0 924.0L710.1 924.0L716.2 923.9L722.3 923.9L728.4 923.9L734.5 923.9L740.6 923.9L746.7 924.0L752.8 924.0L758.9 924.0L765.0 924.0L771.1 924.0L777.1 924.0L783.2 924.0L789.3 924.0L795.4 924.0L801.4 924.1L807.5 924.1L813.6 924.1L819.6 924.1L825.6 924.1L831.7 924.2L837.7 924.2L843.7 924.2L849.7 924.2L855.7 924.3L861.7 924.3L867.7 924.3L873.7 924.4L879.6 924.4L885.6 924.4L891.5 924.5L897.4 924.5L903.4 924.6L909.2 924.6L915.1 924.7L921.0 924.7L926.9 924.7L932.7 924.8L938.5 924.8L944.3 924.9L950.1 924.9L955.9 925.0L961.6 925.1L967.4 925.1L973.1 925.2L978.8 925.2L984.5 925.3L990.2 925.4L995.8 925.4L1001.4 925.5L1007.0 925.6L1012.6 925.6L1018.2 925.7L1023.7 925.8L1029.2 925.8L1034.7 925.9L1040.2 926.0L1045.6 926.1L1051.0 926.1L1056.4 926.2L1061.8 926.3L1067.2 926.4L1072.5 926.5L1077.8 926.5L1083.0 926.6L1088.3 926.7L1093.5 926.8L1098.7 926.9L1103.8 927.0L1109.0 927.1L1114.1 927.2L1119.1 927.3L1124.2 927.4L1129.2 927.5L1134.2 927.6L1139.1 927.6L1144.0 927.7L1148.9 927.9L1153.8 928.0L1158.6 928.1L1163.4 928.2L1168.1 928.3L1172.9 928.4L1177.5 928.5L1182.2 928.6L1186.8 928.7L1191.4 928.8L1196.0 928.9L1200.5 929.0L1204.9 929.2L1209.4 929.3L1213.8 929.4L1218.2 929.5L1222.5 929.6L1226.8 929.7L1231.0 929.9L1235.3 930.0L1239.4 930.1L1243.6 930.2L1247.7 930.4L1251.7 930.5L1255.7 930.6L1259.7 930.7L1263.7 930.9L1267.6 931.0L1271.4 931.1L1275.2 931.3L1279.0 931.4L1282.8 931.5L1286.4 931.7L1290.1 931.8L1293.7 931.9L1297.3 932.1L1300.8 932.2L1304.3 932.4L1307.7 932.5L1311.1 932.6L1314.4 932.8L1317.7 932.9L1321.0 933.1L1324.2 933.2L1327.3 933.3L1330.5 933.5L1333.5 933.6L1336.6 933.8L1339.5 933.9L1342.5 934.1L1345.4 934.2L1348.2 934.4L1351.0 934.5L1353.7 934.7L1356.4 934.8L1359.1 935.0L1361.7 935.1L1364.2 935.3L1366.7 935.4L1369.2 935.6L1371.6 935.8L1374.0 935.9L1376.3 936.1L1378.5 936.2L1380.7 936.4L1382.9 936.5L1385.0 936.7L1387.1 936.9L1389.1 937.0L1391.0 937.2L1392.9 937.3L1394.8 937.5L1396.6 937.7L1398.4 937.8L1400.1 938.0L1401.7 938.2L1403.3 938.3L1404.9 938.5L1406.4 938.6L1407.8 938.8L1409.2 939.0L1410.6 939.1L1411.9 939.3L1413.1 939.5L1414.3 939.6L1415.4 939.8L1416.5 940.0L1417.6 940.1L1418.5 940.3L1419.5 940.5L1420.3 940.6L1421.2 940.8L1421.9 941.0L1422.7 941.1L1423.3 941.3L1423.9 941.5L1424.5 941.6L1425.0 941.8L1425.4 942.0L1425.8 942.2L1426.2 942.3L1426.5 942.5L1426.7 942.7L1426.9 942.8"/>
<path d="M117.6 833.3L117.8 833.2L118.0 833.1L118.3 832.9L118.7 832.8L119.1 832.6L119.5 832.5L120.0 832.3L120.5 832.2L121.1 832.0L121.8 831.9L122.4 831.7L123.1 831.6L123.9 831.4L124.7 831.3L125.6 831.1L126.5 831.0L127.4 830.8L128.4 830.7L129.5 830.6L130.6 830.4L131.7 830.3L132.9 830.1L134.1 830.0L135.4 829.8L136.7 829.7L138.0 829.6L139.4 829.4L140.9 829.3L142.4 829.1L143.9 829.0L145.5 828.8L147.1 828.7L148.8 828.6L150.5 828.4L152.3 828.3L154.1 828.1L155.9 828.0L157.8 827.9L159.7 827.7L161.7 827.6L163.7 827.4L165.8 827.3L167.9 827.2L170.0 827.0L172.2 826.9L174.5 826.8L176.7 826.6L179.1 826.5L181.4 826.4L183.8 826.2L186.3 826.1L188.7 826.0L191.3 825.8L193.8 825.7L196.4 825.6L199.1 825.5L201.8 825.3L204.5 825.2L207.3 825.1L210.1 825.0L212.9 824.8L215.8 824.7L218.7 824.6L221.7 824.5L224.7 824.3L227.7 824.2L230.8 824.1L233.9 824.0L237.1 823.9L240.3 823.7L243.5 823.6L246.8 823.5L250.1 823.4L253.4 823.3L256.8 823.2L260.2 823.0L263.6 822.9L267.1 822.8L270.6 822.7L274.2 822.6L277.8 822.5L281.4 822.4L285.1 822.3L288.7 822.2L292.5 822.1L296.2 821.9L300.0 821.8L303.8 821.7L307.7 821.6L311.6 821.5L315.5 821.4L319.4 821.3L323.4 821.2L327.4 821.1L331.5 821.0L335.5 820.9L339.6 820.9L343.8 820.8L347.9 820.7L352.1 820.6L356.3 820.5L360.6 820.4L364.8 820.3L369.1 820.2L373.5 820.1L377.8 820.0L382.2 820.0L386.6 819.9L391.1 819.8L395.5 819.7L400.0 819.6L404.5 819.6L409.0 819.5L413.6 819.4L418.2 819.3L422.8 819.3L427.4 819.2L432.1 819.1L436.8 819.0L441.5 819.0L446.2 818.9L450.9 818.8L455.7 818.8L460.5 818.7L465.3 818.6L470.1 818.6L474.9 818.5L479.8 818.4L484.7 818.4L489.6 818.3L494.5 818.3L499.4 818.2L504.4 818.2L509.4 818.1L514.4 818.1L519.4 818.0L524.4 818.0L529.4 817.9L534.5 817.9L539.5 817.8L544.6 817.8L549.7 817.7L554.8 817.7L559.9 817.6L565.1 817.6L570.2 817.6L575.4 817.5L580.5 817.5L585.7 817.4L590.9 817.4L596.1 817.4L601.3 817.4L606.5 817.3L611.8 817.3L617.0 817.3L622.3 817.2L627.5 817.2L632.8 817.2L638.1 817.2L643.3 817.1L648.6 817.1L653.9 817.1L659.2 817.1L664.5 817.1L669.8 817.1L675.1 817.0L680.4 817.0L685.8 817.0L691.1 817.0L696.4 817.0L701.7 817.0L707.1 817.0L712.4 817.0L717.7 817.0L723.1 817.0L728.4 817.0L733.7 817.0L739.1 817.0L744.4 817.0L749.7 817.0L755.1 817.0L760.4 817.0L765.7 817.0L771.0 817.0L776.4 817.0L781.7 817.0L787.0 817.1L792.3 817.1L797.6 817.1L802.9 817.1L808.2 817.1L813.5 817.1L818.7 817.2L824.0 817.2L829.3 817.2L834.5 817.2L839.8 817.3L845.0 817.3L850.3 817.3L855.5 817.4L860.7 817.4L865.9 817.4L871.1 817.4L876.3 817.5L881.4 817.5L886.6 817.6L891.7 817.6L896.9 817.6L902.0 817.7L907.1 817.7L912.2 817.8L917.3 817.8L922.3 817.9L927.4 817.9L932.4 818.0L937.4 818.0L942.4 818.1L947.4 818.1L952.4 818.2L957.4 818.2L962.3 818.3L967.2 818.3L972.1 818.4L977.0 818.4L981.9 818.5L986.7 818.6L991.5 818.6L996.3 818.7L1001.1 818.8L1005.9 818.8L1010.6 818.9L1015.3 819.0L1020.0 819.0L1024.7 819.1L1029.4 819.2L1034.0 819.3L1038.6 819.3L1043.2 819.4L1047.8 819.5L1052.3 819.6L1056.8 819.6L1061.3 819.7L1065.7 819.8L1070.2 819.9L1074.6 820.0L1079.0 820.0L1083.3 820.1L1087.7 820.2L1092.0 820.3L1096.2 820.4L1100.5 820.5L1104.7 820.6L1108.9 820.7L1113.0 820.8L1117.2 820.9L1121.3 820.9L1125.3 821.0L1129.4 821.1L1133.4 821.2L1137.4 821.3L1141.3 821.4L1145.2 821.5L1149.1 821.6L1153.0 821.7L1156.8 821.8L1160.6 821.9L1164.3 822.1L1168.1 822.2L1171.7 822.3L1175.4 822.4L1179.0 822.5L1182.6 822.6L1186.2 822.7L1189.7 822.8L1193.2 822.9L1196.6 823.0L1200.0 823.2L1203.4 823.3L1206.7 823.4L1210.0 823.5L1213.3 823.6L1216.5 823.7L1219.7 823.9L1222.9 824.0L1226.0 824.1L1229.1 824.2L1232.1 824.3L1235.1 824.5L1238.1 824.6L1241.0 824.7L1243.9 824.8L1246.7 825.0L1249.5 825.1L1252.3 825.2L1255.0 825.3L1257.7 825.5L1260.4 825.6L1263.0 825.7L1265.5 825.8L1268.1 826.0L1270.5 826.1L1273.0 826.2L1275.4 826.4L1277.7 826.5L1280.1 826.6L1282.3 826.8L1284.6 826.9L1286.8 827.0L1288.9 827.2L1291.0 827.3L1293.1 827.4L1295.1 827.6L1297.1 827.7L1299.0 827.9L1300.9 828.0L1302.7 828.1L1304.5 828.3L1306.3 828.4L1308.0 828.6L1309.7 828.7L1311.3 828.8L1312.9 829.0L1314.4 829.1L1315.9 829.3L1317.4 829.4L1318.8 829.6L1320.1 829.7L1321.4 829.8L1322.7 830.0L1323.9 830.1L1325.1 830.3L1326.2 830.4L1327.3 830.6L1328.4 830.7L1329.4 830.8L1330.3 831.0L1331.2 831.1L1332.1 831.3L1332.9 831.4L1333.7 831.6L1334.4 831.7L1335.0 831.9L1335.7 832.0L1336.3 832.2L1336.8 832.3L1337.3 832.5L1337.7 832.6L1338.1 832.8L1338.5 832.9L1338.8 833.1L1339.0 833.2L1339.2 833.3"/>
<path d="M222.0 742.1L222.2 742.0L222.4 741.8L222.7 741.7L223.0 741.6L223.4 741.5L223.8 741.4L224.3 741.2L224.7 741.1L225.3 741.0L225.8 740.9L226.4 740.7L227.0 740.6L227.7 740.5L228.4 740.4L229.2 740.3L230.0 740.1L230.8 740.0L231.7 739.9L232.6 739.8L233.5 739.7L234.5 739.5L235.5 739.4L236.5 739.3L237.6 739.2L238.7 739.1L239.9 738.9L241.1 738.8L242.4 738.7L243.6 738.6L244.9 738.5L246.3 738.4L247.7 738.2L249.1 738.1L250.6 738.0L252.0 737.9L253.6 737.8L255.1 737.7L256.7 737.5L258.4 737.4L260.1 737.3L261.8 737.2L263.5 737.1L265.3 737.0L267.1 736.9L269.0 736.8L270.9 736.6L272.8 736.5L274.7 736.4L276.7 736.3L278.8 736.2L280.8 736.1L282.9 736.0L285.0 735.9L287.2 735.8L289.4 735.7L291.6 735.6L293.9 735.5L296.2 735.4L298.5 735.2L300.9 735.1L303.3 735.0L305.7 734.9L308.1 734.8L310.6 734.7L313.2 734.6L315.7 734.5L318.3 734.4L320.9 734.3L323.6 734.2L326.2 734.1L328.9 734.0L331.7 733.9L334.4 733.9L337.2 733.8L340.1 733.7L342.9 733.6L345.8 733.5L348.7 733.4L351.7 733.3L354.7 733.2L357.7 733.1L360.7 733.0L363.7 732.9L366.8 732.8L369.9 732.8L373.1 732.7L376.3 732.6L379.5 732.5L382.7 732.4L385.9 732.3L389.2 732.3L392.5 732.2L395.8 732.1L399.2 732.0L402.6 731.9L406.0 731.8L409.4 731.8L412.8 731.7L416.3 731.6L419.8 731.5L423.3 731.5L426.9 731.4L430.4 731.3L434.0 731.3L437.6 731.2L441.3 731.1L444.9 731.0L448.6 731.0L452.3 730.9L456.0 730.8L459.8 730.8L463.5 730.7L467.3 730.6L471.1 730.6L474.9 730.5L478.8 730.5L482.6 730.4L486.5 730.3L490.4 730.3L494.3 730.2L498.3 730.2L502.2 730.1L506.2 730.1L510.2 730.0L514.2 730.0L518.2 729.9L522.2 729.9L526.3 729.8L530.3 729.8L534.4 729.7L538.5 729.7L542.6 729.6L546.7 729.6L550.9 729.5L555.0 729.5L559.2 729.4L563.4 729.4L567.6 729.4L571.8 729.3L576.0 729.3L580.2 729.3L584.4 729.2L588.7 729.2L592.9 729.1L597.2 729.1L601.5 729.1L605.8 729.1L610.1 729.0L614.4 729.0L618.7 729.0L623.0 728.9L627.3 728.9L631.7 728.9L636.0 728.9L640.4 728.9L644.7 728.8L649.1 728.8L653.5 728.8L657.8 728.8L662.2 728.8L666.6 728.7L671.0 728.7L675.4 728.7L679.8 728.7L684.2 728.7L688.6 728.7L693.0 728.7L697.5 728.7L701.9 728.7L706.3 728.7L710.7 728.6L715.1 728.6L719.6 728.6L724.0 728.6L728.4 728.6L732.8 728.6L737.2 728.6L741.7 728.6L746.1 728.6L750.5 728.7L754.9 728.7L759.3 728.7L763.8 728.7L768.2 728.7L772.6 728.7L777.0 728.7L781.4 728.7L785.8 728.7L790.2 728.7L794.6 728.8L799.0 728.8L803.3 728.8L807.7 728.8L812.1 728.8L816.4 728.9L820.8 728.9L825.1 728.9L829.5 728.9L833.8 728.9L838.1 729.0L842.4 729.0L846.7 729.0L851.0 729.1L855.3 729.1L859.6 729.1L863.9 729.1L868.1 729.2L872.4 729.2L876.6 729.3L880.8 729.3L885.0 729.3L889.2 729.4L893.4 729.4L897.6 729.4L901.8 729.5L905.9 729.5L910.1 729.6L914.2 729.6L918.3 729.7L922.4 729.7L926.5 729.8L930.5 729.8L934.6 729.9L938.6 729.9L942.6 730.0L946.6 730.0L950.6 730.1L954.6 730.1L958.5 730.2L962.5 730.2L966.4 730.3L970.3 730.3L974.2 730.4L978.0 730.5L981.9 730.5L985.7 730.6L989.5 730.6L993.3 730.7L997.0 730.8L1000.8 730.8L1004.5 730.9L1008.2 731.0L1011.9 731.0L1015.5 731.1L1019.2 731.2L1022.8 731.3L1026.4 731.3L1029.9 731.4L1033.5 731.5L1037.0 731.5L1040.5 731.6L1044.0 731.7L1047.4 731.8L1050.8 731.8L1054.2 731.9L1057.6 732.0L1061.0 732.1L1064.3 732.2L1067.6 732.3L1070.9 732.3L1074.1 732.4L1077.3 732.5L1080.5 732.6L1083.7 732.7L1086.9 732.8L1090.0 732.8L1093.1 732.9L1096.1 733.0L1099.1 733.1L1102.1 733.2L1105.1 733.3L1108.1 733.4L1111.0 733.5L1113.9 733.6L1116.7 733.7L1119.6 733.8L1122.4 733.9L1125.1 733.9L1127.9 734.0L1130.6 734.1L1133.2 734.2L1135.9 734.3L1138.5 734.4L1141.1 734.5L1143.6 734.6L1146.2 734.7L1148.7 734.8L1151.1 734.9L1153.5 735.0L1155.9 735.1L1158.3 735.2L1160.6 735.4L1162.9 735.5L1165.2 735.6L1167.4 735.7L1169.6 735.8L1171.8 735.9L1173.9 736.0L1176.0 736.1L1178.0 736.2L1180.1 736.3L1182.1 736.4L1184.0 736.5L1185.9 736.6L1187.8 736.8L1189.7 736.9L1191.5 737.0L1193.3 737.1L1195.0 737.2L1196.7 737.3L1198.4 737.4L1200.1 737.5L1201.7 737.7L1203.2 737.8L1204.8 737.9L1206.2 738.0L1207.7 738.1L1209.1 738.2L1210.5 738.4L1211.9 738.5L1213.2 738.6L1214.4 738.7L1215.7 738.8L1216.9 738.9L1218.1 739.1L1219.2 739.2L1220.3 739.3L1221.3 739.4L1222.3 739.5L1223.3 739.7L1224.2 739.8L1225.1 739.9L1226.0 740.0L1226.8 740.1L1227.6 740.3L1228.4 740.4L1229.1 740.5L1229.8 740.6L1230.4 740.7L1231.0 740.9L1231.5 741.0L1232.1 741.1L1232.5 741.2L1233.0 741.4L1233.4 741.5L1233.8 741.6L1234.1 741.7L1234.4 741.8L1234.6 742.0L1234.8 742.1"/>
<path d="M339.0 670.5L339.2 670.4L339.5 670.3L339.8 670.2L340.1 670.1L340.4 670.0L340.8 669.9L341.2 669.8L341.6 669.7L342.1 669.6L342.6 669.5L343.1 669.5L343.6 669.4L344.2 669.3L344.8 669.2L345.4 669.1L346.1 669.0L346.8 668.9L347.5 668.8L348.3 668.7L349.1 668.6L349.9 668.5L350.7 668.4L351.6 668.3L352.5 668.3L353.4 668.2L354.3 668.1L355.3 668.0L356.3 667.9L357.4 667.8L358.4 667.7L359.5 667.6L360.7 667.5L361.8 667.4L363.0 667.4L364.2 667.3L365.4 667.2L366.7 667.1L368.0 667.0L369.3 666.9L370.6 666.8L372.0 666.7L373.4 666.7L374.8 666.6L376.3 666.5L377.8 666.4L379.3 666.3L380.8 666.2L382.4 666.1L383.9 666.1L385.6 666.0L387.2 665.9L388.9 665.8L390.5 665.7L392.3 665.7L394.0 665.6L395.8 665.5L397.6 665.4L399.4 665.3L401.2 665.3L403.1 665.2L405.0 665.1L406.9 665.0L408.8 664.9L410.8 664.9L412.8 664.8L414.8 664.7L416.8 664.6L418.9 664.6L421.0 664.5L423.1 664.4L425.2 664.3L427.4 664.3L429.5 664.2L431.7 664.1L434.0 664.0L436.2 664.0L438.5 663.9L440.8 663.8L443.1 663.8L445.4 663.7L447.8 663.6L450.1 663.6L452.5 663.5L455.0 663.4L457.4 663.4L459.9 663.3L462.3 663.2L464.8 663.2L467.4 663.1L469.9 663.0L472.5 663.0L475.0 662.9L477.6 662.9L480.3 662.8L482.9 662.7L485.5 662.7L488.2 662.6L490.9 662.6L493.6 662.5L496.3 662.4L499.1 662.4L501.9 662.3L504.6 662.3L507.4 662.2L510.2 662.2L513.1 662.1L515.9 662.1L518.8 662.0L521.7 662.0L524.6 661.9L527.5 661.9L530.4 661.8L533.3 661.8L536.3 661.7L539.3 661.7L542.2 661.6L545.2 661.6L548.3 661.5L551.3 661.5L554.3 661.5L557.4 661.4L560.4 661.4L563.5 661.3L566.6 661.3L569.7 661.3L572.8 661.2L576.0 661.2L579.1 661.1L582.3 661.1L585.4 661.1L588.6 661.0L591.8 661.0L595.0 661.0L598.2 660.9L601.4 660.9L604.6 660.9L607.8 660.9L611.1 660.8L614.3 660.8L617.6 660.8L620.9 660.7L624.1 660.7L627.4 660.7L630.7 660.7L634.0 660.6L637.3 660.6L640.6 660.6L644.0 660.6L647.3 660.6L650.6 660.5L654.0 660.5L657.3 660.5L660.7 660.5L664.0 660.5L667.4 660.5L670.7 660.4L674.1 660.4L677.5 660.4L680.9 660.4L684.2 660.4L687.6 660.4L691.0 660.4L694.4 660.4L697.8 660.4L701.2 660.3L704.6 660.3L708.0 660.3L711.4 660.3L714.8 660.3L718.2 660.3L721.6 660.3L725.0 660.3L728.4 660.3L731.8 660.3L735.2 660.3L738.6 660.3L742.0 660.3L745.4 660.3L748.8 660.3L752.2 660.3L755.6 660.3L759.0 660.4L762.4 660.4L765.8 660.4L769.2 660.4L772.6 660.4L775.9 660.4L779.3 660.4L782.7 660.4L786.1 660.4L789.4 660.5L792.8 660.5L796.1 660.5L799.5 660.5L802.8 660.5L806.2 660.5L809.5 660.6L812.8 660.6L816.2 660.6L819.5 660.6L822.8 660.6L826.1 660.7L829.4 660.7L832.7 660.7L835.9 660.7L839.2 660.8L842.5 660.8L845.7 660.8L849.0 660.9L852.2 660.9L855.4 660.9L858.6 660.9L861.8 661.0L865.0 661.0L868.2 661.0L871.4 661.1L874.5 661.1L877.7 661.1L880.8 661.2L884.0 661.2L887.1 661.3L890.2 661.3L893.3 661.3L896.4 661.4L899.4 661.4L902.5 661.5L905.5 661.5L908.5 661.5L911.6 661.6L914.6 661.6L917.5 661.7L920.5 661.7L923.5 661.8L926.4 661.8L929.3 661.9L932.2 661.9L935.1 662.0L938.0 662.0L940.9 662.1L943.7 662.1L946.6 662.2L949.4 662.2L952.2 662.3L954.9 662.3L957.7 662.4L960.5 662.4L963.2 662.5L965.9 662.6L968.6 662.6L971.3 662.7L973.9 662.7L976.5 662.8L979.2 662.9L981.8 662.9L984.3 663.0L986.9 663.0L989.4 663.1L992.0 663.2L994.5 663.2L996.9 663.3L999.4 663.4L1001.8 663.4L1004.3 663.5L1006.7 663.6L1009.0 663.6L1011.4 663.7L1013.7 663.8L1016.0 663.8L1018.3 663.9L1020.6 664.0L1022.8 664.0L1025.1 664.1L1027.3 664.2L1029.4 664.3L1031.6 664.3L1033.7 664.4L1035.8 664.5L1037.9 664.6L1040.0 664.6L1042.0 664.7L1044.0 664.8L1046.0 664.9L1048.0 664.9L1049.9 665.0L1051.8 665.1L1053.7 665.2L1055.6 665.3L1057.4 665.3L1059.2 665.4L1061.0 665.5L1062.8 665.6L1064.5 665.7L1066.3 665.7L1067.9 665.8L1069.6 665.9L1071.2 666.0L1072.9 666.1L1074.4 666.1L1076.0 666.2L1077.5 666.3L1079.0 666.4L1080.5 666.5L1082.0 666.6L1083.4 666.7L1084.8 666.7L1086.2 666.8L1087.5 666.9L1088.8 667.0L1090.1 667.1L1091.4 667.2L1092.6 667.3L1093.8 667.4L1095.0 667.4L1096.1 667.5L1097.3 667.6L1098.4 667.7L1099.4 667.8L1100.5 667.9L1101.5 668.0L1102.5 668.1L1103.4 668.2L1104.3 668.3L1105.2 668.3L1106.1 668.4L1106.9 668.5L1107.7 668.6L1108.5 668.7L1109.3 668.8L1110.0 668.9L1110.7 669.0L1111.4 669.1L1112.0 669.2L1112.6 669.3L1113.2 669.4L1113.7 669.5L1114.2 669.5L1114.7 669.6L1115.2 669.7L1115.6 669.8L1116.0 669.9L1116.4 670.0L1116.7 670.1L1117.0 670.2L1117.3 670.3L1117.6 670.4L1117.8 670.5"/>
<path d="M465.0 619.2L465.3 619.2L465.5 619.1L465.8 619.0L466.1 619.0L466.4 618.9L466.7 618.8L467.1 618.8L467.4 618.7L467.8 618.7L468.2 618.6L468.7 618.5L469.1 618.5L469.6 618.4L470.1 618.3L470.6 618.3L471.1 618.2L471.7 618.2L472.2 618.1L472.8 618.0L473.4 618.0L474.1 617.9L474.7 617.8L475.4 617.8L476.1 617.7L476.8 617.7L477.5 617.6L478.2 617.5L479.0 617.5L479.8 617.4L480.6 617.4L481.4 617.3L482.2 617.2L483.1 617.2L484.0 617.1L484.8 617.1L485.8 617.0L486.7 616.9L487.6 616.9L488.6 616.8L489.6 616.8L490.6 616.7L491.6 616.7L492.7 616.6L493.7 616.5L494.8 616.5L495.9 616.4L497.0 616.4L498.1 616.3L499.3 616.3L500.4 616.2L501.6 616.1L502.8 616.1L504.0 616.0L505.2 616.0L506.5 615.9L507.8 615.9L509.0 615.8L510.3 615.8L511.7 615.7L513.0 615.7L514.3 615.6L515.7 615.6L517.1 615.5L518.5 615.5L519.9 615.4L521.3 615.4L522.8 615.3L524.2 615.3L525.7 615.2L527.2 615.2L528.7 615.1L530.2 615.1L531.8 615.0L533.3 615.0L534.9 614.9L536.5 614.9L538.1 614.8L539.7 614.8L541.3 614.7L542.9 614.7L544.6 614.6L546.3 614.6L548.0 614.6L549.6 614.5L551.4 614.5L553.1 614.4L554.8 614.4L556.6 614.3L558.3 614.3L560.1 614.3L561.9 614.2L563.7 614.2L565.5 614.1L567.3 614.1L569.2 614.1L571.0 614.0L572.9 614.0L574.8 614.0L576.6 613.9L578.5 613.9L580.4 613.8L582.4 613.8L584.3 613.8L586.2 613.7L588.2 613.7L590.2 613.7L592.1 613.6L594.1 613.6L596.1 613.6L598.1 613.5L600.1 613.5L602.1 613.5L604.2 613.4L606.2 613.4L608.3 613.4L610.3 613.4L612.4 613.3L614.5 613.3L616.6 613.3L618.7 613.2L620.8 613.2L622.9 613.2L625.0 613.2L627.1 613.1L629.3 613.1L631.4 613.1L633.6 613.1L635.7 613.1L637.9 613.0L640.1 613.0L642.3 613.0L644.4 613.0L646.6 612.9L648.8 612.9L651.0 612.9L653.3 612.9L655.5 612.9L657.7 612.9L659.9 612.8L662.2 612.8L664.4 612.8L666.6 612.8L668.9 612.8L671.1 612.8L673.4 612.7L675.6 612.7L677.9 612.7L680.2 612.7L682.5 612.7L684.7 612.7L687.0 612.7L689.3 612.7L691.6 612.7L693.9 612.7L696.2 612.6L698.4 612.6L700.7 612.6L703.0 612.6L705.3 612.6L707.6 612.6L709.9 612.6L712.2 612.6L714.6 612.6L716.9 612.6L719.2 612.6L721.5 612.6L723.8 612.6L726.1 612.6L728.4 612.6L730.7 612.6L733.0 612.6L735.3 612.6L737.6 612.6L739.9 612.6L742.2 612.6L744.6 612.6L746.9 612.6L749.2 612.6L751.5 612.6L753.8 612.6L756.1 612.6L758.4 612.6L760.6 612.6L762.9 612.7L765.2 612.7L767.5 612.7L769.8 612.7L772.1 612.7L774.3 612.7L776.6 612.7L778.9 612.7L781.2 612.7L783.4 612.7L785.7 612.8L787.9 612.8L790.2 612.8L792.4 612.8L794.6 612.8L796.9 612.8L799.1 612.9L801.3 612.9L803.5 612.9L805.8 612.9L808.0 612.9L810.2 612.9L812.4 613.0L814.5 613.0L816.7 613.0L818.9 613.0L821.1 613.1L823.2 613.1L825.4 613.1L827.5 613.1L829.7 613.1L831.8 613.2L833.9 613.2L836.0 613.2L838.1 613.2L840.2 613.3L842.3 613.3L844.4 613.3L846.5 613.4L848.5 613.4L850.6 613.4L852.6 613.4L854.7 613.5L856.7 613.5L858.7 613.5L860.7 613.6L862.7 613.6L864.7 613.6L866.6 613.7L868.6 613.7L870.6 613.7L872.5 613.8L874.4 613.8L876.4 613.8L878.3 613.9L880.2 613.9L882.0 614.0L883.9 614.0L885.8 614.0L887.6 614.1L889.5 614.1L891.3 614.1L893.1 614.2L894.9 614.2L896.7 614.3L898.5 614.3L900.2 614.3L902.0 614.4L903.7 614.4L905.4 614.5L907.2 614.5L908.8 614.6L910.5 614.6L912.2 614.6L913.9 614.7L915.5 614.7L917.1 614.8L918.7 614.8L920.3 614.9L921.9 614.9L923.5 615.0L925.0 615.0L926.6 615.1L928.1 615.1L929.6 615.2L931.1 615.2L932.6 615.3L934.0 615.3L935.5 615.4L936.9 615.4L938.3 615.5L939.7 615.5L941.1 615.6L942.5 615.6L943.8 615.7L945.1 615.7L946.5 615.8L947.8 615.8L949.0 615.9L950.3 615.9L951.6 616.0L952.8 616.0L954.0 616.1L955.2 616.1L956.4 616.2L957.5 616.3L958.7 616.3L959.8 616.4L960.9 616.4L962.0 616.5L963.1 616.5L964.1 616.6L965.2 616.7L966.2 616.7L967.2 616.8L968.2 616.8L969.2 616.9L970.1 616.9L971.0 617.0L972.0 617.1L972.8 617.1L973.7 617.2L974.6 617.2L975.4 617.3L976.2 617.4L977.0 617.4L977.8 617.5L978.6 617.5L979.3 617.6L980.0 617.7L980.7 617.7L981.4 617.8L982.1 617.8L982.7 617.9L983.4 618.0L984.0 618.0L984.6 618.1L985.1 618.2L985.7 618.2L986.2 618.3L986.7 618.3L987.2 618.4L987.7 618.5L988.1 618.5L988.6 618.6L989.0 618.7L989.4 618.7L989.7 618.8L990.1 618.8L990.4 618.9L990.7 619.0L991.0 619.0L991.3 619.1L991.5 619.2L991.8 619.2"/>
<path d="M597.0 588.5L597.3 588.5L597.5 588.5L597.7 588.5L598.0 588.4L598.2 588.4L598.5 588.4L598.8 588.3L599.1 588.3L599.4 588.3L599.7 588.2L600.0 588.2L600.3 588.2L600.6 588.1L601.0 588.1L601.3 588.1L601.7 588.0L602.1 588.0L602.5 588.0L602.9 588.0L603.3 587.9L603.7 587.9L604.1 587.9L604.5 587.8L605.0 587.8L605.4 587.8L605.9 587.7L606.4 587.7L606.8 587.7L607.3 587.7L607.8 587.6L608.3 587.6L608.8 587.6L609.4 587.5L609.9 587.5L610.4 587.5L611.0 587.5L611.6 587.4L612.1 587.4L612.7 587.4L613.3 587.3L613.9 587.3L614.5 587.3L615.1 587.3L615.7 587.2L616.4 587.2L617.0 587.2L617.6 587.1L618.3 587.1L619.0 587.1L619.6 587.1L620.3 587.0L621.0 587.0L621.7 587.0L622.4 587.0L623.1 586.9L623.8 586.9L624.6 586.9L625.3 586.9L626.1 586.8L626.8 586.8L627.6 586.8L628.3 586.8L629.1 586.7L629.9 586.7L630.7 586.7L631.5 586.7L632.3 586.6L633.1 586.6L633.9 586.6L634.8 586.6L635.6 586.6L636.4 586.5L637.3 586.5L638.1 586.5L639.0 586.5L639.9 586.4L640.8 586.4L641.6 586.4L642.5 586.4L643.4 586.4L644.3 586.3L645.2 586.3L646.1 586.3L647.1 586.3L648.0 586.3L648.9 586.2L649.9 586.2L650.8 586.2L651.8 586.2L652.7 586.2L653.7 586.1L654.7 586.1L655.6 586.1L656.6 586.1L657.6 586.1L658.6 586.1L659.6 586.0L660.6 586.0L661.6 586.0L662.6 586.0L663.6 586.0L664.7 586.0L665.7 585.9L666.7 585.9L667.7 585.9L668.8 585.9L669.8 585.9L670.9 585.9L671.9 585.9L673.0 585.8L674.1 585.8L675.1 585.8L676.2 585.8L677.3 585.8L678.4 585.8L679.4 585.8L680.5 585.8L681.6 585.7L682.7 585.7L683.8 585.7L684.9 585.7L686.0 585.7L687.1 585.7L688.2 585.7L689.3 585.7L690.5 585.7L691.6 585.7L692.7 585.6L693.8 585.6L694.9 585.6L696.1 585.6L697.2 585.6L698.3 585.6L699.5 585.6L700.6 585.6L701.8 585.6L702.9 585.6L704.1 585.6L705.2 585.6L706.4 585.6L707.5 585.6L708.7 585.6L709.8 585.6L711.0 585.5L712.1 585.5L713.3 585.5L714.4 585.5L715.6 585.5L716.8 585.5L717.9 585.5L719.1 585.5L720.2 585.5L721.4 585.5L722.6 585.5L723.7 585.5L724.9 585.5L726.1 585.5L727.2 585.5L728.4 585.5L729.6 585.5L730.7 585.5L731.9 585.5L733.1 585.5L734.2 585.5L735.4 585.5L736.6 585.5L737.7 585.5L738.9 585.5L740.0 585.5L741.2 585.5L742.4 585.5L743.5 585.5L744.7 585.5L745.8 585.5L747.0 585.6L748.1 585.6L749.3 585.6L750.4 585.6L751.6 585.6L752.7 585.6L753.9 585.6L755.0 585.6L756.2 585.6L757.3 585.6L758.5 585.6L759.6 585.6L760.7 585.6L761.9 585.6L763.0 585.6L764.1 585.6L765.2 585.7L766.3 585.7L767.5 585.7L768.6 585.7L769.7 585.7L770.8 585.7L771.9 585.7L773.0 585.7L774.1 585.7L775.2 585.7L776.3 585.8L777.4 585.8L778.4 585.8L779.5 585.8L780.6 585.8L781.7 585.8L782.7 585.8L783.8 585.8L784.9 585.9L785.9 585.9L787.0 585.9L788.0 585.9L789.1 585.9L790.1 585.9L791.1 585.9L792.1 586.0L793.2 586.0L794.2 586.0L795.2 586.0L796.2 586.0L797.2 586.0L798.2 586.1L799.2 586.1L800.2 586.1L801.2 586.1L802.1 586.1L803.1 586.1L804.1 586.2L805.0 586.2L806.0 586.2L806.9 586.2L807.9 586.2L808.8 586.3L809.7 586.3L810.7 586.3L811.6 586.3L812.5 586.3L813.4 586.4L814.3 586.4L815.2 586.4L816.0 586.4L816.9 586.4L817.8 586.5L818.7 586.5L819.5 586.5L820.4 586.5L821.2 586.6L822.0 586.6L822.9 586.6L823.7 586.6L824.5 586.6L825.3 586.7L826.1 586.7L826.9 586.7L827.7 586.7L828.5 586.8L829.2 586.8L830.0 586.8L830.7 586.8L831.5 586.9L832.2 586.9L833.0 586.9L833.7 586.9L834.4 587.0L835.1 587.0L835.8 587.0L836.5 587.0L837.2 587.1L837.8 587.1L838.5 587.1L839.2 587.1L839.8 587.2L840.4 587.2L841.1 587.2L841.7 587.3L842.3 587.3L842.9 587.3L843.5 587.3L844.1 587.4L844.7 587.4L845.2 587.4L845.8 587.5L846.4 587.5L846.9 587.5L847.4 587.5L848.0 587.6L848.5 587.6L849.0 587.6L849.5 587.7L850.0 587.7L850.4 587.7L850.9 587.7L851.4 587.8L851.8 587.8L852.3 587.8L852.7 587.9L853.1 587.9L853.5 587.9L853.9 588.0L854.3 588.0L854.7 588.0L855.1 588.0L855.5 588.1L855.8 588.1L856.2 588.1L856.5 588.2L856.8 588.2L857.1 588.2L857.4 588.3L857.7 588.3L858.0 588.3L858.3 588.4L858.6 588.4L858.8 588.4L859.1 588.5L859.3 588.5L859.5 588.5L859.8 588.5"/>
<path d="M79.2 883.6L81.3 880.9L83.5 878.2L85.7 875.5L87.9 872.8L90.2 870.1L92.4 867.5L94.6 864.8L96.9 862.2L99.1 859.5L101.4 856.9L103.7 854.3L106.0 851.7L108.3 849.1L110.6 846.5L112.9 844.0L115.3 841.4L117.6 838.9L120.0 836.3L122.4 833.8L124.7 831.3L127.1 828.8L129.5 826.3L131.9 823.8L134.4 821.4L136.8 818.9L139.2 816.5L141.7 814.0L144.2 811.6L146.6 809.2L149.1 806.8L151.6 804.4L154.1 802.0L156.6 799.7L159.1 797.3L161.7 795.0L164.2 792.7L166.7 790.4L169.3 788.1L171.9 785.8L174.4 783.5L177.0 781.2L179.6 779.0L182.2 776.7L184.8 774.5L187.4 772.3L190.1 770.1L192.7 767.9L195.4 765.7L198.0 763.5L200.7 761.4L203.3 759.2L206.0 757.1L208.7 755.0L211.4 752.9L214.1 750.8L216.8 748.7L219.5 746.6L222.3 744.6L225.0 742.5L227.7 740.5L230.5 738.5L233.2 736.5L236.0 734.5L238.8 732.5L241.6 730.5L244.3 728.6L247.1 726.6L249.9 724.7L252.7 722.8L255.6 720.9L258.4 719.0L261.2 717.1L264.1 715.2L266.9 713.3L269.8 711.5L272.6 709.7L275.5 707.8L278.3 706.0L281.2 704.2L284.1 702.5L287.0 700.7L289.9 698.9L292.8 697.2L295.7 695.4L298.6 693.7L301.6 692.0L304.5 690.3L307.4 688.6L310.4 687.0L313.3 685.3L316.3 683.7L319.2 682.0L322.2 680.4L325.2 678.8L328.1 677.2L331.1 675.6L334.1 674.1L337.1 672.5L340.1 671.0L343.1 669.5L346.1 667.9L349.1 666.4L352.1 664.9L355.2 663.5L358.2 662.0L361.2 660.5L364.3 659.1L367.3 657.7L370.4 656.3L373.4 654.9L376.5 653.5L379.5 652.1L382.6 650.7L385.7 649.4L388.8 648.0L391.8 646.7L394.9 645.4L398.0 644.1L401.1 642.8L404.2 641.6L407.3 640.3L410.4 639.0L413.5 637.8L416.7 636.6L419.8 635.4L422.9 634.2L426.0 633.0L429.2 631.8L432.3 630.7L435.5 629.5L438.6 628.4L441.8 627.3L444.9 626.2L448.1 625.1L451.2 624.0L454.4 622.9L457.6 621.9L460.7 620.8L463.9 619.8L467.1 618.8L470.3 617.8L473.4 616.8L476.6 615.8L479.8 614.8L483.0 613.9L486.2 613.0L489.4 612.0L492.6 611.1L495.8 610.2L499.0 609.3L502.2 608.4L505.5 607.6L508.7 606.7L511.9 605.9L515.1 605.1L518.3 604.3L521.6 603.5L524.8 602.7L528.0 601.9L531.3 601.1L534.5 600.4L537.8 599.7L541.0 598.9L544.2 598.2L547.5 597.5L550.7 596.9L554.0 596.2L557.2 595.5L560.5 594.9L563.8 594.3L567.0 593.6L570.3 593.0L573.5 592.4L576.8 591.9"/>
<path d="M90.5 1314.4L90.5 1310.8L90.6 1307.2L90.7 1303.6L90.9 1300.0L91.0 1296.5L91.1 1292.9L91.3 1289.3L91.5 1285.8L91.7 1282.2L91.9 1278.6L92.1 1275.1L92.3 1271.5L92.5 1267.9L92.8 1264.4L93.1 1260.8L93.4 1257.3L93.7 1253.7L94.0 1250.2L94.3 1246.6L94.6 1243.1L95.0 1239.5L95.3 1236.0L95.7 1232.4L96.1 1228.9L96.5 1225.4L97.0 1221.9L97.4 1218.3L97.8 1214.8L98.3 1211.3L98.8 1207.8L99.3 1204.3L99.8 1200.8L100.3 1197.3L100.8 1193.8L101.3 1190.3L101.9 1186.8L102.5 1183.3L103.1 1179.8L103.7 1176.3L104.3 1172.9L104.9 1169.4L105.5 1165.9L106.2 1162.5L106.8 1159.0L107.5 1155.6L108.2 1152.1L108.9 1148.7L109.6 1145.3L110.3 1141.8L111.1 1138.4L111.8 1135.0L112.6 1131.6L113.4 1128.2L114.2 1124.8L115.0 1121.4L115.8 1118.0L116.6 1114.6L117.5 1111.2L118.3 1107.8L119.2 1104.5L120.1 1101.1L121.0 1097.8L121.9 1094.4L122.8 1091.1L123.7 1087.8L124.7 1084.4L125.6 1081.1L126.6 1077.8L127.6 1074.5L128.6 1071.2L129.6 1067.9L130.6 1064.6L131.7 1061.3L132.7 1058.1L133.8 1054.8L134.8 1051.5L135.9 1048.3L137.0 1045.1L138.1 1041.8L139.2 1038.6L140.3 1035.4L141.5 1032.2L142.6 1029.0L143.8 1025.8L145.0 1022.6L146.2 1019.4L147.4 1016.3L148.6 1013.1L149.8 1009.9L151.0 1006.8L152.3 1003.7L153.5 1000.5L154.8 997.4L156.1 994.3L157.4 991.2L158.7 988.1L160.0 985.0L161.3 982.0L162.6 978.9L164.0 975.8L165.3 972.8L166.7 969.8L168.1 966.7L169.5 963.7L170.9 960.7L172.3 957.7L173.7 954.7L175.1 951.7L176.6 948.8L178.0 945.8L179.5 942.8L181.0 939.9L182.5 937.0L183.9 934.0L185.4 931.1L187.0 928.2L188.5 925.3L190.0 922.5L191.6 919.6L193.1 916.7L194.7 913.9L196.3 911.0L197.9 908.2L199.4 905.4L201.1 902.6L202.7 899.8L204.3 897.0L205.9 894.2L207.6 891.4L209.2 888.7L210.9 885.9L212.6 883.2L214.2 880.4L215.9 877.7L217.6 875.0L219.3 872.3L221.1 869.6L222.8 867.0L224.5 864.3L226.3 861.7L228.0 859.0L229.8 856.4L231.5 853.8L233.3 851.2L235.1 848.6L236.9 846.0L238.7 843.4L240.5 840.9L242.4 838.3L244.2 835.8L246.0 833.3L247.9 830.7L249.7 828.2L251.6 825.7L253.5 823.3L255.4 820.8L257.2 818.3L259.1 815.9L261.0 813.5L263.0 811.0L264.9 808.6L266.8 806.2L268.7 803.8L270.7 801.5L272.6 799.1L274.6 796.8L276.6 794.4L278.5 792.1L280.5 789.8L282.5 787.5L284.5 785.2L286.5 782.9L288.5 780.6L290.5 778.4L292.6 776.1L294.6 773.9L296.6 771.7L298.7 769.5L300.7 767.3L302.8 765.1L304.9 762.9L306.9 760.8L309.0 758.6L311.1 756.5L313.2 754.4L315.3 752.3L317.4 750.2L319.5 748.1L321.6 746.0L323.8 744.0L325.9 741.9L328.0 739.9L330.2 737.9L332.3 735.8L334.5 733.8L336.7 731.9L338.8 729.9L341.0 727.9L343.2 726.0L345.4 724.1L347.6 722.1L349.8 720.2L352.0 718.3L354.2 716.4L356.4 714.6L358.6 712.7L360.8 710.9L363.1 709.0L365.3 707.2L367.6 705.4L369.8 703.6L372.1 701.8L374.3 700.1L376.6 698.3L378.9 696.6L381.1 694.8L383.4 693.1L385.7 691.4L388.0 689.7L390.3 688.0L392.6 686.3L394.9 684.7L397.2 683.1L399.5 681.4L401.8 679.8L404.1 678.2L406.5 676.6L408.8 675.0L411.1 673.5L413.5 671.9L415.8 670.4L418.2 668.8L420.5 667.3L422.9 665.8L425.3 664.3L427.6 662.9L430.0 661.4L432.4 659.9L434.8 658.5L437.1 657.1L439.5 655.7L441.9 654.3L444.3 652.9L446.7 651.5L449.1 650.1L451.5 648.8L453.9 647.5L456.3 646.1L458.8 644.8L461.2 643.5L463.6 642.3L466.0 641.0L468.5 639.7L470.9 638.5L473.4 637.2L475.8 636.0L478.2 634.8L480.7 633.6L483.1 632.4L485.6 631.3L488.1 630.1L490.5 629.0L493.0 627.9L495.5 626.7L497.9 625.6L500.4 624.5L502.9 623.5L505.4 622.4L507.8 621.3L510.3 620.3L512.8 619.3L515.3 618.3L517.8 617.3L520.3 616.3L522.8 615.3L525.3 614.3L527.8 613.4L530.3 612.5L532.8 611.5L535.3 610.6L537.9 609.7L540.4 608.8L542.9 608.0L545.4 607.1L547.9 606.3L550.5 605.4L553.0 604.6L555.5 603.8L558.1 603.0L560.6 602.2L563.1 601.5L565.7 600.7L568.2 600.0L570.8 599.2L573.3 598.5L575.9 597.8L578.4 597.1L581.0 596.5L583.5 595.8L586.1 595.1L588.6 594.5L591.2 593.9L593.7 593.3L596.3 592.7L598.9 592.1L601.4 591.5L604.0 590.9L606.6 590.4L609.1 589.8L611.7 589.3L614.3 588.8L616.9 588.3L619.4 587.8L622.0 587.3L624.6 586.9L627.2 586.4L629.7 586.0L632.3 585.6L634.9 585.2L637.5 584.8L640.1 584.4L642.7 584.0L645.3 583.7L647.8 583.3L650.4 583.0L653.0 582.7L655.6 582.4L658.2 582.1L660.8 581.8L663.4 581.5L666.0 581.3L668.6 581.0L671.2 580.8L673.8 580.6L676.4 580.4L679.0 580.2L681.6 580.0L684.2 579.8L686.8 579.7L689.4 579.6L692.0 579.4L694.6 579.3L697.2 579.2"/>
<path d="M434.3 1314.6L434.3 1311.0L434.3 1307.4L434.4 1303.8L434.4 1300.3L434.4 1296.7L434.5 1293.1L434.6 1289.5L434.6 1286.0L434.7 1282.4L434.8 1278.8L434.9 1275.3L435.0 1271.7L435.1 1268.1L435.2 1264.6L435.3 1261.0L435.4 1257.5L435.5 1253.9L435.7 1250.4L435.8 1246.8L435.9 1243.3L436.1 1239.7L436.2 1236.2L436.4 1232.6L436.6 1229.1L436.7 1225.6L436.9 1222.0L437.1 1218.5L437.3 1215.0L437.5 1211.5L437.7 1208.0L437.9 1204.4L438.1 1200.9L438.4 1197.4L438.6 1193.9L438.8 1190.4L439.1 1186.9L439.3 1183.5L439.6 1180.0L439.9 1176.5L440.1 1173.0L440.4 1169.5L440.7 1166.1L441.0 1162.6L441.3 1159.2L441.6 1155.7L441.9 1152.3L442.2 1148.8L442.5 1145.4L442.8 1142.0L443.1 1138.5L443.5 1135.1L443.8 1131.7L444.2 1128.3L444.5 1124.9L444.9 1121.5L445.3 1118.1L445.6 1114.7L446.0 1111.3L446.4 1107.9L446.8 1104.6L447.2 1101.2L447.6 1097.9L448.0 1094.5L448.4 1091.2L448.8 1087.8L449.2 1084.5L449.7 1081.2L450.1 1077.9L450.5 1074.6L451.0 1071.3L451.4 1068.0L451.9 1064.7L452.4 1061.4L452.8 1058.1L453.3 1054.9L453.8 1051.6L454.3 1048.3L454.8 1045.1L455.3 1041.9L455.8 1038.6L456.3 1035.4L456.8 1032.2L457.3 1029.0L457.8 1025.8L458.4 1022.6L458.9 1019.4L459.4 1016.3L460.0 1013.1L460.5 1009.9L461.1 1006.8L461.7 1003.7L462.2 1000.5L462.8 997.4L463.4 994.3L464.0 991.2L464.6 988.1L465.2 985.0L465.8 981.9L466.4 978.9L467.0 975.8L467.6 972.8L468.2 969.7L468.8 966.7L469.5 963.7L470.1 960.6L470.7 957.6L471.4 954.6L472.0 951.7L472.7 948.7L473.4 945.7L474.0 942.8L474.7 939.8L475.4 936.9L476.0 934.0L476.7 931.0L477.4 928.1L478.1 925.2L478.8 922.3L479.5 919.5L480.2 916.6L480.9 913.7L481.6 910.9L482.4 908.1L483.1 905.2L483.8 902.4L484.6 899.6L485.3 896.8L486.0 894.0L486.8 891.3L487.5 888.5L488.3 885.8L489.1 883.0L489.8 880.3L490.6 877.6L491.4 874.9L492.2 872.2L492.9 869.5L493.7 866.8L494.5 864.1L495.3 861.5L496.1 858.8L496.9 856.2L497.7 853.6L498.5 851.0L499.4 848.4L500.2 845.8L501.0 843.2L501.8 840.7L502.7 838.1L503.5 835.6L504.3 833.0L505.2 830.5L506.0 828.0L506.9 825.5L507.7 823.0L508.6 820.6L509.5 818.1L510.3 815.7L511.2 813.2L512.1 810.8L513.0 808.4L513.8 806.0L514.7 803.6L515.6 801.2L516.5 798.9L517.4 796.5L518.3 794.2L519.2 791.8L520.1 789.5L521.0 787.2L521.9 784.9L522.9 782.6L523.8 780.4L524.7 778.1L525.6 775.9L526.6 773.6L527.5 771.4L528.4 769.2L529.4 767.0L530.3 764.8L531.3 762.6L532.2 760.5L533.2 758.3L534.1 756.2L535.1 754.1L536.0 752.0L537.0 749.9L538.0 747.8L538.9 745.7L539.9 743.6L540.9 741.6L541.9 739.6L542.9 737.5L543.8 735.5L544.8 733.5L545.8 731.5L546.8 729.6L547.8 727.6L548.8 725.7L549.8 723.7L550.8 721.8L551.8 719.9L552.8 718.0L553.9 716.1L554.9 714.2L555.9 712.4L556.9 710.5L557.9 708.7L559.0 706.9L560.0 705.1L561.0 703.3L562.1 701.5L563.1 699.7L564.1 698.0L565.2 696.2L566.2 694.5L567.3 692.8L568.3 691.0L569.4 689.4L570.4 687.7L571.5 686.0L572.5 684.3L573.6 682.7L574.7 681.1L575.7 679.5L576.8 677.8L577.9 676.3L578.9 674.7L580.0 673.1L581.1 671.6L582.1 670.0L583.2 668.5L584.3 667.0L585.4 665.5L586.5 664.0L587.6 662.5L588.7 661.0L589.7 659.6L590.8 658.2L591.9 656.7L593.0 655.3L594.1 653.9L595.2 652.5L596.3 651.2L597.4 649.8L598.5 648.4L599.7 647.1L600.8 645.8L601.9 644.5L603.0 643.2L604.1 641.9L605.2 640.6L606.3 639.4L607.5 638.1L608.6 636.9L609.7 635.7L610.8 634.5L612.0 633.3L613.1 632.1L614.2 630.9L615.3 629.8L616.5 628.6L617.6 627.5L618.7 626.4L619.9 625.3L621.0 624.2L622.2 623.1L623.3 622.1L624.4 621.0L625.6 620.0L626.7 619.0L627.9 617.9L629.0 616.9L630.2 616.0L631.3 615.0L632.5 614.0L633.6 613.1L634.8 612.1L635.9 611.2L637.1 610.3L638.2 609.4L639.4 608.5L640.6 607.7L641.7 606.8L642.9 606.0L644.0 605.1L645.2 604.3L646.4 603.5L647.5 602.7L648.7 601.9L649.9 601.2L651.0 600.4L652.2 599.7L653.4 598.9L654.6 598.2L655.7 597.5L656.9 596.8L658.1 596.2L659.3 595.5L660.4 594.9L661.6 594.2L662.8 593.6L664.0 593.0L665.1 592.4L666.3 591.8L667.5 591.2L668.7 590.7L669.9 590.1L671.1 589.6L672.2 589.1L673.4 588.5L674.6 588.0L675.8 587.6L677.0 587.1L678.2 586.6L679.4 586.2L680.5 585.8L681.7 585.3L682.9 584.9L684.1 584.5L685.3 584.2L686.5 583.8L687.7 583.4L688.9 583.1L690.1 582.8L691.3 582.5L692.5 582.1L693.7 581.9L694.8 581.6L696.0 581.3L697.2 581.1L698.4 580.8L699.6 580.6L700.8 580.4L702.0 580.2L703.2 580.0L704.4 579.8L705.6 579.7L706.8 579.5L708.0 579.4L709.2 579.2L710.4 579.1L711.6 579.0L712.8 578.9L714.0 578.9L715.2 578.8L716.4 578.8L717.6 578.7L718.8 578.7"/>
<path d="M1245.2 1314.6L1245.2 1311.0L1245.1 1307.4L1245.0 1303.8L1244.9 1300.3L1244.9 1296.7L1244.7 1293.1L1244.6 1289.5L1244.5 1286.0L1244.4 1282.4L1244.2 1278.8L1244.0 1275.3L1243.9 1271.7L1243.7 1268.1L1243.5 1264.6L1243.3 1261.0L1243.1 1257.5L1242.8 1253.9L1242.6 1250.4L1242.3 1246.8L1242.1 1243.3L1241.8 1239.7L1241.5 1236.2L1241.2 1232.6L1240.9 1229.1L1240.6 1225.6L1240.3 1222.1L1239.9 1218.5L1239.6 1215.0L1239.2 1211.5L1238.8 1208.0L1238.4 1204.5L1238.1 1201.0L1237.6 1197.5L1237.2 1194.0L1236.8 1190.5L1236.4 1187.0L1235.9 1183.5L1235.4 1180.0L1235.0 1176.5L1234.5 1173.0L1234.0 1169.6L1233.5 1166.1L1233.0 1162.6L1232.5 1159.2L1231.9 1155.7L1231.4 1152.3L1230.8 1148.9L1230.2 1145.4L1229.7 1142.0L1229.1 1138.6L1228.5 1135.1L1227.9 1131.7L1227.2 1128.3L1226.6 1124.9L1226.0 1121.5L1225.3 1118.1L1224.6 1114.7L1224.0 1111.4L1223.3 1108.0L1222.6 1104.6L1221.9 1101.3L1221.2 1097.9L1220.5 1094.6L1219.7 1091.2L1219.0 1087.9L1218.2 1084.6L1217.4 1081.2L1216.7 1077.9L1215.9 1074.6L1215.1 1071.3L1214.3 1068.0L1213.5 1064.7L1212.6 1061.5L1211.8 1058.2L1211.0 1054.9L1210.1 1051.7L1209.2 1048.4L1208.4 1045.2L1207.5 1041.9L1206.6 1038.7L1205.7 1035.5L1204.8 1032.3L1203.8 1029.1L1202.9 1025.9L1202.0 1022.7L1201.0 1019.5L1200.1 1016.4L1199.1 1013.2L1198.1 1010.0L1197.1 1006.9L1196.1 1003.8L1195.1 1000.6L1194.1 997.5L1193.1 994.4L1192.0 991.3L1191.0 988.2L1189.9 985.1L1188.9 982.0L1187.8 979.0L1186.7 975.9L1185.6 972.9L1184.5 969.8L1183.4 966.8L1182.3 963.8L1181.2 960.8L1180.0 957.8L1178.9 954.8L1177.7 951.8L1176.6 948.8L1175.4 945.8L1174.2 942.9L1173.1 939.9L1171.9 937.0L1170.7 934.1L1169.4 931.2L1168.2 928.3L1167.0 925.4L1165.8 922.5L1164.5 919.6L1163.3 916.7L1162.0 913.9L1160.7 911.1L1159.5 908.2L1158.2 905.4L1156.9 902.6L1155.6 899.8L1154.3 897.0L1153.0 894.2L1151.6 891.4L1150.3 888.7L1149.0 885.9L1147.6 883.2L1146.3 880.5L1144.9 877.7L1143.5 875.0L1142.2 872.3L1140.8 869.6L1139.4 867.0L1138.0 864.3L1136.6 861.7L1135.2 859.0L1133.7 856.4L1132.3 853.8L1130.9 851.2L1129.4 848.6L1128.0 846.0L1126.5 843.4L1125.1 840.8L1123.6 838.3L1122.1 835.8L1120.6 833.2L1119.2 830.7L1117.7 828.2L1116.2 825.7L1114.6 823.2L1113.1 820.8L1111.6 818.3L1110.1 815.9L1108.5 813.4L1107.0 811.0L1105.4 808.6L1103.9 806.2L1102.3 803.8L1100.8 801.4L1099.2 799.1L1097.6 796.7L1096.0 794.4L1094.4 792.0L1092.8 789.7L1091.2 787.4L1089.6 785.1L1088.0 782.8L1086.4 780.6L1084.7 778.3L1083.1 776.1L1081.5 773.8L1079.8 771.6L1078.2 769.4L1076.5 767.2L1074.8 765.0L1073.2 762.9L1071.5 760.7L1069.8 758.6L1068.1 756.4L1066.4 754.3L1064.7 752.2L1063.0 750.1L1061.3 748.0L1059.6 745.9L1057.9 743.9L1056.2 741.8L1054.4 739.8L1052.7 737.8L1051.0 735.8L1049.2 733.8L1047.5 731.8L1045.7 729.8L1044.0 727.8L1042.2 725.9L1040.4 724.0L1038.7 722.0L1036.9 720.1L1035.1 718.2L1033.3 716.3L1031.5 714.5L1029.7 712.6L1027.9 710.8L1026.1 708.9L1024.3 707.1L1022.5 705.3L1020.7 703.5L1018.9 701.7L1017.1 699.9L1015.2 698.2L1013.4 696.4L1011.6 694.7L1009.7 693.0L1007.9 691.3L1006.0 689.6L1004.2 687.9L1002.3 686.2L1000.4 684.6L998.6 682.9L996.7 681.3L994.8 679.7L992.9 678.1L991.1 676.5L989.2 674.9L987.3 673.3L985.4 671.8L983.5 670.2L981.6 668.7L979.7 667.2L977.8 665.7L975.9 664.2L974.0 662.7L972.0 661.3L970.1 659.8L968.2 658.4L966.3 657.0L964.3 655.5L962.4 654.1L960.5 652.8L958.5 651.4L956.6 650.0L954.6 648.7L952.7 647.3L950.7 646.0L948.8 644.7L946.8 643.4L944.9 642.1L942.9 640.9L940.9 639.6L939.0 638.4L937.0 637.1L935.0 635.9L933.0 634.7L931.0 633.5L929.1 632.3L927.1 631.2L925.1 630.0L923.1 628.9L921.1 627.7L919.1 626.6L917.1 625.5L915.1 624.4L913.1 623.3L911.1 622.3L909.1 621.2L907.1 620.2L905.1 619.2L903.0 618.1L901.0 617.1L899.0 616.2L897.0 615.2L894.9 614.2L892.9 613.3L890.9 612.3L888.9 611.4L886.8 610.5L884.8 609.6L882.8 608.7L880.7 607.9L878.7 607.0L876.6 606.2L874.6 605.3L872.5 604.5L870.5 603.7L868.4 602.9L866.4 602.1L864.3 601.4L862.3 600.6L860.2 599.9L858.2 599.1L856.1 598.4L854.0 597.7L852.0 597.0L849.9 596.3L847.8 595.7L845.8 595.0L843.7 594.4L841.6 593.8L839.6 593.1L837.5 592.5L835.4 592.0L833.3 591.4L831.2 590.8L829.2 590.3L827.1 589.7L825.0 589.2L822.9 588.7L820.8 588.2L818.8 587.7L816.7 587.2L814.6 586.8L812.5 586.3L810.4 585.9L808.3 585.5L806.2 585.1L804.1 584.7L802.0 584.3L799.9 583.9L797.8 583.6L795.8 583.2L793.7 582.9L791.6 582.6L789.5 582.3L787.4 582.0L785.3 581.7L783.2 581.4L781.1 581.2L779.0 580.9L776.9 580.7L774.8 580.5L772.7 580.3L770.5 580.1L768.4 579.9L766.3 579.8L764.2 579.6L762.1 579.5L760.0 579.4L757.9 579.2L755.8 579.1L753.7 579.0L751.6 579.0L749.5 578.9"/>
<path d="M1432.2 1034.7L1430.8 1031.4L1429.4 1028.3L1428.0 1025.1L1426.5 1021.9L1425.1 1018.7L1423.6 1015.5L1422.1 1012.4L1420.6 1009.2L1419.1 1006.1L1417.6 1003.0L1416.1 999.9L1414.5 996.7L1413.0 993.6L1411.4 990.5L1409.8 987.5L1408.2 984.4L1406.6 981.3L1404.9 978.2L1403.3 975.2L1401.6 972.2L1400.0 969.1L1398.3 966.1L1396.6 963.1L1394.9 960.1L1393.2 957.1L1391.4 954.1L1389.7 951.1L1387.9 948.2L1386.2 945.2L1384.4 942.3L1382.6 939.3L1380.8 936.4L1379.0 933.5L1377.1 930.6L1375.3 927.7L1373.4 924.8L1371.6 921.9L1369.7 919.0L1367.8 916.2L1365.9 913.3L1364.0 910.5L1362.0 907.7L1360.1 904.8L1358.1 902.0L1356.2 899.2L1354.2 896.5L1352.2 893.7L1350.2 890.9L1348.2 888.2L1346.2 885.4L1344.2 882.7L1342.1 880.0L1340.1 877.3L1338.0 874.6L1335.9 871.9L1333.8 869.2L1331.7 866.5L1329.6 863.9L1327.5 861.2L1325.4 858.6L1323.2 856.0L1321.1 853.4L1318.9 850.8L1316.8 848.2L1314.6 845.6L1312.4 843.0L1310.2 840.5L1308.0 837.9L1305.8 835.4L1303.5 832.9L1301.3 830.4L1299.0 827.9L1296.8 825.4L1294.5 822.9L1292.2 820.4L1289.9 818.0L1287.6 815.5L1285.3 813.1L1283.0 810.7L1280.7 808.3L1278.4 805.9L1276.0 803.5L1273.7 801.2L1271.3 798.8L1268.9 796.4L1266.5 794.1L1264.1 791.8L1261.7 789.5L1259.3 787.2L1256.9 784.9L1254.5 782.6L1252.1 780.4L1249.6 778.1L1247.2 775.9L1244.7 773.6L1242.2 771.4L1239.8 769.2L1237.3 767.0L1234.8 764.9L1232.3 762.7L1229.8 760.5L1227.3 758.4L1224.7 756.3L1222.2 754.2L1219.7 752.0L1217.1 750.0L1214.6 747.9L1212.0 745.8L1209.4 743.8L1206.9 741.7L1204.3 739.7L1201.7 737.7L1199.1 735.7L1196.5 733.7L1193.9 731.7L1191.2 729.7L1188.6 727.8L1186.0 725.8L1183.3 723.9L1180.7 722.0L1178.0 720.1L1175.4 718.2L1172.7 716.3L1170.0 714.4L1167.3 712.6L1164.7 710.7L1162.0 708.9L1159.3 707.1L1156.6 705.3L1153.8 703.5L1151.1 701.7L1148.4 699.9L1145.7 698.2L1142.9 696.4L1140.2 694.7L1137.4 693.0L1134.7 691.3L1131.9 689.6L1129.1 687.9L1126.4 686.3L1123.6 684.6L1120.8 683.0L1118.0 681.3L1115.2 679.7L1112.4 678.1L1109.6 676.5L1106.8 675.0L1104.0 673.4L1101.1 671.8L1098.3 670.3L1095.5 668.8L1092.6 667.3L1089.8 665.8L1086.9 664.3L1084.1 662.8L1081.2 661.3L1078.4 659.9L1075.5 658.5L1072.6 657.0L1069.7 655.6L1066.9 654.2L1064.0 652.9L1061.1 651.5L1058.2 650.1L1055.3 648.8L1052.4 647.4L1049.5 646.1L1046.6 644.8L1043.6 643.5L1040.7 642.2L1037.8 641.0L1034.9 639.7L1031.9 638.5L1029.0 637.2L1026.0 636.0L1023.1 634.8L1020.1 633.6L1017.2 632.5L1014.2 631.3L1011.3 630.1L1008.3 629.0L1005.3 627.9L1002.3 626.8L999.4 625.6L996.4 624.6L993.4 623.5L990.4 622.4L987.4 621.4L984.4 620.3L981.4 619.3L978.4 618.3L975.4 617.3L972.4 616.3L969.4 615.3L966.4 614.4L963.4 613.4L960.4 612.5L957.3 611.6L954.3 610.7L951.3 609.8L948.3 608.9L945.2 608.0L942.2 607.2L939.1 606.3L936.1 605.5L933.1 604.7L930.0 603.9L927.0 603.1L923.9 602.3L920.9 601.5L917.8 600.8L914.7 600.0L911.7 599.3L908.6 598.6L905.6 597.9L902.5 597.2L899.4 596.5L896.3 595.8L893.3 595.2L890.2 594.6L887.1 593.9L884.0 593.3L881.0 592.7L877.9 592.1L874.8 591.6L871.7 591.0L868.6 590.4L865.5 589.9L862.4 589.4L859.3 588.9L856.2 588.4L853.1 587.9L850.0 587.4L846.9 587.0L843.8 586.5L840.7 586.1L837.6 585.7L834.5 585.3L831.4 584.9L828.3 584.5L825.2 584.1L822.1 583.7L819.0 583.4L815.9 583.1L812.7 582.8L809.6 582.5L806.5 582.2L803.4 581.9L800.3 581.6L797.2 581.4L794.0 581.1"/>
<path d="M857.0 1313.4L857.0 1309.8L857.0 1306.2L857.0 1302.6L856.9 1299.0L856.9 1295.5L856.9 1291.9L856.9 1288.3L856.8 1284.7L856.8 1281.2L856.8 1277.6L856.7 1274.0L856.7 1270.5L856.6 1266.9L856.6 1263.4L856.6 1259.8L856.5 1256.2L856.4 1252.7L856.4 1249.1L856.3 1245.6L856.3 1242.0L856.2 1238.5L856.1 1235.0L856.1 1231.4L856.0 1227.9L855.9 1224.4L855.8 1220.8L855.7 1217.3L855.7 1213.8L855.6 1210.3L855.5 1206.7L855.4 1203.2L855.3 1199.7L855.2 1196.2L855.1 1192.7L855.0 1189.2L854.9 1185.7L854.8 1182.2L854.7 1178.8L854.6 1175.3L854.4 1171.8L854.3 1168.3L854.2 1164.9L854.1 1161.4L853.9 1158.0L853.8 1154.5L853.7 1151.1L853.5 1147.6L853.4 1144.2L853.3 1140.8L853.1 1137.3L853.0 1133.9L852.8 1130.5L852.7 1127.1L852.5 1123.7L852.4 1120.3L852.2 1116.9L852.0 1113.5L851.9 1110.1L851.7 1106.8L851.5 1103.4L851.4 1100.0L851.2 1096.7L851.0 1093.3L850.8 1090.0L850.6 1086.7L850.5 1083.3L850.3 1080.0L850.1 1076.7L849.9 1073.4L849.7 1070.1L849.5 1066.8L849.3 1063.5L849.1 1060.2L848.9 1057.0L848.7 1053.7L848.5 1050.4L848.2 1047.2L848.0 1044.0L847.8 1040.7L847.6 1037.5L847.4 1034.3L847.1 1031.1L846.9 1027.9L846.7 1024.7L846.5 1021.5L846.2 1018.3L846.0 1015.1L845.7 1012.0L845.5 1008.8L845.3 1005.7L845.0 1002.5L844.8 999.4L844.5 996.3L844.3 993.2L844.0 990.1L843.7 987.0L843.5 983.9L843.2 980.8L843.0 977.8L842.7 974.7L842.4 971.7L842.2 968.6L841.9 965.6L841.6 962.6L841.3 959.6L841.0 956.6L840.8 953.6L840.5 950.6L840.2 947.6L839.9 944.7L839.6 941.7L839.3 938.8L839.0 935.8L838.7 932.9L838.4 930.0L838.1 927.1L837.8 924.2L837.5 921.3L837.2 918.4L836.9 915.6L836.6 912.7L836.3 909.9L836.0 907.0L835.6 904.2L835.3 901.4L835.0 898.6L834.7 895.8L834.4 893.0L834.0 890.3L833.7 887.5L833.4 884.8L833.0 882.0L832.7 879.3L832.4 876.6L832.0 873.9L831.7 871.2L831.3 868.5L831.0 865.8L830.7 863.2L830.3 860.5L830.0 857.9L829.6 855.2L829.2 852.6L828.9 850.0L828.5 847.4L828.2 844.8L827.8 842.3L827.5 839.7L827.1 837.2L826.7 834.6L826.4 832.1L826.0 829.6L825.6 827.1L825.2 824.6L824.9 822.1L824.5 819.6L824.1 817.2L823.7 814.7L823.4 812.3L823.0 809.9L822.6 807.5L822.2 805.1L821.8 802.7L821.4 800.3L821.0 798.0L820.6 795.6L820.3 793.3L819.9 791.0L819.5 788.6L819.1 786.3L818.7 784.0L818.3 781.8L817.9 779.5L817.5 777.2L817.1 775.0L816.6 772.8L816.2 770.6L815.8 768.4L815.4 766.2L815.0 764.0L814.6 761.8L814.2 759.7L813.8 757.5L813.3 755.4L812.9 753.3L812.5 751.2L812.1 749.1L811.7 747.0L811.2 744.9L810.8 742.9L810.4 740.8L809.9 738.8L809.5 736.8L809.1 734.8L808.7 732.8L808.2 730.8L807.8 728.8L807.4 726.9L806.9 724.9L806.5 723.0L806.0 721.1L805.6 719.2L805.2 717.3L804.7 715.4L804.3 713.5L803.8 711.7L803.4 709.8L802.9 708.0L802.5 706.2L802.0 704.4L801.6 702.6L801.1 700.8L800.7 699.0L800.2 697.3L799.8 695.5L799.3 693.8L798.8 692.1L798.4 690.4L797.9 688.7L797.5 687.0L797.0 685.3L796.5 683.7L796.1 682.1L795.6 680.4L795.2 678.8L794.7 677.2L794.2 675.6L793.8 674.1L793.3 672.5L792.8 670.9L792.3 669.4L791.9 667.9L791.4 666.4L790.9 664.9L790.4 663.4L790.0 661.9L789.5 660.5L789.0 659.0L788.5 657.6L788.1 656.2L787.6 654.7L787.1 653.4L786.6 652.0L786.1 650.6L785.7 649.2L785.2 647.9L784.7 646.6L784.2 645.3L783.7 644.0L783.2 642.7L782.7 641.4L782.3 640.1L781.8 638.9L781.3 637.6L780.8 636.4L780.3 635.2L779.8 634.0L779.3 632.8L778.8 631.6L778.3 630.5L777.8 629.3L777.3 628.2L776.8 627.0L776.3 625.9L775.8 624.8L775.3 623.8L774.9 622.7L774.4 621.6L773.9 620.6L773.4 619.5L772.9 618.5L772.4 617.5L771.8 616.5L771.3 615.5L770.8 614.6L770.3 613.6L769.8 612.7L769.3 611.7L768.8 610.8L768.3 609.9L767.8 609.0L767.3 608.2L766.8 607.3L766.3 606.4L765.8 605.6L765.3 604.8L764.8 604.0L764.3 603.2L763.8 602.4L763.2 601.6L762.7 600.8L762.2 600.1L761.7 599.4L761.2 598.6L760.7 597.9L760.2 597.2L759.7 596.5L759.1 595.9L758.6 595.2L758.1 594.6L757.6 593.9L757.1 593.3L756.6 592.7L756.1 592.1L755.5 591.5L755.0 591.0L754.5 590.4L754.0 589.9L753.5 589.3L753.0 588.8L752.4 588.3L751.9 587.8L751.4 587.3L750.9 586.9L750.4 586.4L749.8 586.0L749.3 585.6L748.8 585.1L748.3 584.7L747.8 584.4L747.2 584.0L746.7 583.6L746.2 583.3L745.7 582.9L745.2 582.6L744.6 582.3L744.1 582.0L743.6 581.7L743.1 581.4L742.5 581.2L742.0 580.9L741.5 580.7L741.0 580.5L740.5 580.3L739.9 580.1L739.4 579.9L738.9 579.7L738.4 579.6L737.8 579.4L737.3 579.3L736.8 579.2L736.3 579.1L735.7 579.0L735.2 578.9L734.7 578.8L734.2 578.8L733.6 578.7L733.1 578.7L732.6 578.7" stroke="#d8370f" stroke-width="2.7"/>
</g>
<g fill="#000" stroke="#000" stroke-width="0.35" font-size="37.5">
<text transform="translate(756.3,1299.3) scale(0.95,1)" text-anchor="middle" id="xt0">0</text>
<text transform="translate(509.5,1299.3) scale(0.95,1)" text-anchor="middle">-5</text>
<text transform="translate(262.8,1299.3) scale(0.95,1)" text-anchor="middle">-10</text>
<text transform="translate(1003.3,1299.3) scale(0.95,1)" text-anchor="middle">5</text>
<text transform="translate(1250.3,1299.3) scale(0.95,1)" text-anchor="middle">10</text>
<text transform="translate(129.3,155.6) scale(0.95,1)" text-anchor="end">10</text>
<text transform="translate(129.3,402.6) scale(0.95,1)" text-anchor="end">5</text>
<text transform="translate(129.3,649.6) scale(0.95,1)" text-anchor="end">0</text>
<text transform="translate(129.3,896.6) scale(0.95,1)" text-anchor="end">-5</text>
<text transform="translate(129.3,1143.6) scale(0.95,1)" text-anchor="end">-10</text>
<text x="755" y="1339" text-anchor="middle" font-size="36.6">X (arcsec)</text>
<text transform="translate(46.8,638) rotate(-90)" text-anchor="middle" font-size="36.6">Y (arcsec)</text>
</g>
<g fill="#000" stroke="#000" stroke-width="0.35">
<text x="1389" y="63" font-size="53">Jupiter</text>
<g font-size="33.4">
<text x="1389" y="132.5">Date : 2016-07-13</text>
<text x="1389" y="174.5">21:45:17 (Earth)</text>
<text x="1389" y="216.5">20:55:58 (Target)</text>
</g>
<g font-size="30">
<text x="1389" y="283.5">Ephemeris :</text>
<rect x="1388" y="293.5" width="168" height="1.6"/>
<text x="1389" y="328.7">d (UA)<tspan x="1509">= 5.93</tspan></text>
<text x="1389" y="370.5"><tspan font-family="Liberation Serif" font-size="32">λ</tspan><tspan font-size="13.5" dx="3" dy="5">sub-Earth</tspan><tspan dy="-5" x="1476">(<tspan font-size="10.5" dy="-13">o</tspan><tspan dy="13">)</tspan> = -1.59</tspan></text>
<text x="1389" y="413"><tspan font-family="Liberation Serif" font-size="32">α</tspan><tspan font-size="13.5" dx="5" dy="5">Earth-Sun</tspan><tspan dy="-5" x="1480">(<tspan font-size="10.5" dy="-13">o</tspan><tspan dy="13">)</tspan> = 9.01</tspan></text>
<text x="1389" y="455">CML<tspan font-size="13.5" dx="3" dy="5">SIII</tspan><tspan dy="-5" x="1485.5">(<tspan font-size="10.5" dy="-13">o</tspan><tspan dy="13">)</tspan> = 195</tspan></text>
<text x="1389" y="497">LT<tspan font-size="13.5" dx="5" dy="5">Io</tspan><tspan dy="-5" x="1448">(h) = 17.4</tspan></text>
</g>
</g>
<g fill="#999" stroke="#999" stroke-width="0.3" font-size="30">
<text x="1389" y="564">HST Imaging :</text>
<rect x="1388" y="573.5" width="202" height="1.6"/>
<text x="1389" y="609">STIS/FUV-MAMA</text>
<text x="1389" y="651">Filter : F25SRF2</text>
<text x="1389" y="693">Int. time (s) = 100</text>
<text x="1389" y="735">FOV (") = 53.82</text>
<text x="1389" y="777">Data : ocx845p17</text>
</g>
<!-- colorbar -->
<defs>
<linearGradient id="cb" x1="0" y1="1" x2="0" y2="0">
<stop offset="0" stop-color="rgb(0,0,0)"/>
<stop offset="0.1" stop-color="rgb(0,0,22)"/>
<stop offset="0.2" stop-color="rgb(0,0,52)"/>
<stop offset="0.3" stop-color="rgb(0,0,92)"/>
<stop offset="0.4" stop-color="rgb(0,0,132)"/>
<stop offset="0.5" stop-color="rgb(0,42,168)"/>
<stop offset="0.6" stop-color="rgb(0,86,206)"/>
<stop offset="0.7" stop-color="rgb(0,128,242)"/>
<stop offset="0.76" stop-color="rgb(8,152,255)"/>
<stop offset="0.82" stop-color="rgb(60,174,255)"/>
<stop offset="0.9" stop-color="rgb(140,210,255)"/>
<stop offset="1" stop-color="rgb(250,253,255)"/>
</linearGradient>
</defs>
<rect x="1436.5" y="945.5" width="48" height="308" fill="url(#cb)" stroke="#000" stroke-width="2"/>
<g id="cbticks" stroke="#000" stroke-width="1.3">
<path d="M1436.5 1253.5h5M1484.5 1253.5h-5"/>
<path d="M1436.5 1238.1h2.5M1484.5 1238.1h-2.5"/>
<path d="M1436.5 1222.7h2.5M1484.5 1222.7h-2.5"/>
<path d="M1436.5 1207.3h2.5M1484.5 1207.3h-2.5"/>
<path d="M1436.5 1191.9h5M1484.5 1191.9h-5"/>
<path d="M1436.5 1176.5h2.5M1484.5 1176.5h-2.5"/>
<path d="M1436.5 1161.1h2.5M1484.5 1161.1h-2.5"/>
<path d="M1436.5 1145.7h2.5M1484.5 1145.7h-2.5"/>
<path d="M1436.5 1130.3h5M1484.5 1130.3h-5"/>
<path d="M1436.5 1114.9h2.5M1484.5 1114.9h-2.5"/>
<path d="M1436.5 1099.5h2.5M1484.5 1099.5h-2.5"/>
<path d="M1436.5 1084.1h2.5M1484.5 1084.1h-2.5"/>
<path d="M1436.5 1068.7h5M1484.5 1068.7h-5"/>
<path d="M1436.5 1053.3h2.5M1484.5 1053.3h-2.5"/>
<path d="M1436.5 1037.9h2.5M1484.5 1037.9h-2.5"/>
<path d="M1436.5 1022.5h2.5M1484.5 1022.5h-2.5"/>
<path d="M1436.5 1007.1h5M1484.5 1007.1h-5"/>
<path d="M1436.5 991.7h2.5M1484.5 991.7h-2.5"/>
<path d="M1436.5 976.3h2.5M1484.5 976.3h-2.5"/>
<path d="M1436.5 960.9h2.5M1484.5 960.9h-2.5"/>
<path d="M1436.5 945.5h5M1484.5 945.5h-5"/>
<path d="M1444.5 945.5v3"/>
<path d="M1452.5 945.5v3"/>
<path d="M1460.5 945.5v3"/>
<path d="M1468.5 945.5v3"/>
<path d="M1476.5 945.5v3"/>
</g>
<g fill="#000" stroke="#000" stroke-width="0.3" font-size="29.3">
<text x="1426" y="930" font-size="36.5">Flux</text>
<text x="1492" y="960.8">0.10</text>
<text x="1492" y="1016.5">0.08</text>
<text x="1492" y="1077.3">0.06</text>
<text x="1492" y="1139.3">0.04</text>
<text x="1492" y="1199.5">0.02</text>
<text x="1492" y="1252.5">0.00</text>
<text transform="translate(1417,1099) rotate(-90)" text-anchor="middle" font-size="29.7">(counts.s<tspan font-size="13" dy="-12">-1</tspan><tspan dy="12">)</tspan></text>
</g>

</svg>
</body></html>
